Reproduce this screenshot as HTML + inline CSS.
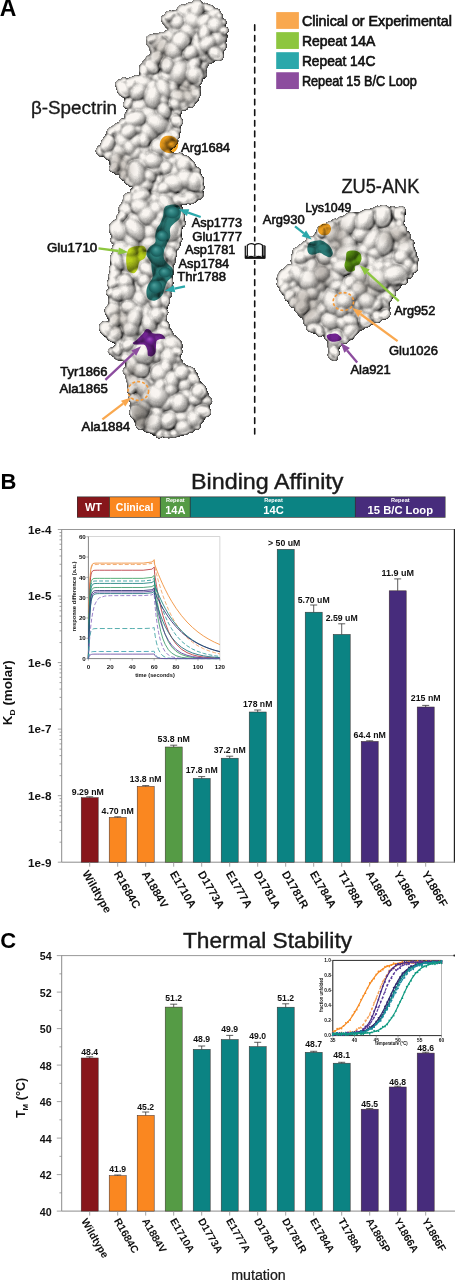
<!DOCTYPE html>
<html><head><meta charset="utf-8"><style>
html,body{margin:0;padding:0;background:#fff;}
svg{display:block;}
text{font-family:"Liberation Sans", sans-serif;}
</style></head><body>
<svg width="455" height="1280" viewBox="0 0 455 1280">
<defs><radialGradient id="h00"><stop offset="0" stop-color="rgb(83,83,83)"/><stop offset="0.25" stop-color="rgb(82,82,82)"/><stop offset="0.45" stop-color="rgb(77,77,77)"/><stop offset="0.6" stop-color="rgb(72,72,72)"/><stop offset="0.72" stop-color="rgb(66,66,66)"/><stop offset="0.82" stop-color="rgb(59,59,59)"/><stop offset="0.89" stop-color="rgb(52,52,52)"/><stop offset="0.94" stop-color="rgb(45,45,45)"/><stop offset="0.975" stop-color="rgb(38,38,38)"/><stop offset="1.0" stop-color="rgb(26,26,26)"/></radialGradient><radialGradient id="h01"><stop offset="0" stop-color="rgb(95,95,95)"/><stop offset="0.25" stop-color="rgb(93,93,93)"/><stop offset="0.45" stop-color="rgb(88,88,88)"/><stop offset="0.6" stop-color="rgb(81,81,81)"/><stop offset="0.72" stop-color="rgb(74,74,74)"/><stop offset="0.82" stop-color="rgb(65,65,65)"/><stop offset="0.89" stop-color="rgb(57,57,57)"/><stop offset="0.94" stop-color="rgb(49,49,49)"/><stop offset="0.975" stop-color="rgb(41,41,41)"/><stop offset="1.0" stop-color="rgb(26,26,26)"/></radialGradient><radialGradient id="h02"><stop offset="0" stop-color="rgb(107,107,107)"/><stop offset="0.25" stop-color="rgb(104,104,104)"/><stop offset="0.45" stop-color="rgb(98,98,98)"/><stop offset="0.6" stop-color="rgb(90,90,90)"/><stop offset="0.72" stop-color="rgb(82,82,82)"/><stop offset="0.82" stop-color="rgb(72,72,72)"/><stop offset="0.89" stop-color="rgb(62,62,62)"/><stop offset="0.94" stop-color="rgb(53,53,53)"/><stop offset="0.975" stop-color="rgb(44,44,44)"/><stop offset="1.0" stop-color="rgb(26,26,26)"/></radialGradient><radialGradient id="h03"><stop offset="0" stop-color="rgb(118,118,118)"/><stop offset="0.25" stop-color="rgb(115,115,115)"/><stop offset="0.45" stop-color="rgb(108,108,108)"/><stop offset="0.6" stop-color="rgb(100,100,100)"/><stop offset="0.72" stop-color="rgb(90,90,90)"/><stop offset="0.82" stop-color="rgb(79,79,79)"/><stop offset="0.89" stop-color="rgb(68,68,68)"/><stop offset="0.94" stop-color="rgb(57,57,57)"/><stop offset="0.975" stop-color="rgb(46,46,46)"/><stop offset="1.0" stop-color="rgb(26,26,26)"/></radialGradient><radialGradient id="h04"><stop offset="0" stop-color="rgb(130,130,130)"/><stop offset="0.25" stop-color="rgb(127,127,127)"/><stop offset="0.45" stop-color="rgb(119,119,119)"/><stop offset="0.6" stop-color="rgb(109,109,109)"/><stop offset="0.72" stop-color="rgb(98,98,98)"/><stop offset="0.82" stop-color="rgb(85,85,85)"/><stop offset="0.89" stop-color="rgb(73,73,73)"/><stop offset="0.94" stop-color="rgb(61,61,61)"/><stop offset="0.975" stop-color="rgb(49,49,49)"/><stop offset="1.0" stop-color="rgb(26,26,26)"/></radialGradient><radialGradient id="h05"><stop offset="0" stop-color="rgb(141,141,141)"/><stop offset="0.25" stop-color="rgb(138,138,138)"/><stop offset="0.45" stop-color="rgb(129,129,129)"/><stop offset="0.6" stop-color="rgb(118,118,118)"/><stop offset="0.72" stop-color="rgb(106,106,106)"/><stop offset="0.82" stop-color="rgb(92,92,92)"/><stop offset="0.89" stop-color="rgb(78,78,78)"/><stop offset="0.94" stop-color="rgb(65,65,65)"/><stop offset="0.975" stop-color="rgb(51,51,51)"/><stop offset="1.0" stop-color="rgb(26,26,26)"/></radialGradient><radialGradient id="h06"><stop offset="0" stop-color="rgb(153,153,153)"/><stop offset="0.25" stop-color="rgb(149,149,149)"/><stop offset="0.45" stop-color="rgb(139,139,139)"/><stop offset="0.6" stop-color="rgb(128,128,128)"/><stop offset="0.72" stop-color="rgb(114,114,114)"/><stop offset="0.82" stop-color="rgb(98,98,98)"/><stop offset="0.89" stop-color="rgb(84,84,84)"/><stop offset="0.94" stop-color="rgb(69,69,69)"/><stop offset="0.975" stop-color="rgb(54,54,54)"/><stop offset="1.0" stop-color="rgb(26,26,26)"/></radialGradient><radialGradient id="h07"><stop offset="0" stop-color="rgb(165,165,165)"/><stop offset="0.25" stop-color="rgb(160,160,160)"/><stop offset="0.45" stop-color="rgb(150,150,150)"/><stop offset="0.6" stop-color="rgb(137,137,137)"/><stop offset="0.72" stop-color="rgb(122,122,122)"/><stop offset="0.82" stop-color="rgb(105,105,105)"/><stop offset="0.89" stop-color="rgb(89,89,89)"/><stop offset="0.94" stop-color="rgb(73,73,73)"/><stop offset="0.975" stop-color="rgb(56,56,56)"/><stop offset="1.0" stop-color="rgb(26,26,26)"/></radialGradient><radialGradient id="h08"><stop offset="0" stop-color="rgb(176,176,176)"/><stop offset="0.25" stop-color="rgb(171,171,171)"/><stop offset="0.45" stop-color="rgb(160,160,160)"/><stop offset="0.6" stop-color="rgb(146,146,146)"/><stop offset="0.72" stop-color="rgb(130,130,130)"/><stop offset="0.82" stop-color="rgb(112,112,112)"/><stop offset="0.89" stop-color="rgb(94,94,94)"/><stop offset="0.94" stop-color="rgb(77,77,77)"/><stop offset="0.975" stop-color="rgb(59,59,59)"/><stop offset="1.0" stop-color="rgb(26,26,26)"/></radialGradient><radialGradient id="h09"><stop offset="0" stop-color="rgb(188,188,188)"/><stop offset="0.25" stop-color="rgb(183,183,183)"/><stop offset="0.45" stop-color="rgb(170,170,170)"/><stop offset="0.6" stop-color="rgb(155,155,155)"/><stop offset="0.72" stop-color="rgb(138,138,138)"/><stop offset="0.82" stop-color="rgb(118,118,118)"/><stop offset="0.89" stop-color="rgb(99,99,99)"/><stop offset="0.94" stop-color="rgb(81,81,81)"/><stop offset="0.975" stop-color="rgb(62,62,62)"/><stop offset="1.0" stop-color="rgb(26,26,26)"/></radialGradient><radialGradient id="h010"><stop offset="0" stop-color="rgb(199,199,199)"/><stop offset="0.25" stop-color="rgb(194,194,194)"/><stop offset="0.45" stop-color="rgb(181,181,181)"/><stop offset="0.6" stop-color="rgb(165,165,165)"/><stop offset="0.72" stop-color="rgb(146,146,146)"/><stop offset="0.82" stop-color="rgb(125,125,125)"/><stop offset="0.89" stop-color="rgb(105,105,105)"/><stop offset="0.94" stop-color="rgb(85,85,85)"/><stop offset="0.975" stop-color="rgb(64,64,64)"/><stop offset="1.0" stop-color="rgb(26,26,26)"/></radialGradient><radialGradient id="h011"><stop offset="0" stop-color="rgb(211,211,211)"/><stop offset="0.25" stop-color="rgb(205,205,205)"/><stop offset="0.45" stop-color="rgb(191,191,191)"/><stop offset="0.6" stop-color="rgb(174,174,174)"/><stop offset="0.72" stop-color="rgb(154,154,154)"/><stop offset="0.82" stop-color="rgb(132,132,132)"/><stop offset="0.89" stop-color="rgb(110,110,110)"/><stop offset="0.94" stop-color="rgb(89,89,89)"/><stop offset="0.975" stop-color="rgb(67,67,67)"/><stop offset="1.0" stop-color="rgb(26,26,26)"/></radialGradient><radialGradient id="h10"><stop offset="0" stop-color="rgb(104,104,104)"/><stop offset="0.25" stop-color="rgb(102,102,102)"/><stop offset="0.45" stop-color="rgb(98,98,98)"/><stop offset="0.6" stop-color="rgb(92,92,92)"/><stop offset="0.72" stop-color="rgb(86,86,86)"/><stop offset="0.82" stop-color="rgb(79,79,79)"/><stop offset="0.89" stop-color="rgb(72,72,72)"/><stop offset="0.94" stop-color="rgb(66,66,66)"/><stop offset="0.975" stop-color="rgb(59,59,59)"/><stop offset="1.0" stop-color="rgb(46,46,46)"/></radialGradient><radialGradient id="h11"><stop offset="0" stop-color="rgb(115,115,115)"/><stop offset="0.25" stop-color="rgb(113,113,113)"/><stop offset="0.45" stop-color="rgb(108,108,108)"/><stop offset="0.6" stop-color="rgb(102,102,102)"/><stop offset="0.72" stop-color="rgb(94,94,94)"/><stop offset="0.82" stop-color="rgb(86,86,86)"/><stop offset="0.89" stop-color="rgb(78,78,78)"/><stop offset="0.94" stop-color="rgb(70,70,70)"/><stop offset="0.975" stop-color="rgb(61,61,61)"/><stop offset="1.0" stop-color="rgb(46,46,46)"/></radialGradient><radialGradient id="h12"><stop offset="0" stop-color="rgb(127,127,127)"/><stop offset="0.25" stop-color="rgb(124,124,124)"/><stop offset="0.45" stop-color="rgb(118,118,118)"/><stop offset="0.6" stop-color="rgb(111,111,111)"/><stop offset="0.72" stop-color="rgb(102,102,102)"/><stop offset="0.82" stop-color="rgb(92,92,92)"/><stop offset="0.89" stop-color="rgb(83,83,83)"/><stop offset="0.94" stop-color="rgb(74,74,74)"/><stop offset="0.975" stop-color="rgb(64,64,64)"/><stop offset="1.0" stop-color="rgb(46,46,46)"/></radialGradient><radialGradient id="h13"><stop offset="0" stop-color="rgb(139,139,139)"/><stop offset="0.25" stop-color="rgb(136,136,136)"/><stop offset="0.45" stop-color="rgb(129,129,129)"/><stop offset="0.6" stop-color="rgb(120,120,120)"/><stop offset="0.72" stop-color="rgb(110,110,110)"/><stop offset="0.82" stop-color="rgb(99,99,99)"/><stop offset="0.89" stop-color="rgb(88,88,88)"/><stop offset="0.94" stop-color="rgb(78,78,78)"/><stop offset="0.975" stop-color="rgb(67,67,67)"/><stop offset="1.0" stop-color="rgb(46,46,46)"/></radialGradient><radialGradient id="h14"><stop offset="0" stop-color="rgb(150,150,150)"/><stop offset="0.25" stop-color="rgb(147,147,147)"/><stop offset="0.45" stop-color="rgb(139,139,139)"/><stop offset="0.6" stop-color="rgb(129,129,129)"/><stop offset="0.72" stop-color="rgb(118,118,118)"/><stop offset="0.82" stop-color="rgb(106,106,106)"/><stop offset="0.89" stop-color="rgb(93,93,93)"/><stop offset="0.94" stop-color="rgb(81,81,81)"/><stop offset="0.975" stop-color="rgb(69,69,69)"/><stop offset="1.0" stop-color="rgb(46,46,46)"/></radialGradient><radialGradient id="h15"><stop offset="0" stop-color="rgb(162,162,162)"/><stop offset="0.25" stop-color="rgb(158,158,158)"/><stop offset="0.45" stop-color="rgb(149,149,149)"/><stop offset="0.6" stop-color="rgb(139,139,139)"/><stop offset="0.72" stop-color="rgb(126,126,126)"/><stop offset="0.82" stop-color="rgb(112,112,112)"/><stop offset="0.89" stop-color="rgb(99,99,99)"/><stop offset="0.94" stop-color="rgb(85,85,85)"/><stop offset="0.975" stop-color="rgb(72,72,72)"/><stop offset="1.0" stop-color="rgb(46,46,46)"/></radialGradient><radialGradient id="h16"><stop offset="0" stop-color="rgb(173,173,173)"/><stop offset="0.25" stop-color="rgb(169,169,169)"/><stop offset="0.45" stop-color="rgb(160,160,160)"/><stop offset="0.6" stop-color="rgb(148,148,148)"/><stop offset="0.72" stop-color="rgb(134,134,134)"/><stop offset="0.82" stop-color="rgb(119,119,119)"/><stop offset="0.89" stop-color="rgb(104,104,104)"/><stop offset="0.94" stop-color="rgb(89,89,89)"/><stop offset="0.975" stop-color="rgb(74,74,74)"/><stop offset="1.0" stop-color="rgb(46,46,46)"/></radialGradient><radialGradient id="h17"><stop offset="0" stop-color="rgb(185,185,185)"/><stop offset="0.25" stop-color="rgb(181,181,181)"/><stop offset="0.45" stop-color="rgb(170,170,170)"/><stop offset="0.6" stop-color="rgb(157,157,157)"/><stop offset="0.72" stop-color="rgb(142,142,142)"/><stop offset="0.82" stop-color="rgb(126,126,126)"/><stop offset="0.89" stop-color="rgb(109,109,109)"/><stop offset="0.94" stop-color="rgb(93,93,93)"/><stop offset="0.975" stop-color="rgb(77,77,77)"/><stop offset="1.0" stop-color="rgb(46,46,46)"/></radialGradient><radialGradient id="h18"><stop offset="0" stop-color="rgb(197,197,197)"/><stop offset="0.25" stop-color="rgb(192,192,192)"/><stop offset="0.45" stop-color="rgb(180,180,180)"/><stop offset="0.6" stop-color="rgb(166,166,166)"/><stop offset="0.72" stop-color="rgb(150,150,150)"/><stop offset="0.82" stop-color="rgb(132,132,132)"/><stop offset="0.89" stop-color="rgb(115,115,115)"/><stop offset="0.94" stop-color="rgb(97,97,97)"/><stop offset="0.975" stop-color="rgb(79,79,79)"/><stop offset="1.0" stop-color="rgb(46,46,46)"/></radialGradient><radialGradient id="h19"><stop offset="0" stop-color="rgb(208,208,208)"/><stop offset="0.25" stop-color="rgb(203,203,203)"/><stop offset="0.45" stop-color="rgb(191,191,191)"/><stop offset="0.6" stop-color="rgb(176,176,176)"/><stop offset="0.72" stop-color="rgb(159,159,159)"/><stop offset="0.82" stop-color="rgb(139,139,139)"/><stop offset="0.89" stop-color="rgb(120,120,120)"/><stop offset="0.94" stop-color="rgb(101,101,101)"/><stop offset="0.975" stop-color="rgb(82,82,82)"/><stop offset="1.0" stop-color="rgb(46,46,46)"/></radialGradient><radialGradient id="h110"><stop offset="0" stop-color="rgb(220,220,220)"/><stop offset="0.25" stop-color="rgb(214,214,214)"/><stop offset="0.45" stop-color="rgb(201,201,201)"/><stop offset="0.6" stop-color="rgb(185,185,185)"/><stop offset="0.72" stop-color="rgb(167,167,167)"/><stop offset="0.82" stop-color="rgb(145,145,145)"/><stop offset="0.89" stop-color="rgb(125,125,125)"/><stop offset="0.94" stop-color="rgb(105,105,105)"/><stop offset="0.975" stop-color="rgb(85,85,85)"/><stop offset="1.0" stop-color="rgb(46,46,46)"/></radialGradient><radialGradient id="h111"><stop offset="0" stop-color="rgb(231,231,231)"/><stop offset="0.25" stop-color="rgb(225,225,225)"/><stop offset="0.45" stop-color="rgb(212,212,212)"/><stop offset="0.6" stop-color="rgb(194,194,194)"/><stop offset="0.72" stop-color="rgb(175,175,175)"/><stop offset="0.82" stop-color="rgb(152,152,152)"/><stop offset="0.89" stop-color="rgb(130,130,130)"/><stop offset="0.94" stop-color="rgb(109,109,109)"/><stop offset="0.975" stop-color="rgb(87,87,87)"/><stop offset="1.0" stop-color="rgb(46,46,46)"/></radialGradient><radialGradient id="h20"><stop offset="0" stop-color="rgb(124,124,124)"/><stop offset="0.25" stop-color="rgb(122,122,122)"/><stop offset="0.45" stop-color="rgb(118,118,118)"/><stop offset="0.6" stop-color="rgb(113,113,113)"/><stop offset="0.72" stop-color="rgb(107,107,107)"/><stop offset="0.82" stop-color="rgb(99,99,99)"/><stop offset="0.89" stop-color="rgb(93,93,93)"/><stop offset="0.94" stop-color="rgb(86,86,86)"/><stop offset="0.975" stop-color="rgb(79,79,79)"/><stop offset="1.0" stop-color="rgb(66,66,66)"/></radialGradient><radialGradient id="h21"><stop offset="0" stop-color="rgb(136,136,136)"/><stop offset="0.25" stop-color="rgb(134,134,134)"/><stop offset="0.45" stop-color="rgb(128,128,128)"/><stop offset="0.6" stop-color="rgb(122,122,122)"/><stop offset="0.72" stop-color="rgb(115,115,115)"/><stop offset="0.82" stop-color="rgb(106,106,106)"/><stop offset="0.89" stop-color="rgb(98,98,98)"/><stop offset="0.94" stop-color="rgb(90,90,90)"/><stop offset="0.975" stop-color="rgb(82,82,82)"/><stop offset="1.0" stop-color="rgb(66,66,66)"/></radialGradient><radialGradient id="h22"><stop offset="0" stop-color="rgb(147,147,147)"/><stop offset="0.25" stop-color="rgb(145,145,145)"/><stop offset="0.45" stop-color="rgb(139,139,139)"/><stop offset="0.6" stop-color="rgb(131,131,131)"/><stop offset="0.72" stop-color="rgb(123,123,123)"/><stop offset="0.82" stop-color="rgb(113,113,113)"/><stop offset="0.89" stop-color="rgb(103,103,103)"/><stop offset="0.94" stop-color="rgb(94,94,94)"/><stop offset="0.975" stop-color="rgb(84,84,84)"/><stop offset="1.0" stop-color="rgb(66,66,66)"/></radialGradient><radialGradient id="h23"><stop offset="0" stop-color="rgb(159,159,159)"/><stop offset="0.25" stop-color="rgb(156,156,156)"/><stop offset="0.45" stop-color="rgb(149,149,149)"/><stop offset="0.6" stop-color="rgb(140,140,140)"/><stop offset="0.72" stop-color="rgb(131,131,131)"/><stop offset="0.82" stop-color="rgb(119,119,119)"/><stop offset="0.89" stop-color="rgb(109,109,109)"/><stop offset="0.94" stop-color="rgb(98,98,98)"/><stop offset="0.975" stop-color="rgb(87,87,87)"/><stop offset="1.0" stop-color="rgb(66,66,66)"/></radialGradient><radialGradient id="h24"><stop offset="0" stop-color="rgb(171,171,171)"/><stop offset="0.25" stop-color="rgb(167,167,167)"/><stop offset="0.45" stop-color="rgb(159,159,159)"/><stop offset="0.6" stop-color="rgb(150,150,150)"/><stop offset="0.72" stop-color="rgb(139,139,139)"/><stop offset="0.82" stop-color="rgb(126,126,126)"/><stop offset="0.89" stop-color="rgb(114,114,114)"/><stop offset="0.94" stop-color="rgb(102,102,102)"/><stop offset="0.975" stop-color="rgb(89,89,89)"/><stop offset="1.0" stop-color="rgb(66,66,66)"/></radialGradient><radialGradient id="h25"><stop offset="0" stop-color="rgb(182,182,182)"/><stop offset="0.25" stop-color="rgb(179,179,179)"/><stop offset="0.45" stop-color="rgb(170,170,170)"/><stop offset="0.6" stop-color="rgb(159,159,159)"/><stop offset="0.72" stop-color="rgb(147,147,147)"/><stop offset="0.82" stop-color="rgb(133,133,133)"/><stop offset="0.89" stop-color="rgb(119,119,119)"/><stop offset="0.94" stop-color="rgb(106,106,106)"/><stop offset="0.975" stop-color="rgb(92,92,92)"/><stop offset="1.0" stop-color="rgb(66,66,66)"/></radialGradient><radialGradient id="h26"><stop offset="0" stop-color="rgb(194,194,194)"/><stop offset="0.25" stop-color="rgb(190,190,190)"/><stop offset="0.45" stop-color="rgb(180,180,180)"/><stop offset="0.6" stop-color="rgb(168,168,168)"/><stop offset="0.72" stop-color="rgb(155,155,155)"/><stop offset="0.82" stop-color="rgb(139,139,139)"/><stop offset="0.89" stop-color="rgb(124,124,124)"/><stop offset="0.94" stop-color="rgb(110,110,110)"/><stop offset="0.975" stop-color="rgb(95,95,95)"/><stop offset="1.0" stop-color="rgb(66,66,66)"/></radialGradient><radialGradient id="h27"><stop offset="0" stop-color="rgb(205,205,205)"/><stop offset="0.25" stop-color="rgb(201,201,201)"/><stop offset="0.45" stop-color="rgb(191,191,191)"/><stop offset="0.6" stop-color="rgb(178,178,178)"/><stop offset="0.72" stop-color="rgb(163,163,163)"/><stop offset="0.82" stop-color="rgb(146,146,146)"/><stop offset="0.89" stop-color="rgb(130,130,130)"/><stop offset="0.94" stop-color="rgb(114,114,114)"/><stop offset="0.975" stop-color="rgb(97,97,97)"/><stop offset="1.0" stop-color="rgb(66,66,66)"/></radialGradient><radialGradient id="h28"><stop offset="0" stop-color="rgb(217,217,217)"/><stop offset="0.25" stop-color="rgb(212,212,212)"/><stop offset="0.45" stop-color="rgb(201,201,201)"/><stop offset="0.6" stop-color="rgb(187,187,187)"/><stop offset="0.72" stop-color="rgb(171,171,171)"/><stop offset="0.82" stop-color="rgb(153,153,153)"/><stop offset="0.89" stop-color="rgb(135,135,135)"/><stop offset="0.94" stop-color="rgb(118,118,118)"/><stop offset="0.975" stop-color="rgb(100,100,100)"/><stop offset="1.0" stop-color="rgb(66,66,66)"/></radialGradient><radialGradient id="h29"><stop offset="0" stop-color="rgb(229,229,229)"/><stop offset="0.25" stop-color="rgb(223,223,223)"/><stop offset="0.45" stop-color="rgb(211,211,211)"/><stop offset="0.6" stop-color="rgb(196,196,196)"/><stop offset="0.72" stop-color="rgb(179,179,179)"/><stop offset="0.82" stop-color="rgb(159,159,159)"/><stop offset="0.89" stop-color="rgb(140,140,140)"/><stop offset="0.94" stop-color="rgb(122,122,122)"/><stop offset="0.975" stop-color="rgb(102,102,102)"/><stop offset="1.0" stop-color="rgb(66,66,66)"/></radialGradient><radialGradient id="h210"><stop offset="0" stop-color="rgb(240,240,240)"/><stop offset="0.25" stop-color="rgb(235,235,235)"/><stop offset="0.45" stop-color="rgb(222,222,222)"/><stop offset="0.6" stop-color="rgb(205,205,205)"/><stop offset="0.72" stop-color="rgb(187,187,187)"/><stop offset="0.82" stop-color="rgb(166,166,166)"/><stop offset="0.89" stop-color="rgb(146,146,146)"/><stop offset="0.94" stop-color="rgb(126,126,126)"/><stop offset="0.975" stop-color="rgb(105,105,105)"/><stop offset="1.0" stop-color="rgb(66,66,66)"/></radialGradient><radialGradient id="h211"><stop offset="0" stop-color="rgb(252,252,252)"/><stop offset="0.25" stop-color="rgb(246,246,246)"/><stop offset="0.45" stop-color="rgb(232,232,232)"/><stop offset="0.6" stop-color="rgb(215,215,215)"/><stop offset="0.72" stop-color="rgb(195,195,195)"/><stop offset="0.82" stop-color="rgb(172,172,172)"/><stop offset="0.89" stop-color="rgb(151,151,151)"/><stop offset="0.94" stop-color="rgb(130,130,130)"/><stop offset="0.975" stop-color="rgb(108,108,108)"/><stop offset="1.0" stop-color="rgb(66,66,66)"/></radialGradient><radialGradient id="h30"><stop offset="0" stop-color="rgb(145,145,145)"/><stop offset="0.25" stop-color="rgb(143,143,143)"/><stop offset="0.45" stop-color="rgb(138,138,138)"/><stop offset="0.6" stop-color="rgb(133,133,133)"/><stop offset="0.72" stop-color="rgb(127,127,127)"/><stop offset="0.82" stop-color="rgb(120,120,120)"/><stop offset="0.89" stop-color="rgb(113,113,113)"/><stop offset="0.94" stop-color="rgb(106,106,106)"/><stop offset="0.975" stop-color="rgb(100,100,100)"/><stop offset="1.0" stop-color="rgb(87,87,87)"/></radialGradient><radialGradient id="h31"><stop offset="0" stop-color="rgb(156,156,156)"/><stop offset="0.25" stop-color="rgb(154,154,154)"/><stop offset="0.45" stop-color="rgb(149,149,149)"/><stop offset="0.6" stop-color="rgb(142,142,142)"/><stop offset="0.72" stop-color="rgb(135,135,135)"/><stop offset="0.82" stop-color="rgb(127,127,127)"/><stop offset="0.89" stop-color="rgb(118,118,118)"/><stop offset="0.94" stop-color="rgb(110,110,110)"/><stop offset="0.975" stop-color="rgb(102,102,102)"/><stop offset="1.0" stop-color="rgb(87,87,87)"/></radialGradient><radialGradient id="h32"><stop offset="0" stop-color="rgb(168,168,168)"/><stop offset="0.25" stop-color="rgb(165,165,165)"/><stop offset="0.45" stop-color="rgb(159,159,159)"/><stop offset="0.6" stop-color="rgb(152,152,152)"/><stop offset="0.72" stop-color="rgb(143,143,143)"/><stop offset="0.82" stop-color="rgb(133,133,133)"/><stop offset="0.89" stop-color="rgb(124,124,124)"/><stop offset="0.94" stop-color="rgb(114,114,114)"/><stop offset="0.975" stop-color="rgb(105,105,105)"/><stop offset="1.0" stop-color="rgb(87,87,87)"/></radialGradient><radialGradient id="h33"><stop offset="0" stop-color="rgb(179,179,179)"/><stop offset="0.25" stop-color="rgb(176,176,176)"/><stop offset="0.45" stop-color="rgb(170,170,170)"/><stop offset="0.6" stop-color="rgb(161,161,161)"/><stop offset="0.72" stop-color="rgb(151,151,151)"/><stop offset="0.82" stop-color="rgb(140,140,140)"/><stop offset="0.89" stop-color="rgb(129,129,129)"/><stop offset="0.94" stop-color="rgb(118,118,118)"/><stop offset="0.975" stop-color="rgb(107,107,107)"/><stop offset="1.0" stop-color="rgb(87,87,87)"/></radialGradient><radialGradient id="h34"><stop offset="0" stop-color="rgb(191,191,191)"/><stop offset="0.25" stop-color="rgb(188,188,188)"/><stop offset="0.45" stop-color="rgb(180,180,180)"/><stop offset="0.6" stop-color="rgb(170,170,170)"/><stop offset="0.72" stop-color="rgb(159,159,159)"/><stop offset="0.82" stop-color="rgb(146,146,146)"/><stop offset="0.89" stop-color="rgb(134,134,134)"/><stop offset="0.94" stop-color="rgb(122,122,122)"/><stop offset="0.975" stop-color="rgb(110,110,110)"/><stop offset="1.0" stop-color="rgb(87,87,87)"/></radialGradient><radialGradient id="h35"><stop offset="0" stop-color="rgb(203,203,203)"/><stop offset="0.25" stop-color="rgb(199,199,199)"/><stop offset="0.45" stop-color="rgb(190,190,190)"/><stop offset="0.6" stop-color="rgb(179,179,179)"/><stop offset="0.72" stop-color="rgb(167,167,167)"/><stop offset="0.82" stop-color="rgb(153,153,153)"/><stop offset="0.89" stop-color="rgb(140,140,140)"/><stop offset="0.94" stop-color="rgb(126,126,126)"/><stop offset="0.975" stop-color="rgb(112,112,112)"/><stop offset="1.0" stop-color="rgb(87,87,87)"/></radialGradient><radialGradient id="h36"><stop offset="0" stop-color="rgb(214,214,214)"/><stop offset="0.25" stop-color="rgb(210,210,210)"/><stop offset="0.45" stop-color="rgb(201,201,201)"/><stop offset="0.6" stop-color="rgb(189,189,189)"/><stop offset="0.72" stop-color="rgb(175,175,175)"/><stop offset="0.82" stop-color="rgb(160,160,160)"/><stop offset="0.89" stop-color="rgb(145,145,145)"/><stop offset="0.94" stop-color="rgb(130,130,130)"/><stop offset="0.975" stop-color="rgb(115,115,115)"/><stop offset="1.0" stop-color="rgb(87,87,87)"/></radialGradient><radialGradient id="h37"><stop offset="0" stop-color="rgb(226,226,226)"/><stop offset="0.25" stop-color="rgb(221,221,221)"/><stop offset="0.45" stop-color="rgb(211,211,211)"/><stop offset="0.6" stop-color="rgb(198,198,198)"/><stop offset="0.72" stop-color="rgb(183,183,183)"/><stop offset="0.82" stop-color="rgb(166,166,166)"/><stop offset="0.89" stop-color="rgb(150,150,150)"/><stop offset="0.94" stop-color="rgb(134,134,134)"/><stop offset="0.975" stop-color="rgb(118,118,118)"/><stop offset="1.0" stop-color="rgb(87,87,87)"/></radialGradient><radialGradient id="h38"><stop offset="0" stop-color="rgb(237,237,237)"/><stop offset="0.25" stop-color="rgb(233,233,233)"/><stop offset="0.45" stop-color="rgb(221,221,221)"/><stop offset="0.6" stop-color="rgb(207,207,207)"/><stop offset="0.72" stop-color="rgb(191,191,191)"/><stop offset="0.82" stop-color="rgb(173,173,173)"/><stop offset="0.89" stop-color="rgb(155,155,155)"/><stop offset="0.94" stop-color="rgb(138,138,138)"/><stop offset="0.975" stop-color="rgb(120,120,120)"/><stop offset="1.0" stop-color="rgb(87,87,87)"/></radialGradient><radialGradient id="h39"><stop offset="0" stop-color="rgb(249,249,249)"/><stop offset="0.25" stop-color="rgb(244,244,244)"/><stop offset="0.45" stop-color="rgb(232,232,232)"/><stop offset="0.6" stop-color="rgb(217,217,217)"/><stop offset="0.72" stop-color="rgb(199,199,199)"/><stop offset="0.82" stop-color="rgb(180,180,180)"/><stop offset="0.89" stop-color="rgb(161,161,161)"/><stop offset="0.94" stop-color="rgb(142,142,142)"/><stop offset="0.975" stop-color="rgb(123,123,123)"/><stop offset="1.0" stop-color="rgb(87,87,87)"/></radialGradient><radialGradient id="h310"><stop offset="0" stop-color="rgb(255,255,255)"/><stop offset="0.25" stop-color="rgb(255,255,255)"/><stop offset="0.45" stop-color="rgb(242,242,242)"/><stop offset="0.6" stop-color="rgb(226,226,226)"/><stop offset="0.72" stop-color="rgb(207,207,207)"/><stop offset="0.82" stop-color="rgb(186,186,186)"/><stop offset="0.89" stop-color="rgb(166,166,166)"/><stop offset="0.94" stop-color="rgb(146,146,146)"/><stop offset="0.975" stop-color="rgb(125,125,125)"/><stop offset="1.0" stop-color="rgb(87,87,87)"/></radialGradient><radialGradient id="h311"><stop offset="0" stop-color="rgb(255,255,255)"/><stop offset="0.25" stop-color="rgb(255,255,255)"/><stop offset="0.45" stop-color="rgb(252,252,252)"/><stop offset="0.6" stop-color="rgb(235,235,235)"/><stop offset="0.72" stop-color="rgb(215,215,215)"/><stop offset="0.82" stop-color="rgb(193,193,193)"/><stop offset="0.89" stop-color="rgb(171,171,171)"/><stop offset="0.94" stop-color="rgb(150,150,150)"/><stop offset="0.975" stop-color="rgb(128,128,128)"/><stop offset="1.0" stop-color="rgb(87,87,87)"/></radialGradient><radialGradient id="h40"><stop offset="0" stop-color="rgb(165,165,165)"/><stop offset="0.25" stop-color="rgb(163,163,163)"/><stop offset="0.45" stop-color="rgb(159,159,159)"/><stop offset="0.6" stop-color="rgb(153,153,153)"/><stop offset="0.72" stop-color="rgb(147,147,147)"/><stop offset="0.82" stop-color="rgb(140,140,140)"/><stop offset="0.89" stop-color="rgb(134,134,134)"/><stop offset="0.94" stop-color="rgb(127,127,127)"/><stop offset="0.975" stop-color="rgb(120,120,120)"/><stop offset="1.0" stop-color="rgb(107,107,107)"/></radialGradient><radialGradient id="h41"><stop offset="0" stop-color="rgb(177,177,177)"/><stop offset="0.25" stop-color="rgb(174,174,174)"/><stop offset="0.45" stop-color="rgb(169,169,169)"/><stop offset="0.6" stop-color="rgb(163,163,163)"/><stop offset="0.72" stop-color="rgb(155,155,155)"/><stop offset="0.82" stop-color="rgb(147,147,147)"/><stop offset="0.89" stop-color="rgb(139,139,139)"/><stop offset="0.94" stop-color="rgb(131,131,131)"/><stop offset="0.975" stop-color="rgb(123,123,123)"/><stop offset="1.0" stop-color="rgb(107,107,107)"/></radialGradient><radialGradient id="h42"><stop offset="0" stop-color="rgb(188,188,188)"/><stop offset="0.25" stop-color="rgb(186,186,186)"/><stop offset="0.45" stop-color="rgb(180,180,180)"/><stop offset="0.6" stop-color="rgb(172,172,172)"/><stop offset="0.72" stop-color="rgb(163,163,163)"/><stop offset="0.82" stop-color="rgb(154,154,154)"/><stop offset="0.89" stop-color="rgb(144,144,144)"/><stop offset="0.94" stop-color="rgb(135,135,135)"/><stop offset="0.975" stop-color="rgb(125,125,125)"/><stop offset="1.0" stop-color="rgb(107,107,107)"/></radialGradient><radialGradient id="h43"><stop offset="0" stop-color="rgb(200,200,200)"/><stop offset="0.25" stop-color="rgb(197,197,197)"/><stop offset="0.45" stop-color="rgb(190,190,190)"/><stop offset="0.6" stop-color="rgb(181,181,181)"/><stop offset="0.72" stop-color="rgb(171,171,171)"/><stop offset="0.82" stop-color="rgb(160,160,160)"/><stop offset="0.89" stop-color="rgb(149,149,149)"/><stop offset="0.94" stop-color="rgb(139,139,139)"/><stop offset="0.975" stop-color="rgb(128,128,128)"/><stop offset="1.0" stop-color="rgb(107,107,107)"/></radialGradient><radialGradient id="h44"><stop offset="0" stop-color="rgb(211,211,211)"/><stop offset="0.25" stop-color="rgb(208,208,208)"/><stop offset="0.45" stop-color="rgb(200,200,200)"/><stop offset="0.6" stop-color="rgb(191,191,191)"/><stop offset="0.72" stop-color="rgb(179,179,179)"/><stop offset="0.82" stop-color="rgb(167,167,167)"/><stop offset="0.89" stop-color="rgb(155,155,155)"/><stop offset="0.94" stop-color="rgb(143,143,143)"/><stop offset="0.975" stop-color="rgb(130,130,130)"/><stop offset="1.0" stop-color="rgb(107,107,107)"/></radialGradient><radialGradient id="h45"><stop offset="0" stop-color="rgb(223,223,223)"/><stop offset="0.25" stop-color="rgb(219,219,219)"/><stop offset="0.45" stop-color="rgb(211,211,211)"/><stop offset="0.6" stop-color="rgb(200,200,200)"/><stop offset="0.72" stop-color="rgb(188,188,188)"/><stop offset="0.82" stop-color="rgb(173,173,173)"/><stop offset="0.89" stop-color="rgb(160,160,160)"/><stop offset="0.94" stop-color="rgb(147,147,147)"/><stop offset="0.975" stop-color="rgb(133,133,133)"/><stop offset="1.0" stop-color="rgb(107,107,107)"/></radialGradient><radialGradient id="h46"><stop offset="0" stop-color="rgb(235,235,235)"/><stop offset="0.25" stop-color="rgb(231,231,231)"/><stop offset="0.45" stop-color="rgb(221,221,221)"/><stop offset="0.6" stop-color="rgb(209,209,209)"/><stop offset="0.72" stop-color="rgb(196,196,196)"/><stop offset="0.82" stop-color="rgb(180,180,180)"/><stop offset="0.89" stop-color="rgb(165,165,165)"/><stop offset="0.94" stop-color="rgb(151,151,151)"/><stop offset="0.975" stop-color="rgb(135,135,135)"/><stop offset="1.0" stop-color="rgb(107,107,107)"/></radialGradient><radialGradient id="h47"><stop offset="0" stop-color="rgb(246,246,246)"/><stop offset="0.25" stop-color="rgb(242,242,242)"/><stop offset="0.45" stop-color="rgb(231,231,231)"/><stop offset="0.6" stop-color="rgb(218,218,218)"/><stop offset="0.72" stop-color="rgb(204,204,204)"/><stop offset="0.82" stop-color="rgb(187,187,187)"/><stop offset="0.89" stop-color="rgb(171,171,171)"/><stop offset="0.94" stop-color="rgb(155,155,155)"/><stop offset="0.975" stop-color="rgb(138,138,138)"/><stop offset="1.0" stop-color="rgb(107,107,107)"/></radialGradient><radialGradient id="h48"><stop offset="0" stop-color="rgb(255,255,255)"/><stop offset="0.25" stop-color="rgb(253,253,253)"/><stop offset="0.45" stop-color="rgb(242,242,242)"/><stop offset="0.6" stop-color="rgb(228,228,228)"/><stop offset="0.72" stop-color="rgb(212,212,212)"/><stop offset="0.82" stop-color="rgb(193,193,193)"/><stop offset="0.89" stop-color="rgb(176,176,176)"/><stop offset="0.94" stop-color="rgb(159,159,159)"/><stop offset="0.975" stop-color="rgb(141,141,141)"/><stop offset="1.0" stop-color="rgb(107,107,107)"/></radialGradient><radialGradient id="h49"><stop offset="0" stop-color="rgb(255,255,255)"/><stop offset="0.25" stop-color="rgb(255,255,255)"/><stop offset="0.45" stop-color="rgb(252,252,252)"/><stop offset="0.6" stop-color="rgb(237,237,237)"/><stop offset="0.72" stop-color="rgb(220,220,220)"/><stop offset="0.82" stop-color="rgb(200,200,200)"/><stop offset="0.89" stop-color="rgb(181,181,181)"/><stop offset="0.94" stop-color="rgb(162,162,162)"/><stop offset="0.975" stop-color="rgb(143,143,143)"/><stop offset="1.0" stop-color="rgb(107,107,107)"/></radialGradient><radialGradient id="h410"><stop offset="0" stop-color="rgb(255,255,255)"/><stop offset="0.25" stop-color="rgb(255,255,255)"/><stop offset="0.45" stop-color="rgb(255,255,255)"/><stop offset="0.6" stop-color="rgb(246,246,246)"/><stop offset="0.72" stop-color="rgb(228,228,228)"/><stop offset="0.82" stop-color="rgb(207,207,207)"/><stop offset="0.89" stop-color="rgb(186,186,186)"/><stop offset="0.94" stop-color="rgb(166,166,166)"/><stop offset="0.975" stop-color="rgb(146,146,146)"/><stop offset="1.0" stop-color="rgb(107,107,107)"/></radialGradient><radialGradient id="h411"><stop offset="0" stop-color="rgb(255,255,255)"/><stop offset="0.25" stop-color="rgb(255,255,255)"/><stop offset="0.45" stop-color="rgb(255,255,255)"/><stop offset="0.6" stop-color="rgb(255,255,255)"/><stop offset="0.72" stop-color="rgb(236,236,236)"/><stop offset="0.82" stop-color="rgb(213,213,213)"/><stop offset="0.89" stop-color="rgb(192,192,192)"/><stop offset="0.94" stop-color="rgb(170,170,170)"/><stop offset="0.975" stop-color="rgb(148,148,148)"/><stop offset="1.0" stop-color="rgb(107,107,107)"/></radialGradient><filter id="molS" filterUnits="userSpaceOnUse" x="60" y="0" width="200" height="445" color-interpolation-filters="sRGB">
 <feColorMatrix in="SourceGraphic" type="luminanceToAlpha" result="h0"/>
 <feGaussianBlur in="h0" stdDeviation="0.9" result="h"/>
 <feDiffuseLighting in="h" surfaceScale="22.0" diffuseConstant="1" lighting-color="#ffffff" result="diff">
  <feDistantLight azimuth="235" elevation="60"/>
 </feDiffuseLighting>
 <feColorMatrix in="h" type="matrix" values="0 0 0 1 0  0 0 0 1 0  0 0 0 1 0  0 0 0 0 1" result="hr"/>
 <feGaussianBlur in="hr" stdDeviation="1.8" result="hb"/>
 <feComposite in="hr" in2="hb" operator="arithmetic" k1="0" k2="9" k3="-9" k4="0.5" result="L"/>
 <feComposite in="diff" in2="L" operator="arithmetic" k1="0" k2="0.5" k3="0.8" k4="0.1" result="F"/>
 <feComponentTransfer in="h0" result="mask"><feFuncA type="linear" slope="40" intercept="-1"/></feComponentTransfer>
 <feColorMatrix in="F" type="matrix" values="0.975 0 0 0 0  0 0.962 0 0 0  0 0 0.945 0 0  0 0 0 1 0" result="lit"/>
 <feMorphology in="mask" operator="erode" radius="1.2" result="inner"/>
 <feGaussianBlur in="inner" stdDeviation="0.8" result="innerb"/>
 <feColorMatrix in="innerb" type="matrix" values="0 0 0 0.4 0.60  0 0 0 0.4 0.60  0 0 0 0.4 0.60  0 0 0 0 1" result="rimf"/>
 <feComposite in="lit" in2="rimf" operator="arithmetic" k1="1" k2="0" k3="0" k4="0" result="lit2"/>
 <feComposite in="lit2" in2="mask" operator="in"/>
</filter><filter id="molZ" filterUnits="userSpaceOnUse" x="270" y="195" width="160" height="175" color-interpolation-filters="sRGB">
 <feColorMatrix in="SourceGraphic" type="luminanceToAlpha" result="h0"/>
 <feGaussianBlur in="h0" stdDeviation="0.9" result="h"/>
 <feDiffuseLighting in="h" surfaceScale="22.0" diffuseConstant="1" lighting-color="#ffffff" result="diff">
  <feDistantLight azimuth="235" elevation="60"/>
 </feDiffuseLighting>
 <feColorMatrix in="h" type="matrix" values="0 0 0 1 0  0 0 0 1 0  0 0 0 1 0  0 0 0 0 1" result="hr"/>
 <feGaussianBlur in="hr" stdDeviation="1.8" result="hb"/>
 <feComposite in="hr" in2="hb" operator="arithmetic" k1="0" k2="9" k3="-9" k4="0.5" result="L"/>
 <feComposite in="diff" in2="L" operator="arithmetic" k1="0" k2="0.5" k3="0.8" k4="0.1" result="F"/>
 <feComponentTransfer in="h0" result="mask"><feFuncA type="linear" slope="40" intercept="-1"/></feComponentTransfer>
 <feColorMatrix in="F" type="matrix" values="0.975 0 0 0 0  0 0.962 0 0 0  0 0 0.945 0 0  0 0 0 1 0" result="lit"/>
 <feMorphology in="mask" operator="erode" radius="1.2" result="inner"/>
 <feGaussianBlur in="inner" stdDeviation="0.8" result="innerb"/>
 <feColorMatrix in="innerb" type="matrix" values="0 0 0 0.4 0.60  0 0 0 0.4 0.60  0 0 0 0.4 0.60  0 0 0 0 1" result="rimf"/>
 <feComposite in="lit" in2="rimf" operator="arithmetic" k1="1" k2="0" k3="0" k4="0" result="lit2"/>
 <feComposite in="lit2" in2="mask" operator="in"/>
</filter></defs>
<g filter="url(#molS)"><rect x="60" y="0" width="200" height="445" fill="#000"/>
<path d="M185.6 5.0 L189.8 3.8 L194.3 2.8 L198.8 2.6 L203.3 3.2 L207.8 4.6 L212.0 6.6 L215.7 9.2 L219.1 12.5 L221.9 16.5 L224.2 21.4 L226.0 27.0 L226.8 33.0 L226.5 39.8 L225.3 46.9 L223.5 52.8 L221.1 56.5 L218.2 58.9 L215.3 61.0 L212.3 62.7 L209.3 64.1 L207.0 66.0 L206.2 68.9 L206.1 72.3 L205.4 75.8 L203.3 79.1 L200.7 82.4 L198.8 85.7 L198.6 89.0 L199.0 92.3 L198.8 95.6 L197.3 99.0 L195.0 102.5 L192.2 105.5 L188.4 107.8 L184.0 109.7 L181.0 112.0 L180.4 115.1 L181.2 118.6 L181.5 122.3 L180.7 126.4 L179.6 130.7 L178.5 134.6 L177.7 138.0 L177.0 141.0 L176.0 143.8 L173.9 146.4 L171.4 148.8 L171.0 151.0 L174.1 152.9 L179.1 154.6 L184.0 156.5 L188.0 158.7 L191.8 161.2 L195.0 164.0 L197.3 167.4 L199.0 171.2 L200.4 175.0 L201.5 178.7 L202.2 182.5 L202.6 186.0 L202.6 189.2 L202.3 192.3 L201.5 195.0 L200.1 197.5 L198.2 199.7 L196.0 201.5 L193.6 202.5 L191.0 203.1 L188.4 203.7 L185.6 204.2 L182.8 204.7 L181.0 206.0 L181.0 208.6 L182.0 211.9 L183.0 215.0 L183.8 217.2 L184.5 219.1 L184.6 221.5 L183.7 224.6 L182.3 228.1 L181.0 232.0 L180.2 236.4 L179.5 241.1 L178.5 246.0 L177.0 251.1 L175.2 256.3 L173.8 261.5 L173.1 266.7 L172.7 271.8 L172.3 277.0 L171.8 282.3 L171.3 287.6 L170.8 292.3 L170.3 295.9 L169.9 299.0 L169.2 302.3 L168.1 306.3 L166.8 310.6 L166.0 314.6 L166.1 317.9 L166.7 320.8 L167.7 323.8 L169.0 327.0 L170.5 330.2 L172.3 333.0 L174.4 335.1 L176.7 336.8 L178.5 339.2 L179.3 342.9 L179.7 347.3 L180.0 351.5 L180.2 355.4 L180.4 359.2 L181.5 362.3 L184.1 364.3 L187.6 365.6 L190.8 367.0 L193.2 368.8 L195.3 370.7 L197.0 373.0 L198.1 376.0 L198.9 379.3 L200.0 382.3 L201.9 384.5 L204.1 386.3 L206.0 388.5 L207.4 391.2 L208.5 394.3 L209.2 397.7 L209.6 401.7 L209.7 406.0 L209.2 410.0 L208.1 413.3 L206.4 416.4 L204.6 419.2 L202.9 422.0 L200.9 424.6 L198.5 427.0 L195.4 429.2 L191.8 431.2 L187.7 433.0 L182.8 434.7 L177.4 436.1 L172.3 437.0 L168.0 437.2 L164.0 436.8 L160.0 436.0 L155.8 434.8 L151.7 433.2 L147.7 431.5 L143.8 429.7 L140.1 427.7 L137.0 425.4 L134.9 422.6 L133.4 419.5 L132.3 416.0 L131.6 412.1 L131.2 408.0 L130.8 403.8 L130.3 399.7 L129.9 395.6 L129.2 391.5 L128.2 387.3 L127.0 383.1 L126.0 379.2 L125.3 375.8 L124.8 372.8 L124.6 370.0 L125.2 367.2 L126.2 364.5 L126.0 362.3 L123.7 361.0 L120.2 360.2 L117.0 359.2 L114.6 357.8 L112.4 356.2 L110.8 354.6 L109.6 353.1 L108.9 351.5 L109.2 350.0 L111.7 348.5 L115.3 347.1 L117.0 345.4 L115.1 343.6 L111.3 341.5 L107.7 339.2 L104.7 336.2 L101.8 333.0 L100.0 330.0 L99.6 327.6 L100.2 325.5 L101.5 323.8 L104.0 322.8 L107.2 322.1 L109.2 320.8 L108.7 318.2 L107.0 314.8 L106.0 311.5 L106.8 308.4 L108.2 305.4 L109.2 302.3 L108.9 299.3 L108.2 296.4 L107.7 293.0 L108.0 289.1 L108.6 284.9 L109.2 280.0 L109.7 274.1 L110.2 267.6 L110.8 261.5 L111.9 256.1 L113.2 251.0 L113.8 246.0 L113.0 240.7 L111.5 235.4 L110.8 230.8 L111.8 227.4 L113.6 224.6 L115.4 221.5 L117.0 217.5 L118.6 213.1 L120.0 209.0 L121.0 205.4 L121.8 202.1 L123.0 199.2 L124.9 196.8 L127.1 194.8 L129.2 193.0 L131.2 191.4 L133.0 190.0 L133.8 188.5 L133.1 187.1 L131.3 185.6 L129.0 183.8 L126.3 181.4 L123.2 178.7 L120.0 176.0 L116.7 173.5 L113.3 171.0 L110.8 168.5 L109.9 165.8 L109.8 163.2 L109.2 160.8 L107.5 159.0 L105.3 157.5 L103.0 156.0 L100.2 154.5 L97.2 153.0 L95.4 151.5 L95.5 150.3 L96.7 149.1 L98.5 147.0 L100.8 143.3 L103.5 138.7 L106.0 134.6 L107.5 131.7 L108.8 129.4 L110.8 127.0 L114.6 124.5 L119.2 121.9 L123.0 119.2 L125.5 116.1 L127.1 112.8 L127.7 110.0 L126.6 108.2 L124.4 107.0 L123.0 105.5 L123.4 103.6 L124.6 101.5 L124.6 99.0 L122.2 95.9 L118.8 92.3 L116.4 89.0 L116.0 85.9 L116.6 83.0 L118.0 80.8 L120.1 79.8 L122.9 79.5 L126.3 79.0 L130.8 78.3 L135.9 77.4 L139.5 75.8 L140.2 72.9 L139.5 69.3 L139.5 66.0 L141.2 63.6 L143.7 61.5 L146.0 59.3 L148.1 56.6 L150.1 53.8 L151.0 51.0 L149.7 48.3 L147.3 45.7 L146.0 43.0 L146.7 40.0 L148.5 36.9 L151.0 34.6 L154.5 33.6 L158.8 33.4 L162.5 33.0 L165.5 32.2 L168.0 31.1 L169.0 29.7 L167.5 27.8 L164.6 25.5 L162.5 23.0 L162.0 20.3 L162.4 17.3 L164.0 14.8 L167.2 13.0 L171.6 11.5 L175.7 10.0 L179.0 8.3 L182.1 6.5 Z" fill="rgb(75,75,75)"/>
<ellipse transform="translate(174.4 15.1) rotate(17)" rx="5.4" ry="4.6" fill="url(#h20)" style="mix-blend-mode:lighten"/>
<ellipse transform="translate(143.8 224.8) rotate(112)" rx="8.6" ry="7.5" fill="url(#h23)" style="mix-blend-mode:lighten"/>
<ellipse transform="translate(168.1 212.8) rotate(154)" rx="8.2" ry="6.0" fill="url(#h22)" style="mix-blend-mode:lighten"/>
<ellipse transform="translate(141.7 259.7) rotate(144)" rx="10.1" ry="9.9" fill="url(#h05)" style="mix-blend-mode:lighten"/>
<ellipse transform="translate(126.2 351.2) rotate(28)" rx="10.3" ry="7.9" fill="url(#h04)" style="mix-blend-mode:lighten"/>
<ellipse transform="translate(209.3 58.6) rotate(173)" rx="6.8" ry="5.3" fill="url(#h01)" style="mix-blend-mode:lighten"/>
<ellipse transform="translate(156.7 123.0) rotate(29)" rx="13.6" ry="10.6" fill="url(#h27)" style="mix-blend-mode:lighten"/>
<ellipse transform="translate(151.8 66.8) rotate(50)" rx="7.6" ry="6.5" fill="url(#h42)" style="mix-blend-mode:lighten"/>
<ellipse transform="translate(183.8 90.5) rotate(101)" rx="8.5" ry="7.5" fill="url(#h03)" style="mix-blend-mode:lighten"/>
<ellipse transform="translate(140.7 206.4) rotate(25)" rx="10.8" ry="9.2" fill="url(#h45)" style="mix-blend-mode:lighten"/>
<ellipse transform="translate(155.7 302.9) rotate(74)" rx="8.1" ry="6.1" fill="url(#h42)" style="mix-blend-mode:lighten"/>
<ellipse transform="translate(135.9 140.5) rotate(105)" rx="11.4" ry="8.8" fill="url(#h15)" style="mix-blend-mode:lighten"/>
<ellipse transform="translate(156.6 57.9) rotate(121)" rx="8.0" ry="6.1" fill="url(#h32)" style="mix-blend-mode:lighten"/>
<ellipse transform="translate(192.5 87.6) rotate(27)" rx="9.3" ry="6.9" fill="url(#h03)" style="mix-blend-mode:lighten"/>
<ellipse transform="translate(213.1 14.3) rotate(163)" rx="8.2" ry="6.0" fill="url(#h12)" style="mix-blend-mode:lighten"/>
<ellipse transform="translate(133.8 318.6) rotate(112)" rx="11.9" ry="8.4" fill="url(#h45)" style="mix-blend-mode:lighten"/>
<ellipse transform="translate(160.1 373.3) rotate(126)" rx="10.1" ry="9.9" fill="url(#h35)" style="mix-blend-mode:lighten"/>
<ellipse transform="translate(123.8 139.6) rotate(117)" rx="12.4" ry="9.8" fill="url(#h16)" style="mix-blend-mode:lighten"/>
<ellipse transform="translate(152.6 139.2) rotate(70)" rx="8.3" ry="5.9" fill="url(#h02)" style="mix-blend-mode:lighten"/>
<ellipse transform="translate(193.5 20.0) rotate(178)" rx="12.2" ry="11.8" fill="url(#h07)" style="mix-blend-mode:lighten"/>
<ellipse transform="translate(198.0 405.7) rotate(138)" rx="7.7" ry="6.3" fill="url(#h02)" style="mix-blend-mode:lighten"/>
<ellipse transform="translate(114.9 274.7) rotate(120)" rx="8.1" ry="6.0" fill="url(#h32)" style="mix-blend-mode:lighten"/>
<ellipse transform="translate(198.7 391.4) rotate(121)" rx="8.5" ry="7.5" fill="url(#h43)" style="mix-blend-mode:lighten"/>
<ellipse transform="translate(127.4 157.8) rotate(36)" rx="7.2" ry="6.8" fill="url(#h12)" style="mix-blend-mode:lighten"/>
<ellipse transform="translate(179.0 72.0) rotate(111)" rx="14.2" ry="11.9" fill="url(#h18)" style="mix-blend-mode:lighten"/>
<ellipse transform="translate(160.8 36.8) rotate(139)" rx="5.5" ry="4.5" fill="url(#h00)" style="mix-blend-mode:lighten"/>
<ellipse transform="translate(175.6 103.3) rotate(29)" rx="7.1" ry="6.9" fill="url(#h42)" style="mix-blend-mode:lighten"/>
<ellipse transform="translate(168.3 279.4) rotate(63)" rx="5.8" ry="4.3" fill="url(#h40)" style="mix-blend-mode:lighten"/>
<ellipse transform="translate(138.0 282.2) rotate(25)" rx="7.1" ry="6.9" fill="url(#h02)" style="mix-blend-mode:lighten"/>
<ellipse transform="translate(136.7 174.4) rotate(78)" rx="14.1" ry="10.2" fill="url(#h37)" style="mix-blend-mode:lighten"/>
<ellipse transform="translate(215.3 52.9) rotate(41)" rx="9.5" ry="6.8" fill="url(#h43)" style="mix-blend-mode:lighten"/>
<ellipse transform="translate(187.4 31.6) rotate(97)" rx="11.2" ry="10.8" fill="url(#h06)" style="mix-blend-mode:lighten"/>
<ellipse transform="translate(126.8 273.1) rotate(122)" rx="8.1" ry="7.9" fill="url(#h03)" style="mix-blend-mode:lighten"/>
<ellipse transform="translate(149.9 243.0) rotate(179)" rx="10.6" ry="9.4" fill="url(#h25)" style="mix-blend-mode:lighten"/>
<ellipse transform="translate(107.9 143.8) rotate(113)" rx="9.1" ry="7.0" fill="url(#h43)" style="mix-blend-mode:lighten"/>
<ellipse transform="translate(140.0 328.5) rotate(10)" rx="8.9" ry="7.2" fill="url(#h13)" style="mix-blend-mode:lighten"/>
<ellipse transform="translate(168.3 356.6) rotate(97)" rx="12.8" ry="11.3" fill="url(#h07)" style="mix-blend-mode:lighten"/>
<ellipse transform="translate(160.5 385.6) rotate(120)" rx="9.4" ry="6.8" fill="url(#h43)" style="mix-blend-mode:lighten"/>
<ellipse transform="translate(176.7 200.3) rotate(144)" rx="8.4" ry="5.8" fill="url(#h22)" style="mix-blend-mode:lighten"/>
<ellipse transform="translate(149.7 232.2) rotate(134)" rx="13.2" ry="10.9" fill="url(#h17)" style="mix-blend-mode:lighten"/>
<ellipse transform="translate(122.5 312.9) rotate(79)" rx="8.6" ry="7.5" fill="url(#h13)" style="mix-blend-mode:lighten"/>
<ellipse transform="translate(166.5 127.7) rotate(59)" rx="9.5" ry="8.5" fill="url(#h14)" style="mix-blend-mode:lighten"/>
<ellipse transform="translate(196.0 192.2) rotate(50)" rx="8.8" ry="7.3" fill="url(#h03)" style="mix-blend-mode:lighten"/>
<ellipse transform="translate(148.6 323.1) rotate(72)" rx="10.1" ry="8.0" fill="url(#h34)" style="mix-blend-mode:lighten"/>
<ellipse transform="translate(223.0 37.2) rotate(113)" rx="5.7" ry="4.4" fill="url(#h00)" style="mix-blend-mode:lighten"/>
<ellipse transform="translate(116.2 160.1) rotate(59)" rx="9.6" ry="6.7" fill="url(#h23)" style="mix-blend-mode:lighten"/>
<ellipse transform="translate(143.3 388.2) rotate(58)" rx="11.6" ry="8.6" fill="url(#h25)" style="mix-blend-mode:lighten"/>
<ellipse transform="translate(183.8 164.8) rotate(93)" rx="9.6" ry="8.4" fill="url(#h34)" style="mix-blend-mode:lighten"/>
<ellipse transform="translate(119.3 129.4) rotate(114)" rx="7.1" ry="6.9" fill="url(#h12)" style="mix-blend-mode:lighten"/>
<ellipse transform="translate(154.3 423.1) rotate(128)" rx="10.9" ry="9.2" fill="url(#h45)" style="mix-blend-mode:lighten"/>
<ellipse transform="translate(159.5 146.9) rotate(152)" rx="10.0" ry="10.0" fill="url(#h15)" style="mix-blend-mode:lighten"/>
<ellipse transform="translate(117.4 260.8) rotate(64)" rx="9.6" ry="6.7" fill="url(#h43)" style="mix-blend-mode:lighten"/>
<ellipse transform="translate(172.0 228.1) rotate(93)" rx="14.3" ry="10.1" fill="url(#h47)" style="mix-blend-mode:lighten"/>
<ellipse transform="translate(147.5 176.2) rotate(179)" rx="8.5" ry="7.5" fill="url(#h33)" style="mix-blend-mode:lighten"/>
<ellipse transform="translate(156.6 314.6) rotate(127)" rx="9.6" ry="8.4" fill="url(#h34)" style="mix-blend-mode:lighten"/>
<ellipse transform="translate(152.6 160.8) rotate(11)" rx="11.0" ry="9.1" fill="url(#h25)" style="mix-blend-mode:lighten"/>
<ellipse transform="translate(150.0 344.2) rotate(79)" rx="10.0" ry="8.1" fill="url(#h24)" style="mix-blend-mode:lighten"/>
<ellipse transform="translate(144.5 149.1) rotate(51)" rx="10.2" ry="8.0" fill="url(#h04)" style="mix-blend-mode:lighten"/>
<ellipse transform="translate(143.4 82.6) rotate(13)" rx="10.6" ry="7.6" fill="url(#h34)" style="mix-blend-mode:lighten"/>
<ellipse transform="translate(168.2 273.8) rotate(159)" rx="5.3" ry="4.7" fill="url(#h30)" style="mix-blend-mode:lighten"/>
<ellipse transform="translate(193.8 418.7) rotate(109)" rx="9.3" ry="8.7" fill="url(#h24)" style="mix-blend-mode:lighten"/>
<ellipse transform="translate(153.4 96.1) rotate(92)" rx="13.7" ry="10.5" fill="url(#h37)" style="mix-blend-mode:lighten"/>
<ellipse transform="translate(185.1 178.7) rotate(31)" rx="10.0" ry="10.0" fill="url(#h45)" style="mix-blend-mode:lighten"/>
<ellipse transform="translate(134.0 362.5) rotate(86)" rx="11.6" ry="8.6" fill="url(#h25)" style="mix-blend-mode:lighten"/>
<ellipse transform="translate(201.9 55.7) rotate(28)" rx="8.3" ry="5.9" fill="url(#h12)" style="mix-blend-mode:lighten"/>
<ellipse transform="translate(130.9 297.8) rotate(66)" rx="8.0" ry="8.0" fill="url(#h13)" style="mix-blend-mode:lighten"/>
<ellipse transform="translate(144.8 313.2) rotate(132)" rx="10.4" ry="9.7" fill="url(#h15)" style="mix-blend-mode:lighten"/>
<ellipse transform="translate(150.7 60.5) rotate(158)" rx="6.1" ry="5.9" fill="url(#h01)" style="mix-blend-mode:lighten"/>
<ellipse transform="translate(188.5 409.4) rotate(50)" rx="9.3" ry="8.7" fill="url(#h14)" style="mix-blend-mode:lighten"/>
<ellipse transform="translate(144.2 405.4) rotate(80)" rx="10.3" ry="9.7" fill="url(#h15)" style="mix-blend-mode:lighten"/>
<ellipse transform="translate(168.1 420.5) rotate(148)" rx="11.6" ry="8.6" fill="url(#h35)" style="mix-blend-mode:lighten"/>
<ellipse transform="translate(119.8 230.7) rotate(51)" rx="12.1" ry="10.0" fill="url(#h16)" style="mix-blend-mode:lighten"/>
<ellipse transform="translate(156.0 209.1) rotate(157)" rx="9.2" ry="8.8" fill="url(#h44)" style="mix-blend-mode:lighten"/>
<ellipse transform="translate(190.3 197.5) rotate(1)" rx="7.4" ry="6.7" fill="url(#h32)" style="mix-blend-mode:lighten"/>
<ellipse transform="translate(157.7 396.1) rotate(15)" rx="13.4" ry="12.6" fill="url(#h38)" style="mix-blend-mode:lighten"/>
<ellipse transform="translate(204.6 7.9) rotate(117)" rx="5.2" ry="4.8" fill="url(#h10)" style="mix-blend-mode:lighten"/>
<ellipse transform="translate(127.9 209.9) rotate(11)" rx="9.8" ry="8.2" fill="url(#h04)" style="mix-blend-mode:lighten"/>
<ellipse transform="translate(171.8 344.4) rotate(25)" rx="11.1" ry="9.0" fill="url(#h15)" style="mix-blend-mode:lighten"/>
<ellipse transform="translate(179.3 403.1) rotate(108)" rx="10.2" ry="9.8" fill="url(#h45)" style="mix-blend-mode:lighten"/>
<ellipse transform="translate(183.4 426.4) rotate(7)" rx="9.2" ry="8.8" fill="url(#h24)" style="mix-blend-mode:lighten"/>
<ellipse transform="translate(152.7 383.6) rotate(40)" rx="8.8" ry="7.3" fill="url(#h03)" style="mix-blend-mode:lighten"/>
<ellipse transform="translate(137.5 273.9) rotate(16)" rx="9.4" ry="8.7" fill="url(#h14)" style="mix-blend-mode:lighten"/>
<ellipse transform="translate(176.7 121.2) rotate(34)" rx="6.3" ry="5.7" fill="url(#h41)" style="mix-blend-mode:lighten"/>
<ellipse transform="translate(109.3 154.2) rotate(25)" rx="6.1" ry="5.9" fill="url(#h31)" style="mix-blend-mode:lighten"/>
<ellipse transform="translate(141.0 369.0) rotate(13)" rx="9.1" ry="8.9" fill="url(#h34)" style="mix-blend-mode:lighten"/>
<ellipse transform="translate(168.0 65.4) rotate(82)" rx="8.7" ry="7.4" fill="url(#h43)" style="mix-blend-mode:lighten"/>
<ellipse transform="translate(136.4 220.3) rotate(2)" rx="9.9" ry="8.2" fill="url(#h24)" style="mix-blend-mode:lighten"/>
<ellipse transform="translate(130.0 261.5) rotate(23)" rx="13.6" ry="12.4" fill="url(#h08)" style="mix-blend-mode:lighten"/>
<ellipse transform="translate(202.9 411.6) rotate(6)" rx="8.3" ry="5.9" fill="url(#h32)" style="mix-blend-mode:lighten"/>
<ellipse transform="translate(172.5 38.0) rotate(109)" rx="7.7" ry="6.4" fill="url(#h12)" style="mix-blend-mode:lighten"/>
<ellipse transform="translate(169.1 195.1) rotate(34)" rx="10.5" ry="9.5" fill="url(#h05)" style="mix-blend-mode:lighten"/>
<ellipse transform="translate(135.6 152.8) rotate(143)" rx="9.9" ry="8.2" fill="url(#h14)" style="mix-blend-mode:lighten"/>
<ellipse transform="translate(153.6 266.3) rotate(164)" rx="7.7" ry="6.4" fill="url(#h22)" style="mix-blend-mode:lighten"/>
<ellipse transform="translate(121.0 248.4) rotate(155)" rx="9.8" ry="8.2" fill="url(#h14)" style="mix-blend-mode:lighten"/>
<ellipse transform="translate(174.5 367.3) rotate(34)" rx="7.6" ry="6.4" fill="url(#h12)" style="mix-blend-mode:lighten"/>
<ellipse transform="translate(129.5 307.4) rotate(11)" rx="8.9" ry="7.2" fill="url(#h43)" style="mix-blend-mode:lighten"/>
<ellipse transform="translate(166.6 153.4) rotate(55)" rx="7.1" ry="5.1" fill="url(#h21)" style="mix-blend-mode:lighten"/>
<ellipse transform="translate(158.5 179.7) rotate(55)" rx="7.9" ry="6.2" fill="url(#h02)" style="mix-blend-mode:lighten"/>
<ellipse transform="translate(154.7 277.7) rotate(148)" rx="8.4" ry="5.9" fill="url(#h22)" style="mix-blend-mode:lighten"/>
<ellipse transform="translate(130.4 370.9) rotate(171)" rx="7.8" ry="6.3" fill="url(#h02)" style="mix-blend-mode:lighten"/>
<ellipse transform="translate(174.9 172.1) rotate(92)" rx="10.8" ry="9.3" fill="url(#h05)" style="mix-blend-mode:lighten"/>
<ellipse transform="translate(124.0 165.8) rotate(70)" rx="8.2" ry="6.0" fill="url(#h22)" style="mix-blend-mode:lighten"/>
<ellipse transform="translate(170.2 253.9) rotate(87)" rx="7.5" ry="6.6" fill="url(#h32)" style="mix-blend-mode:lighten"/>
<ellipse transform="translate(131.7 240.1) rotate(75)" rx="13.0" ry="9.3" fill="url(#h16)" style="mix-blend-mode:lighten"/>
<ellipse transform="translate(174.4 433.4) rotate(167)" rx="5.7" ry="4.4" fill="url(#h10)" style="mix-blend-mode:lighten"/>
<ellipse transform="translate(125.8 290.4) rotate(73)" rx="12.4" ry="9.8" fill="url(#h26)" style="mix-blend-mode:lighten"/>
<ellipse transform="translate(111.7 131.7) rotate(146)" rx="5.3" ry="4.7" fill="url(#h10)" style="mix-blend-mode:lighten"/>
<ellipse transform="translate(154.2 198.9) rotate(176)" rx="7.9" ry="6.2" fill="url(#h22)" style="mix-blend-mode:lighten"/>
<ellipse transform="translate(157.7 257.4) rotate(50)" rx="10.2" ry="7.9" fill="url(#h44)" style="mix-blend-mode:lighten"/>
<ellipse transform="translate(175.1 182.7) rotate(177)" rx="12.5" ry="9.7" fill="url(#h36)" style="mix-blend-mode:lighten"/>
<ellipse transform="translate(173.7 50.4) rotate(146)" rx="10.1" ry="9.9" fill="url(#h35)" style="mix-blend-mode:lighten"/>
<ellipse transform="translate(163.2 301.7) rotate(124)" rx="7.6" ry="6.4" fill="url(#h22)" style="mix-blend-mode:lighten"/>
<ellipse transform="translate(135.6 119.6) rotate(160)" rx="11.7" ry="8.5" fill="url(#h45)" style="mix-blend-mode:lighten"/>
<ellipse transform="translate(163.8 110.2) rotate(80)" rx="8.9" ry="7.2" fill="url(#h43)" style="mix-blend-mode:lighten"/>
<ellipse transform="translate(184.7 188.6) rotate(99)" rx="10.4" ry="7.8" fill="url(#h14)" style="mix-blend-mode:lighten"/>
<ellipse transform="translate(114.9 320.7) rotate(110)" rx="8.2" ry="6.0" fill="url(#h42)" style="mix-blend-mode:lighten"/>
<ellipse transform="translate(134.7 382.6) rotate(96)" rx="10.5" ry="7.7" fill="url(#h04)" style="mix-blend-mode:lighten"/>
<ellipse transform="translate(167.0 76.5) rotate(37)" rx="8.2" ry="6.0" fill="url(#h22)" style="mix-blend-mode:lighten"/>
<ellipse transform="translate(140.1 299.1) rotate(75)" rx="10.5" ry="9.5" fill="url(#h15)" style="mix-blend-mode:lighten"/>
<ellipse transform="translate(159.3 363.8) rotate(167)" rx="8.8" ry="7.3" fill="url(#h03)" style="mix-blend-mode:lighten"/>
<ellipse transform="translate(171.8 88.4) rotate(132)" rx="7.3" ry="6.7" fill="url(#h32)" style="mix-blend-mode:lighten"/>
<ellipse transform="translate(190.1 41.3) rotate(39)" rx="8.3" ry="5.9" fill="url(#h02)" style="mix-blend-mode:lighten"/>
<ellipse transform="translate(138.7 91.0) rotate(143)" rx="11.5" ry="8.7" fill="url(#h35)" style="mix-blend-mode:lighten"/>
<ellipse transform="translate(148.0 114.2) rotate(167)" rx="13.8" ry="10.5" fill="url(#h07)" style="mix-blend-mode:lighten"/>
<ellipse transform="translate(131.5 84.1) rotate(124)" rx="7.9" ry="6.2" fill="url(#h42)" style="mix-blend-mode:lighten"/>
<ellipse transform="translate(168.3 261.6) rotate(162)" rx="8.0" ry="6.1" fill="url(#h02)" style="mix-blend-mode:lighten"/>
<ellipse transform="translate(196.3 10.0) rotate(99)" rx="10.7" ry="7.6" fill="url(#h24)" style="mix-blend-mode:lighten"/>
<ellipse transform="translate(177.3 30.2) rotate(105)" rx="8.3" ry="7.7" fill="url(#h03)" style="mix-blend-mode:lighten"/>
<ellipse transform="translate(207.7 43.2) rotate(141)" rx="10.4" ry="7.8" fill="url(#h44)" style="mix-blend-mode:lighten"/>
<ellipse transform="translate(166.6 137.5) rotate(133)" rx="10.4" ry="7.8" fill="url(#h14)" style="mix-blend-mode:lighten"/>
<ellipse transform="translate(115.7 301.4) rotate(90)" rx="8.4" ry="7.6" fill="url(#h03)" style="mix-blend-mode:lighten"/>
<ellipse transform="translate(193.5 64.5) rotate(115)" rx="9.5" ry="6.7" fill="url(#h33)" style="mix-blend-mode:lighten"/>
<ellipse transform="translate(192.8 379.1) rotate(47)" rx="8.1" ry="6.0" fill="url(#h32)" style="mix-blend-mode:lighten"/>
<ellipse transform="translate(124.3 173.8) rotate(99)" rx="7.0" ry="5.1" fill="url(#h21)" style="mix-blend-mode:lighten"/>
<ellipse transform="translate(160.4 242.8) rotate(20)" rx="9.5" ry="8.5" fill="url(#h24)" style="mix-blend-mode:lighten"/>
<ellipse transform="translate(204.9 32.7) rotate(98)" rx="9.6" ry="6.7" fill="url(#h43)" style="mix-blend-mode:lighten"/>
<ellipse transform="translate(184.0 57.1) rotate(100)" rx="7.3" ry="6.7" fill="url(#h12)" style="mix-blend-mode:lighten"/>
<ellipse transform="translate(199.2 186.5) rotate(40)" rx="5.4" ry="4.6" fill="url(#h40)" style="mix-blend-mode:lighten"/>
<ellipse transform="translate(124.6 89.7) rotate(47)" rx="8.7" ry="7.4" fill="url(#h43)" style="mix-blend-mode:lighten"/>
<ellipse transform="translate(153.4 332.5) rotate(29)" rx="10.1" ry="8.0" fill="url(#h04)" style="mix-blend-mode:lighten"/>
<ellipse transform="translate(190.8 52.4) rotate(138)" rx="8.6" ry="7.4" fill="url(#h43)" style="mix-blend-mode:lighten"/>
<ellipse transform="translate(214.7 25.5) rotate(65)" rx="9.1" ry="8.9" fill="url(#h34)" style="mix-blend-mode:lighten"/>
<ellipse transform="translate(156.2 78.1) rotate(83)" rx="8.0" ry="6.1" fill="url(#h12)" style="mix-blend-mode:lighten"/>
<ellipse transform="translate(160.5 273.2) rotate(95)" rx="8.4" ry="7.6" fill="url(#h23)" style="mix-blend-mode:lighten"/>
<ellipse transform="translate(186.7 396.0) rotate(35)" rx="8.2" ry="7.8" fill="url(#h23)" style="mix-blend-mode:lighten"/>
<ellipse transform="translate(181.5 373.3) rotate(159)" rx="8.1" ry="7.9" fill="url(#h43)" style="mix-blend-mode:lighten"/>
<ellipse transform="translate(154.5 47.7) rotate(151)" rx="5.7" ry="4.4" fill="url(#h00)" style="mix-blend-mode:lighten"/>
<ellipse transform="translate(162.4 46.6) rotate(115)" rx="8.2" ry="6.0" fill="url(#h32)" style="mix-blend-mode:lighten"/>
<ellipse transform="translate(124.6 122.9) rotate(19)" rx="5.8" ry="4.3" fill="url(#h30)" style="mix-blend-mode:lighten"/>
<ellipse transform="translate(141.6 421.6) rotate(107)" rx="8.4" ry="5.9" fill="url(#h42)" style="mix-blend-mode:lighten"/>
<ellipse transform="translate(140.0 105.8) rotate(174)" rx="12.8" ry="9.5" fill="url(#h06)" style="mix-blend-mode:lighten"/>
<ellipse transform="translate(152.1 38.7) rotate(3)" rx="5.9" ry="4.2" fill="url(#h30)" style="mix-blend-mode:lighten"/>
<ellipse transform="translate(156.9 223.5) rotate(22)" rx="11.7" ry="8.6" fill="url(#h35)" style="mix-blend-mode:lighten"/>
<ellipse transform="translate(169.2 335.8) rotate(24)" rx="5.1" ry="4.9" fill="url(#h10)" style="mix-blend-mode:lighten"/>
<ellipse transform="translate(140.5 196.6) rotate(148)" rx="10.5" ry="7.7" fill="url(#h44)" style="mix-blend-mode:lighten"/>
<ellipse transform="translate(190.3 102.8) rotate(54)" rx="5.1" ry="4.9" fill="url(#h30)" style="mix-blend-mode:lighten"/>
<ellipse transform="translate(131.4 199.7) rotate(30)" rx="8.9" ry="7.2" fill="url(#h13)" style="mix-blend-mode:lighten"/>
<ellipse transform="translate(113.4 283.0) rotate(169)" rx="6.5" ry="5.5" fill="url(#h41)" style="mix-blend-mode:lighten"/>
<ellipse transform="translate(163.5 89.2) rotate(64)" rx="11.7" ry="8.6" fill="url(#h35)" style="mix-blend-mode:lighten"/>
<ellipse transform="translate(107.1 329.0) rotate(46)" rx="8.8" ry="7.3" fill="url(#h43)" style="mix-blend-mode:lighten"/>
<ellipse transform="translate(184.9 11.8) rotate(30)" rx="9.0" ry="7.1" fill="url(#h03)" style="mix-blend-mode:lighten"/>
<ellipse transform="translate(111.7 291.8) rotate(160)" rx="5.9" ry="4.2" fill="url(#h30)" style="mix-blend-mode:lighten"/>
<ellipse transform="translate(176.7 357.9) rotate(81)" rx="5.9" ry="4.2" fill="url(#h20)" style="mix-blend-mode:lighten"/>
<ellipse transform="translate(114.5 334.2) rotate(139)" rx="8.6" ry="7.4" fill="url(#h43)" style="mix-blend-mode:lighten"/>
<ellipse transform="translate(184.3 384.3) rotate(123)" rx="10.0" ry="10.0" fill="url(#h15)" style="mix-blend-mode:lighten"/>
<ellipse transform="translate(164.5 55.7) rotate(179)" rx="8.7" ry="7.3" fill="url(#h03)" style="mix-blend-mode:lighten"/>
<ellipse transform="translate(157.6 412.1) rotate(46)" rx="8.1" ry="6.1" fill="url(#h32)" style="mix-blend-mode:lighten"/>
<ellipse transform="translate(149.8 291.4) rotate(77)" rx="12.5" ry="9.7" fill="url(#h26)" style="mix-blend-mode:lighten"/>
<ellipse transform="translate(129.4 179.3) rotate(130)" rx="5.8" ry="4.3" fill="url(#h40)" style="mix-blend-mode:lighten"/>
<ellipse transform="translate(143.5 353.2) rotate(150)" rx="12.2" ry="11.8" fill="url(#h47)" style="mix-blend-mode:lighten"/>
<ellipse transform="translate(166.1 167.8) rotate(108)" rx="7.1" ry="6.9" fill="url(#h32)" style="mix-blend-mode:lighten"/>
<ellipse transform="translate(220.8 47.3) rotate(124)" rx="6.9" ry="5.2" fill="url(#h21)" style="mix-blend-mode:lighten"/>
<ellipse transform="translate(173.0 411.8) rotate(81)" rx="7.4" ry="6.6" fill="url(#h22)" style="mix-blend-mode:lighten"/>
<ellipse transform="translate(182.5 103.9) rotate(63)" rx="7.1" ry="6.9" fill="url(#h32)" style="mix-blend-mode:lighten"/>
<ellipse transform="translate(147.6 214.9) rotate(101)" rx="11.0" ry="11.0" fill="url(#h46)" style="mix-blend-mode:lighten"/>
<ellipse transform="translate(119.1 341.8) rotate(51)" rx="5.1" ry="4.9" fill="url(#h30)" style="mix-blend-mode:lighten"/>
<ellipse transform="translate(144.1 184.9) rotate(171)" rx="9.2" ry="7.0" fill="url(#h33)" style="mix-blend-mode:lighten"/>
<ellipse transform="translate(113.2 351.9) rotate(23)" rx="5.8" ry="4.3" fill="url(#h00)" style="mix-blend-mode:lighten"/>
<ellipse transform="translate(189.9 371.0) rotate(26)" rx="5.7" ry="4.4" fill="url(#h20)" style="mix-blend-mode:lighten"/>
<ellipse transform="translate(170.6 115.1) rotate(72)" rx="7.0" ry="7.0" fill="url(#h12)" style="mix-blend-mode:lighten"/>
<ellipse transform="translate(130.1 336.1) rotate(126)" rx="9.2" ry="8.8" fill="url(#h14)" style="mix-blend-mode:lighten"/>
<ellipse transform="translate(177.9 216.5) rotate(98)" rx="7.2" ry="6.8" fill="url(#h42)" style="mix-blend-mode:lighten"/>
<ellipse transform="translate(118.6 150.6) rotate(3)" rx="12.1" ry="10.0" fill="url(#h06)" style="mix-blend-mode:lighten"/>
<ellipse transform="translate(162.0 427.5) rotate(84)" rx="9.2" ry="7.0" fill="url(#h13)" style="mix-blend-mode:lighten"/>
<ellipse transform="translate(222.6 30.4) rotate(175)" rx="6.0" ry="4.2" fill="url(#h40)" style="mix-blend-mode:lighten"/>
<ellipse transform="translate(114.4 167.3) rotate(143)" rx="5.8" ry="4.3" fill="url(#h40)" style="mix-blend-mode:lighten"/>
<ellipse transform="translate(136.2 399.5) rotate(20)" rx="8.0" ry="6.1" fill="url(#h22)" style="mix-blend-mode:lighten"/>
<ellipse transform="translate(170.9 388.6) rotate(102)" rx="8.9" ry="7.2" fill="url(#h43)" style="mix-blend-mode:lighten"/>
<ellipse transform="translate(125.7 223.2) rotate(118)" rx="9.1" ry="7.1" fill="url(#h03)" style="mix-blend-mode:lighten"/>
<ellipse transform="translate(155.1 188.1) rotate(72)" rx="8.8" ry="7.3" fill="url(#h03)" style="mix-blend-mode:lighten"/>
<ellipse transform="translate(171.8 380.2) rotate(104)" rx="9.9" ry="8.2" fill="url(#h44)" style="mix-blend-mode:lighten"/>
<ellipse transform="translate(144.8 71.0) rotate(85)" rx="6.5" ry="5.5" fill="url(#h31)" style="mix-blend-mode:lighten"/>
<ellipse transform="translate(137.8 341.7) rotate(169)" rx="8.4" ry="7.6" fill="url(#h03)" style="mix-blend-mode:lighten"/>
<ellipse transform="translate(149.8 361.6) rotate(68)" rx="9.3" ry="6.9" fill="url(#h13)" style="mix-blend-mode:lighten"/>
<ellipse transform="translate(158.7 347.9) rotate(163)" rx="7.1" ry="6.9" fill="url(#h32)" style="mix-blend-mode:lighten"/>
<ellipse transform="translate(155.9 431.2) rotate(142)" rx="5.2" ry="4.8" fill="url(#h00)" style="mix-blend-mode:lighten"/>
<ellipse transform="translate(101.8 150.4) rotate(113)" rx="6.3" ry="5.7" fill="url(#h11)" style="mix-blend-mode:lighten"/>
<ellipse transform="translate(175.1 80.8) rotate(168)" rx="7.8" ry="6.3" fill="url(#h22)" style="mix-blend-mode:lighten"/>
<ellipse transform="translate(155.1 169.3) rotate(4)" rx="8.9" ry="7.2" fill="url(#h13)" style="mix-blend-mode:lighten"/>
<ellipse transform="translate(167.9 288.6) rotate(153)" rx="5.5" ry="4.5" fill="url(#h00)" style="mix-blend-mode:lighten"/>
<ellipse transform="translate(173.4 243.8) rotate(45)" rx="7.3" ry="6.7" fill="url(#h32)" style="mix-blend-mode:lighten"/>
<ellipse transform="translate(113.1 310.2) rotate(161)" rx="8.6" ry="7.4" fill="url(#h33)" style="mix-blend-mode:lighten"/>
<ellipse transform="translate(146.9 130.9) rotate(11)" rx="13.6" ry="12.4" fill="url(#h08)" style="mix-blend-mode:lighten"/>
<ellipse transform="translate(216.4 39.2) rotate(123)" rx="9.5" ry="8.5" fill="url(#h24)" style="mix-blend-mode:lighten"/>
<ellipse transform="translate(168.8 24.4) rotate(51)" rx="5.5" ry="4.5" fill="url(#h00)" style="mix-blend-mode:lighten"/>
<ellipse transform="translate(167.9 177.5) rotate(74)" rx="8.0" ry="6.1" fill="url(#h12)" style="mix-blend-mode:lighten"/>
<ellipse transform="translate(130.7 327.2) rotate(118)" rx="9.9" ry="8.2" fill="url(#h44)" style="mix-blend-mode:lighten"/>
<ellipse transform="translate(166.2 204.3) rotate(57)" rx="11.9" ry="8.4" fill="url(#h35)" style="mix-blend-mode:lighten"/>
<ellipse transform="translate(186.0 82.4) rotate(75)" rx="9.4" ry="6.8" fill="url(#h13)" style="mix-blend-mode:lighten"/>
<ellipse transform="translate(143.8 139.7) rotate(96)" rx="7.6" ry="6.4" fill="url(#h42)" style="mix-blend-mode:lighten"/>
<ellipse transform="translate(148.2 415.3) rotate(116)" rx="8.5" ry="7.6" fill="url(#h03)" style="mix-blend-mode:lighten"/>
<ellipse transform="translate(139.3 249.6) rotate(160)" rx="8.8" ry="7.3" fill="url(#h03)" style="mix-blend-mode:lighten"/>
<ellipse transform="translate(126.9 358.2) rotate(15)" rx="5.8" ry="4.3" fill="url(#h40)" style="mix-blend-mode:lighten"/>
<ellipse transform="translate(204.0 21.8) rotate(133)" rx="9.3" ry="6.9" fill="url(#h33)" style="mix-blend-mode:lighten"/>
<ellipse transform="translate(122.1 327.2) rotate(46)" rx="9.3" ry="6.9" fill="url(#h03)" style="mix-blend-mode:lighten"/>
<ellipse transform="translate(149.8 75.3) rotate(121)" rx="8.0" ry="6.2" fill="url(#h12)" style="mix-blend-mode:lighten"/>
<ellipse transform="translate(172.8 161.7) rotate(41)" rx="9.4" ry="6.8" fill="url(#h03)" style="mix-blend-mode:lighten"/>
<ellipse transform="translate(144.6 280.2) rotate(85)" rx="7.1" ry="6.9" fill="url(#h42)" style="mix-blend-mode:lighten"/>
<ellipse transform="translate(193.7 98.7) rotate(138)" rx="5.1" ry="4.9" fill="url(#h20)" style="mix-blend-mode:lighten"/>
<ellipse transform="translate(109.2 137.4) rotate(113)" rx="5.3" ry="4.7" fill="url(#h00)" style="mix-blend-mode:lighten"/>
<ellipse transform="translate(194.2 74.6) rotate(104)" rx="9.0" ry="9.0" fill="url(#h44)" style="mix-blend-mode:lighten"/>
<ellipse transform="translate(194.1 399.6) rotate(169)" rx="8.0" ry="6.1" fill="url(#h32)" style="mix-blend-mode:lighten"/>
<ellipse transform="translate(194.5 171.7) rotate(0)" rx="6.5" ry="5.5" fill="url(#h11)" style="mix-blend-mode:lighten"/>
<ellipse transform="translate(158.8 325.9) rotate(144)" rx="7.4" ry="6.7" fill="url(#h02)" style="mix-blend-mode:lighten"/>
<ellipse transform="translate(170.7 144.2) rotate(178)" rx="5.4" ry="4.6" fill="url(#h20)" style="mix-blend-mode:lighten"/>
<ellipse transform="translate(138.7 412.9) rotate(28)" rx="9.6" ry="8.5" fill="url(#h44)" style="mix-blend-mode:lighten"/>
<ellipse transform="translate(159.3 340.6) rotate(32)" rx="9.5" ry="6.7" fill="url(#h13)" style="mix-blend-mode:lighten"/>
<ellipse transform="translate(149.4 376.7) rotate(63)" rx="8.3" ry="7.7" fill="url(#h03)" style="mix-blend-mode:lighten"/>
<ellipse transform="translate(176.2 129.7) rotate(55)" rx="5.2" ry="4.8" fill="url(#h20)" style="mix-blend-mode:lighten"/>
<ellipse transform="translate(165.9 20.1) rotate(52)" rx="5.7" ry="4.4" fill="url(#h10)" style="mix-blend-mode:lighten"/>
<ellipse transform="translate(128.1 103.3) rotate(128)" rx="5.7" ry="4.4" fill="url(#h40)" style="mix-blend-mode:lighten"/>
<ellipse transform="translate(179.3 159.2) rotate(98)" rx="6.5" ry="5.6" fill="url(#h21)" style="mix-blend-mode:lighten"/>
<ellipse transform="translate(140.8 165.5) rotate(25)" rx="10.1" ry="8.1" fill="url(#h14)" style="mix-blend-mode:lighten"/>
<ellipse transform="translate(221.2 22.9) rotate(162)" rx="5.4" ry="4.6" fill="url(#h20)" style="mix-blend-mode:lighten"/>
<ellipse transform="translate(163.7 332.8) rotate(10)" rx="9.2" ry="7.0" fill="url(#h13)" style="mix-blend-mode:lighten"/>
<ellipse transform="translate(202.2 74.1) rotate(1)" rx="5.0" ry="5.0" fill="url(#h00)" style="mix-blend-mode:lighten"/>
<ellipse transform="translate(139.3 290.3) rotate(95)" rx="8.9" ry="7.2" fill="url(#h03)" style="mix-blend-mode:lighten"/>
<ellipse transform="translate(190.3 428.1) rotate(27)" rx="5.0" ry="5.0" fill="url(#h10)" style="mix-blend-mode:lighten"/>
<ellipse transform="translate(161.2 286.7) rotate(117)" rx="9.0" ry="7.1" fill="url(#h13)" style="mix-blend-mode:lighten"/>
<ellipse transform="translate(199.3 48.2) rotate(61)" rx="11.3" ry="8.9" fill="url(#h15)" style="mix-blend-mode:lighten"/>
<ellipse transform="translate(128.9 116.4) rotate(95)" rx="5.0" ry="5.0" fill="url(#h10)" style="mix-blend-mode:lighten"/>
<ellipse transform="translate(218.3 18.0) rotate(114)" rx="5.9" ry="4.2" fill="url(#h20)" style="mix-blend-mode:lighten"/>
<ellipse transform="translate(161.5 161.0) rotate(4)" rx="8.6" ry="7.4" fill="url(#h03)" style="mix-blend-mode:lighten"/>
<ellipse transform="translate(187.6 97.4) rotate(27)" rx="8.8" ry="7.3" fill="url(#h33)" style="mix-blend-mode:lighten"/>
<ellipse transform="translate(169.0 268.9) rotate(56)" rx="5.1" ry="4.9" fill="url(#h20)" style="mix-blend-mode:lighten"/>
<ellipse transform="translate(124.7 82.6) rotate(64)" rx="5.4" ry="4.6" fill="url(#h20)" style="mix-blend-mode:lighten"/>
<ellipse transform="translate(177.5 59.1) rotate(40)" rx="7.0" ry="7.0" fill="url(#h32)" style="mix-blend-mode:lighten"/>
<ellipse transform="translate(160.8 215.7) rotate(100)" rx="9.5" ry="6.7" fill="url(#h43)" style="mix-blend-mode:lighten"/>
<ellipse transform="translate(123.0 298.8) rotate(37)" rx="7.9" ry="6.2" fill="url(#h02)" style="mix-blend-mode:lighten"/>
<ellipse transform="translate(120.1 84.5) rotate(100)" rx="5.1" ry="4.9" fill="url(#h20)" style="mix-blend-mode:lighten"/>
<ellipse transform="translate(197.4 81.6) rotate(130)" rx="5.8" ry="4.3" fill="url(#h30)" style="mix-blend-mode:lighten"/>
<ellipse transform="translate(124.8 281.7) rotate(166)" rx="8.3" ry="7.7" fill="url(#h43)" style="mix-blend-mode:lighten"/>
<ellipse transform="translate(167.0 294.5) rotate(75)" rx="5.1" ry="4.9" fill="url(#h00)" style="mix-blend-mode:lighten"/>
<ellipse transform="translate(164.6 433.3) rotate(30)" rx="5.7" ry="4.4" fill="url(#h30)" style="mix-blend-mode:lighten"/>
<ellipse transform="translate(194.7 94.1) rotate(98)" rx="6.2" ry="5.8" fill="url(#h31)" style="mix-blend-mode:lighten"/>
<ellipse transform="translate(143.6 158.3) rotate(76)" rx="8.3" ry="5.9" fill="url(#h22)" style="mix-blend-mode:lighten"/>
<ellipse transform="translate(138.2 188.0) rotate(95)" rx="6.1" ry="5.9" fill="url(#h41)" style="mix-blend-mode:lighten"/>
<ellipse transform="translate(134.3 352.3) rotate(113)" rx="8.1" ry="7.9" fill="url(#h23)" style="mix-blend-mode:lighten"/>
<ellipse transform="translate(128.1 96.5) rotate(52)" rx="5.4" ry="4.6" fill="url(#h00)" style="mix-blend-mode:lighten"/>
<ellipse transform="translate(129.4 130.8) rotate(139)" rx="10.6" ry="7.6" fill="url(#h44)" style="mix-blend-mode:lighten"/>
<ellipse transform="translate(118.2 239.0) rotate(162)" rx="8.3" ry="5.9" fill="url(#h02)" style="mix-blend-mode:lighten"/>
<ellipse transform="translate(168.8 433.7) rotate(5)" rx="5.6" ry="4.5" fill="url(#h10)" style="mix-blend-mode:lighten"/>
<ellipse transform="translate(176.5 209.5) rotate(177)" rx="6.8" ry="5.3" fill="url(#h01)" style="mix-blend-mode:lighten"/>
<ellipse transform="translate(132.2 389.0) rotate(140)" rx="5.7" ry="4.4" fill="url(#h40)" style="mix-blend-mode:lighten"/>
<ellipse transform="translate(177.1 394.7) rotate(88)" rx="8.0" ry="6.2" fill="url(#h12)" style="mix-blend-mode:lighten"/>
<ellipse transform="translate(135.4 229.6) rotate(50)" rx="13.1" ry="9.3" fill="url(#h46)" style="mix-blend-mode:lighten"/>
<ellipse transform="translate(146.3 64.2) rotate(99)" rx="5.4" ry="4.6" fill="url(#h00)" style="mix-blend-mode:lighten"/>
<ellipse transform="translate(181.6 417.2) rotate(9)" rx="9.9" ry="8.2" fill="url(#h24)" style="mix-blend-mode:lighten"/>
<ellipse transform="translate(176.8 351.3) rotate(11)" rx="5.8" ry="4.3" fill="url(#h40)" style="mix-blend-mode:lighten"/>
<ellipse transform="translate(129.3 147.0) rotate(70)" rx="8.7" ry="7.4" fill="url(#h33)" style="mix-blend-mode:lighten"/>
<ellipse transform="translate(149.0 256.7) rotate(46)" rx="7.1" ry="6.9" fill="url(#h12)" style="mix-blend-mode:lighten"/>
<ellipse transform="translate(176.6 239.2) rotate(178)" rx="5.7" ry="4.4" fill="url(#h40)" style="mix-blend-mode:lighten"/>
<ellipse transform="translate(164.5 324.7) rotate(48)" rx="5.7" ry="4.4" fill="url(#h30)" style="mix-blend-mode:lighten"/>
<ellipse transform="translate(118.5 223.4) rotate(90)" rx="5.1" ry="4.9" fill="url(#h30)" style="mix-blend-mode:lighten"/>
<ellipse transform="translate(146.4 427.4) rotate(51)" rx="5.7" ry="4.4" fill="url(#h20)" style="mix-blend-mode:lighten"/>
<ellipse transform="translate(147.3 269.7) rotate(39)" rx="9.3" ry="6.9" fill="url(#h43)" style="mix-blend-mode:lighten"/>
<ellipse transform="translate(194.0 181.4) rotate(111)" rx="10.1" ry="9.9" fill="url(#h45)" style="mix-blend-mode:lighten"/>
<ellipse transform="translate(159.8 65.1) rotate(48)" rx="7.4" ry="6.6" fill="url(#h02)" style="mix-blend-mode:lighten"/>
<ellipse transform="translate(117.6 349.6) rotate(85)" rx="5.3" ry="4.7" fill="url(#h40)" style="mix-blend-mode:lighten"/>
<ellipse transform="translate(118.1 293.7) rotate(161)" rx="7.4" ry="6.6" fill="url(#h42)" style="mix-blend-mode:lighten"/>
<ellipse transform="translate(120.3 346.4) rotate(148)" rx="5.6" ry="4.5" fill="url(#h00)" style="mix-blend-mode:lighten"/>
<ellipse transform="translate(203.8 64.2) rotate(169)" rx="5.6" ry="4.4" fill="url(#h00)" style="mix-blend-mode:lighten"/>
<ellipse transform="translate(118.5 170.1) rotate(154)" rx="5.5" ry="4.5" fill="url(#h10)" style="mix-blend-mode:lighten"/>
<ellipse transform="translate(180.8 41.1) rotate(125)" rx="10.7" ry="9.3" fill="url(#h45)" style="mix-blend-mode:lighten"/>
<ellipse transform="translate(171.0 108.3) rotate(81)" rx="7.2" ry="6.8" fill="url(#h02)" style="mix-blend-mode:lighten"/>
<ellipse transform="translate(168.0 402.6) rotate(145)" rx="10.7" ry="7.6" fill="url(#h34)" style="mix-blend-mode:lighten"/>
<ellipse transform="translate(204.3 400.5) rotate(8)" rx="8.2" ry="5.9" fill="url(#h02)" style="mix-blend-mode:lighten"/>
<ellipse transform="translate(156.9 132.5) rotate(152)" rx="7.1" ry="6.9" fill="url(#h02)" style="mix-blend-mode:lighten"/>
<ellipse transform="translate(200.2 68.4) rotate(141)" rx="7.8" ry="6.3" fill="url(#h02)" style="mix-blend-mode:lighten"/>
<ellipse transform="translate(165.6 187.3) rotate(151)" rx="9.5" ry="6.7" fill="url(#h33)" style="mix-blend-mode:lighten"/>
<ellipse transform="translate(162.6 251.6) rotate(122)" rx="8.3" ry="5.9" fill="url(#h32)" style="mix-blend-mode:lighten"/>
<ellipse transform="translate(177.7 22.0) rotate(29)" rx="8.1" ry="7.9" fill="url(#h23)" style="mix-blend-mode:lighten"/>
<ellipse transform="translate(166.0 367.2) rotate(83)" rx="7.7" ry="6.3" fill="url(#h42)" style="mix-blend-mode:lighten"/>
<ellipse transform="translate(134.9 193.0) rotate(58)" rx="5.8" ry="4.3" fill="url(#h30)" style="mix-blend-mode:lighten"/>
<ellipse transform="translate(165.6 410.8) rotate(147)" rx="7.1" ry="6.9" fill="url(#h02)" style="mix-blend-mode:lighten"/>
<ellipse transform="translate(162.1 99.5) rotate(36)" rx="7.8" ry="6.2" fill="url(#h42)" style="mix-blend-mode:lighten"/>
<ellipse transform="translate(136.0 406.1) rotate(23)" rx="6.6" ry="5.5" fill="url(#h01)" style="mix-blend-mode:lighten"/>
<ellipse transform="translate(147.4 397.4) rotate(58)" rx="7.4" ry="6.6" fill="url(#h42)" style="mix-blend-mode:lighten"/>
<ellipse transform="translate(198.4 38.6) rotate(24)" rx="9.5" ry="8.5" fill="url(#h04)" style="mix-blend-mode:lighten"/>
<ellipse transform="translate(164.1 232.6) rotate(123)" rx="7.7" ry="6.3" fill="url(#h32)" style="mix-blend-mode:lighten"/>
<ellipse transform="translate(160.5 193.5) rotate(151)" rx="7.3" ry="6.7" fill="url(#h12)" style="mix-blend-mode:lighten"/>
<ellipse transform="translate(134.0 182.1) rotate(172)" rx="7.2" ry="5.0" fill="url(#h41)" style="mix-blend-mode:lighten"/>
<ellipse transform="translate(168.2 34.6) rotate(106)" rx="5.1" ry="4.9" fill="url(#h10)" style="mix-blend-mode:lighten"/>
<ellipse transform="translate(180.3 222.9) rotate(13)" rx="5.5" ry="4.5" fill="url(#h30)" style="mix-blend-mode:lighten"/>
<ellipse transform="translate(182.1 366.8) rotate(22)" rx="5.9" ry="4.2" fill="url(#h10)" style="mix-blend-mode:lighten"/>
<ellipse transform="translate(162.3 318.7) rotate(123)" rx="5.8" ry="4.3" fill="url(#h30)" style="mix-blend-mode:lighten"/>
<ellipse transform="translate(129.0 344.5) rotate(152)" rx="8.2" ry="6.0" fill="url(#h42)" style="mix-blend-mode:lighten"/>
<ellipse transform="translate(184.0 200.3) rotate(180)" rx="5.8" ry="4.3" fill="url(#h40)" style="mix-blend-mode:lighten"/>
<ellipse transform="translate(146.3 336.1) rotate(101)" rx="9.5" ry="6.7" fill="url(#h13)" style="mix-blend-mode:lighten"/>
<ellipse transform="translate(162.7 311.6) rotate(25)" rx="5.8" ry="4.3" fill="url(#h40)" style="mix-blend-mode:lighten"/>
<ellipse transform="translate(190.0 7.0) rotate(167)" rx="5.4" ry="4.6" fill="url(#h20)" style="mix-blend-mode:lighten"/>
<ellipse transform="translate(130.7 112.5) rotate(88)" rx="5.7" ry="4.4" fill="url(#h20)" style="mix-blend-mode:lighten"/>
<ellipse transform="translate(114.0 269.0) rotate(139)" rx="5.1" ry="4.9" fill="url(#h40)" style="mix-blend-mode:lighten"/>
<ellipse transform="translate(174.6 134.9) rotate(54)" rx="5.6" ry="4.4" fill="url(#h40)" style="mix-blend-mode:lighten"/>
<ellipse transform="translate(160.9 294.2) rotate(168)" rx="7.3" ry="6.7" fill="url(#h02)" style="mix-blend-mode:lighten"/>
<ellipse transform="translate(140.7 237.3) rotate(128)" rx="7.1" ry="6.9" fill="url(#h02)" style="mix-blend-mode:lighten"/>
<ellipse transform="translate(121.7 216.5) rotate(146)" rx="5.5" ry="4.5" fill="url(#h40)" style="mix-blend-mode:lighten"/>
<ellipse transform="translate(190.9 164.8) rotate(60)" rx="5.8" ry="4.3" fill="url(#h30)" style="mix-blend-mode:lighten"/>
<ellipse transform="translate(155.3 355.8) rotate(38)" rx="7.2" ry="6.8" fill="url(#h32)" style="mix-blend-mode:lighten"/>
<ellipse transform="translate(178.4 363.5) rotate(115)" rx="5.5" ry="4.6" fill="url(#h00)" style="mix-blend-mode:lighten"/>
<ellipse transform="translate(151.8 86.7) rotate(117)" rx="7.3" ry="6.7" fill="url(#h42)" style="mix-blend-mode:lighten"/>
<ellipse transform="translate(169.1 95.8) rotate(71)" rx="7.5" ry="6.5" fill="url(#h12)" style="mix-blend-mode:lighten"/>
<ellipse transform="translate(155.1 106.2) rotate(82)" rx="8.3" ry="5.9" fill="url(#h12)" style="mix-blend-mode:lighten"/>
<ellipse transform="translate(111.7 316.1) rotate(48)" rx="5.2" ry="4.8" fill="url(#h20)" style="mix-blend-mode:lighten"/>
<ellipse transform="translate(124.0 320.0) rotate(150)" rx="7.2" ry="6.8" fill="url(#h32)" style="mix-blend-mode:lighten"/>
<ellipse transform="translate(197.3 384.9) rotate(3)" rx="5.3" ry="4.7" fill="url(#h10)" style="mix-blend-mode:lighten"/>
<ellipse transform="translate(173.7 140.4) rotate(71)" rx="5.5" ry="4.5" fill="url(#h10)" style="mix-blend-mode:lighten"/>
<ellipse transform="translate(177.2 234.9) rotate(35)" rx="5.4" ry="4.6" fill="url(#h00)" style="mix-blend-mode:lighten"/>
<ellipse transform="translate(178.5 96.8) rotate(18)" rx="9.2" ry="7.0" fill="url(#h43)" style="mix-blend-mode:lighten"/>
<ellipse transform="translate(160.1 432.7) rotate(110)" rx="5.7" ry="4.4" fill="url(#h40)" style="mix-blend-mode:lighten"/>
<ellipse transform="translate(178.9 431.8) rotate(157)" rx="5.6" ry="4.5" fill="url(#h10)" style="mix-blend-mode:lighten"/>
<ellipse transform="translate(129.5 251.9) rotate(32)" rx="8.2" ry="7.8" fill="url(#h33)" style="mix-blend-mode:lighten"/>
<ellipse transform="translate(119.2 354.8) rotate(26)" rx="6.1" ry="5.9" fill="url(#h01)" style="mix-blend-mode:lighten"/>
<ellipse transform="translate(148.4 304.5) rotate(2)" rx="7.9" ry="6.2" fill="url(#h12)" style="mix-blend-mode:lighten"/>
<ellipse transform="translate(209.6 9.2) rotate(21)" rx="5.7" ry="4.4" fill="url(#h20)" style="mix-blend-mode:lighten"/>
<ellipse transform="translate(177.2 110.5) rotate(83)" rx="5.1" ry="4.9" fill="url(#h30)" style="mix-blend-mode:lighten"/>
<ellipse transform="translate(162.4 265.8) rotate(154)" rx="9.1" ry="7.0" fill="url(#h13)" style="mix-blend-mode:lighten"/>
<ellipse transform="translate(195.2 425.0) rotate(32)" rx="5.9" ry="4.3" fill="url(#h20)" style="mix-blend-mode:lighten"/>
<ellipse transform="translate(131.2 165.8) rotate(77)" rx="7.2" ry="6.8" fill="url(#h02)" style="mix-blend-mode:lighten"/>
<ellipse transform="translate(136.3 80.9) rotate(87)" rx="5.7" ry="4.3" fill="url(#h40)" style="mix-blend-mode:lighten"/>
<ellipse transform="translate(167.7 284.2) rotate(156)" rx="5.9" ry="4.2" fill="url(#h20)" style="mix-blend-mode:lighten"/>
<ellipse transform="translate(157.6 114.2) rotate(69)" rx="7.5" ry="6.5" fill="url(#h12)" style="mix-blend-mode:lighten"/>
<ellipse transform="translate(146.9 200.4) rotate(47)" rx="7.4" ry="6.7" fill="url(#h32)" style="mix-blend-mode:lighten"/>
<ellipse transform="translate(136.7 128.1) rotate(22)" rx="8.2" ry="6.0" fill="url(#h42)" style="mix-blend-mode:lighten"/>
<ellipse transform="translate(169.6 15.7) rotate(133)" rx="5.1" ry="4.9" fill="url(#h40)" style="mix-blend-mode:lighten"/>
<ellipse transform="translate(157.6 41.7) rotate(127)" rx="8.2" ry="6.0" fill="url(#h12)" style="mix-blend-mode:lighten"/>
<ellipse transform="translate(198.6 29.1) rotate(167)" rx="8.2" ry="6.0" fill="url(#h12)" style="mix-blend-mode:lighten"/>
<ellipse transform="translate(185.9 64.6) rotate(164)" rx="7.5" ry="6.6" fill="url(#h12)" style="mix-blend-mode:lighten"/>
<ellipse transform="translate(136.5 310.0) rotate(13)" rx="8.3" ry="5.9" fill="url(#h42)" style="mix-blend-mode:lighten"/>
</g>
<g filter="url(#molZ)"><rect x="270" y="195" width="160" height="175" fill="#000"/>
<path d="M340.3 217.9 L343.7 216.6 L347.1 215.4 L350.9 214.3 L355.5 213.1 L360.4 212.0 L365.0 210.8 L368.8 209.4 L372.1 208.1 L375.5 207.3 L379.0 207.6 L382.5 208.5 L386.0 209.0 L389.6 208.5 L393.2 207.6 L396.6 207.3 L400.1 207.8 L403.3 208.8 L405.4 210.8 L405.3 214.2 L403.9 218.5 L403.6 223.1 L405.3 227.6 L408.0 232.4 L410.5 237.2 L412.3 242.2 L413.8 247.2 L415.2 251.9 L416.5 256.2 L417.6 260.2 L418.1 263.7 L417.8 266.6 L416.8 269.1 L415.2 271.6 L412.9 274.3 L410.0 276.9 L407.2 279.6 L404.5 282.2 L401.8 284.9 L399.3 287.5 L397.1 290.1 L395.2 292.8 L393.4 295.4 L391.5 298.0 L389.7 300.7 L388.5 303.3 L388.5 306.0 L389.1 308.7 L389.4 311.2 L389.2 313.4 L388.7 315.3 L387.5 317.1 L385.4 318.6 L382.6 319.8 L379.6 321.1 L376.4 322.4 L372.9 323.7 L369.7 325.0 L366.8 326.3 L364.2 327.5 L361.8 329.0 L359.7 330.8 L357.9 332.9 L355.8 334.9 L353.3 336.9 L350.7 339.0 L347.9 340.9 L344.8 342.5 L341.5 344.0 L339.2 345.8 L338.5 348.4 L338.8 351.3 L338.6 354.0 L337.5 356.4 L335.9 358.5 L334.3 359.7 L332.6 359.9 L330.7 359.2 L329.3 357.4 L328.5 354.2 L328.1 349.9 L327.7 345.8 L327.3 342.1 L326.9 338.6 L326.0 336.0 L324.3 334.8 L322.0 334.6 L319.5 334.3 L316.7 333.9 L313.7 333.4 L311.2 332.6 L309.8 331.3 L308.9 329.7 L307.9 327.7 L306.4 325.2 L304.8 322.4 L303.0 319.5 L300.9 316.7 L298.7 314.0 L296.4 311.2 L294.2 308.5 L292.0 305.9 L289.8 303.0 L287.5 299.8 L285.3 296.5 L283.2 293.1 L281.2 289.8 L279.3 286.5 L278.2 283.2 L278.2 279.7 L278.9 276.2 L279.9 273.3 L281.0 271.4 L282.3 270.2 L284.0 268.8 L286.3 267.3 L289.0 265.6 L291.1 263.6 L292.0 260.9 L292.4 257.7 L292.9 254.8 L293.7 252.3 L294.8 250.0 L296.4 247.7 L298.9 245.4 L301.9 243.0 L305.2 240.7 L308.8 238.4 L312.5 236.0 L315.7 233.7 L317.7 231.2 L319.2 228.7 L321.0 226.6 L323.6 225.2 L326.6 224.3 L329.8 223.1 L333.2 221.4 L336.7 219.6 Z" fill="rgb(75,75,75)"/>
<ellipse transform="translate(375.2 305.2) rotate(138)" rx="8.2" ry="5.9" fill="url(#h32)" style="mix-blend-mode:lighten"/>
<ellipse transform="translate(378.4 279.1) rotate(9)" rx="12.1" ry="11.9" fill="url(#h47)" style="mix-blend-mode:lighten"/>
<ellipse transform="translate(336.2 260.6) rotate(171)" rx="8.2" ry="6.0" fill="url(#h42)" style="mix-blend-mode:lighten"/>
<ellipse transform="translate(287.0 276.7) rotate(141)" rx="11.1" ry="9.0" fill="url(#h15)" style="mix-blend-mode:lighten"/>
<ellipse transform="translate(320.3 266.7) rotate(147)" rx="8.1" ry="6.0" fill="url(#h22)" style="mix-blend-mode:lighten"/>
<ellipse transform="translate(353.7 311.6) rotate(173)" rx="7.1" ry="6.9" fill="url(#h12)" style="mix-blend-mode:lighten"/>
<ellipse transform="translate(365.6 320.6) rotate(94)" rx="7.2" ry="6.8" fill="url(#h32)" style="mix-blend-mode:lighten"/>
<ellipse transform="translate(394.1 246.0) rotate(3)" rx="9.0" ry="7.1" fill="url(#h13)" style="mix-blend-mode:lighten"/>
<ellipse transform="translate(347.8 242.9) rotate(40)" rx="9.6" ry="8.4" fill="url(#h44)" style="mix-blend-mode:lighten"/>
<ellipse transform="translate(300.5 283.3) rotate(15)" rx="7.8" ry="6.2" fill="url(#h02)" style="mix-blend-mode:lighten"/>
<ellipse transform="translate(373.5 226.4) rotate(53)" rx="8.8" ry="7.3" fill="url(#h13)" style="mix-blend-mode:lighten"/>
<ellipse transform="translate(387.4 265.8) rotate(177)" rx="8.4" ry="5.9" fill="url(#h32)" style="mix-blend-mode:lighten"/>
<ellipse transform="translate(387.6 232.7) rotate(15)" rx="10.7" ry="7.5" fill="url(#h14)" style="mix-blend-mode:lighten"/>
<ellipse transform="translate(361.2 260.2) rotate(26)" rx="8.5" ry="7.5" fill="url(#h43)" style="mix-blend-mode:lighten"/>
<ellipse transform="translate(312.0 267.2) rotate(95)" rx="10.7" ry="7.6" fill="url(#h24)" style="mix-blend-mode:lighten"/>
<ellipse transform="translate(350.6 329.9) rotate(121)" rx="10.7" ry="7.6" fill="url(#h24)" style="mix-blend-mode:lighten"/>
<ellipse transform="translate(348.6 224.5) rotate(117)" rx="13.1" ry="9.2" fill="url(#h36)" style="mix-blend-mode:lighten"/>
<ellipse transform="translate(387.7 255.6) rotate(35)" rx="11.1" ry="9.0" fill="url(#h05)" style="mix-blend-mode:lighten"/>
<ellipse transform="translate(382.6 287.8) rotate(147)" rx="9.4" ry="6.8" fill="url(#h13)" style="mix-blend-mode:lighten"/>
<ellipse transform="translate(340.7 309.9) rotate(124)" rx="8.1" ry="7.9" fill="url(#h43)" style="mix-blend-mode:lighten"/>
<ellipse transform="translate(320.2 295.3) rotate(96)" rx="12.3" ry="9.8" fill="url(#h06)" style="mix-blend-mode:lighten"/>
<ellipse transform="translate(394.2 274.9) rotate(169)" rx="14.4" ry="10.0" fill="url(#h47)" style="mix-blend-mode:lighten"/>
<ellipse transform="translate(313.0 304.1) rotate(75)" rx="13.2" ry="9.2" fill="url(#h06)" style="mix-blend-mode:lighten"/>
<ellipse transform="translate(356.8 251.5) rotate(35)" rx="7.4" ry="6.6" fill="url(#h42)" style="mix-blend-mode:lighten"/>
<ellipse transform="translate(371.8 240.7) rotate(121)" rx="14.3" ry="10.1" fill="url(#h27)" style="mix-blend-mode:lighten"/>
<ellipse transform="translate(405.1 276.1) rotate(127)" rx="5.8" ry="4.3" fill="url(#h20)" style="mix-blend-mode:lighten"/>
<ellipse transform="translate(394.0 226.6) rotate(28)" rx="7.3" ry="6.7" fill="url(#h12)" style="mix-blend-mode:lighten"/>
<ellipse transform="translate(321.3 231.7) rotate(68)" rx="5.8" ry="4.3" fill="url(#h40)" style="mix-blend-mode:lighten"/>
<ellipse transform="translate(330.9 291.8) rotate(41)" rx="8.1" ry="7.9" fill="url(#h13)" style="mix-blend-mode:lighten"/>
<ellipse transform="translate(343.6 265.9) rotate(169)" rx="12.7" ry="9.6" fill="url(#h46)" style="mix-blend-mode:lighten"/>
<ellipse transform="translate(382.6 216.3) rotate(101)" rx="11.4" ry="8.8" fill="url(#h45)" style="mix-blend-mode:lighten"/>
<ellipse transform="translate(361.3 233.4) rotate(149)" rx="10.8" ry="9.3" fill="url(#h35)" style="mix-blend-mode:lighten"/>
<ellipse transform="translate(349.2 320.5) rotate(19)" rx="9.5" ry="6.8" fill="url(#h33)" style="mix-blend-mode:lighten"/>
<ellipse transform="translate(331.0 319.6) rotate(6)" rx="12.3" ry="11.8" fill="url(#h07)" style="mix-blend-mode:lighten"/>
<ellipse transform="translate(318.4 253.7) rotate(69)" rx="8.8" ry="7.3" fill="url(#h13)" style="mix-blend-mode:lighten"/>
<ellipse transform="translate(290.2 295.4) rotate(137)" rx="6.7" ry="5.4" fill="url(#h31)" style="mix-blend-mode:lighten"/>
<ellipse transform="translate(359.5 274.0) rotate(69)" rx="13.8" ry="10.4" fill="url(#h27)" style="mix-blend-mode:lighten"/>
<ellipse transform="translate(303.8 298.0) rotate(105)" rx="11.8" ry="8.5" fill="url(#h25)" style="mix-blend-mode:lighten"/>
<ellipse transform="translate(342.8 236.0) rotate(127)" rx="8.7" ry="7.3" fill="url(#h43)" style="mix-blend-mode:lighten"/>
<ellipse transform="translate(317.4 243.4) rotate(21)" rx="9.2" ry="6.9" fill="url(#h03)" style="mix-blend-mode:lighten"/>
<ellipse transform="translate(376.9 211.3) rotate(114)" rx="5.6" ry="4.4" fill="url(#h20)" style="mix-blend-mode:lighten"/>
<ellipse transform="translate(391.1 291.9) rotate(54)" rx="5.9" ry="4.2" fill="url(#h30)" style="mix-blend-mode:lighten"/>
<ellipse transform="translate(313.6 316.5) rotate(148)" rx="11.4" ry="8.8" fill="url(#h15)" style="mix-blend-mode:lighten"/>
<ellipse transform="translate(372.3 290.5) rotate(20)" rx="11.0" ry="9.1" fill="url(#h15)" style="mix-blend-mode:lighten"/>
<ellipse transform="translate(344.7 289.3) rotate(87)" rx="8.5" ry="7.5" fill="url(#h33)" style="mix-blend-mode:lighten"/>
<ellipse transform="translate(356.6 303.3) rotate(55)" rx="9.2" ry="6.9" fill="url(#h13)" style="mix-blend-mode:lighten"/>
<ellipse transform="translate(350.5 282.9) rotate(129)" rx="8.7" ry="7.3" fill="url(#h43)" style="mix-blend-mode:lighten"/>
<ellipse transform="translate(402.0 279.9) rotate(32)" rx="5.9" ry="4.3" fill="url(#h40)" style="mix-blend-mode:lighten"/>
<ellipse transform="translate(366.7 282.2) rotate(12)" rx="8.3" ry="5.9" fill="url(#h32)" style="mix-blend-mode:lighten"/>
<ellipse transform="translate(371.5 262.5) rotate(59)" rx="13.3" ry="10.8" fill="url(#h07)" style="mix-blend-mode:lighten"/>
<ellipse transform="translate(328.3 280.2) rotate(10)" rx="10.0" ry="8.1" fill="url(#h24)" style="mix-blend-mode:lighten"/>
<ellipse transform="translate(292.9 283.9) rotate(132)" rx="10.8" ry="7.5" fill="url(#h04)" style="mix-blend-mode:lighten"/>
<ellipse transform="translate(333.0 302.6) rotate(70)" rx="13.6" ry="10.6" fill="url(#h37)" style="mix-blend-mode:lighten"/>
<ellipse transform="translate(308.5 253.9) rotate(147)" rx="9.1" ry="7.0" fill="url(#h33)" style="mix-blend-mode:lighten"/>
<ellipse transform="translate(330.0 267.5) rotate(154)" rx="8.4" ry="7.6" fill="url(#h23)" style="mix-blend-mode:lighten"/>
<ellipse transform="translate(399.3 216.3) rotate(55)" rx="7.1" ry="5.0" fill="url(#h41)" style="mix-blend-mode:lighten"/>
<ellipse transform="translate(310.1 280.1) rotate(162)" rx="12.1" ry="11.9" fill="url(#h37)" style="mix-blend-mode:lighten"/>
<ellipse transform="translate(334.7 345.4) rotate(33)" rx="5.6" ry="4.4" fill="url(#h20)" style="mix-blend-mode:lighten"/>
<ellipse transform="translate(336.4 338.5) rotate(88)" rx="9.4" ry="8.6" fill="url(#h24)" style="mix-blend-mode:lighten"/>
<ellipse transform="translate(333.4 233.6) rotate(65)" rx="12.8" ry="11.2" fill="url(#h07)" style="mix-blend-mode:lighten"/>
<ellipse transform="translate(298.1 274.0) rotate(53)" rx="11.7" ry="8.6" fill="url(#h25)" style="mix-blend-mode:lighten"/>
<ellipse transform="translate(374.5 252.3) rotate(12)" rx="11.4" ry="8.7" fill="url(#h25)" style="mix-blend-mode:lighten"/>
<ellipse transform="translate(302.0 306.4) rotate(129)" rx="8.5" ry="7.5" fill="url(#h43)" style="mix-blend-mode:lighten"/>
<ellipse transform="translate(377.2 316.5) rotate(74)" rx="6.3" ry="5.8" fill="url(#h31)" style="mix-blend-mode:lighten"/>
<ellipse transform="translate(364.7 221.1) rotate(126)" rx="12.9" ry="9.4" fill="url(#h46)" style="mix-blend-mode:lighten"/>
<ellipse transform="translate(347.1 253.7) rotate(147)" rx="13.3" ry="10.8" fill="url(#h47)" style="mix-blend-mode:lighten"/>
<ellipse transform="translate(313.2 326.8) rotate(156)" rx="7.2" ry="5.0" fill="url(#h21)" style="mix-blend-mode:lighten"/>
<ellipse transform="translate(338.4 244.8) rotate(172)" rx="9.6" ry="6.7" fill="url(#h23)" style="mix-blend-mode:lighten"/>
<ellipse transform="translate(384.0 301.9) rotate(67)" rx="6.6" ry="5.5" fill="url(#h11)" style="mix-blend-mode:lighten"/>
<ellipse transform="translate(405.2 249.0) rotate(159)" rx="9.3" ry="8.8" fill="url(#h34)" style="mix-blend-mode:lighten"/>
<ellipse transform="translate(396.4 264.6) rotate(66)" rx="11.5" ry="8.7" fill="url(#h05)" style="mix-blend-mode:lighten"/>
<ellipse transform="translate(347.0 275.9) rotate(95)" rx="7.2" ry="6.8" fill="url(#h02)" style="mix-blend-mode:lighten"/>
<ellipse transform="translate(303.5 264.7) rotate(149)" rx="11.5" ry="8.7" fill="url(#h05)" style="mix-blend-mode:lighten"/>
<ellipse transform="translate(334.7 351.8) rotate(57)" rx="5.7" ry="4.4" fill="url(#h40)" style="mix-blend-mode:lighten"/>
<ellipse transform="translate(358.5 289.0) rotate(3)" rx="9.2" ry="8.8" fill="url(#h44)" style="mix-blend-mode:lighten"/>
<ellipse transform="translate(325.7 330.6) rotate(70)" rx="6.3" ry="5.7" fill="url(#h11)" style="mix-blend-mode:lighten"/>
<ellipse transform="translate(408.6 242.8) rotate(6)" rx="5.8" ry="4.3" fill="url(#h20)" style="mix-blend-mode:lighten"/>
<ellipse transform="translate(319.0 237.0) rotate(105)" rx="6.6" ry="5.5" fill="url(#h01)" style="mix-blend-mode:lighten"/>
<ellipse transform="translate(336.3 275.9) rotate(67)" rx="11.3" ry="8.9" fill="url(#h25)" style="mix-blend-mode:lighten"/>
<ellipse transform="translate(294.6 302.1) rotate(139)" rx="6.2" ry="5.8" fill="url(#h31)" style="mix-blend-mode:lighten"/>
<ellipse transform="translate(292.7 267.7) rotate(161)" rx="5.9" ry="4.3" fill="url(#h20)" style="mix-blend-mode:lighten"/>
<ellipse transform="translate(337.2 285.4) rotate(158)" rx="9.4" ry="6.8" fill="url(#h33)" style="mix-blend-mode:lighten"/>
<ellipse transform="translate(378.4 232.8) rotate(166)" rx="7.8" ry="6.2" fill="url(#h02)" style="mix-blend-mode:lighten"/>
<ellipse transform="translate(306.2 245.3) rotate(175)" rx="5.4" ry="4.6" fill="url(#h00)" style="mix-blend-mode:lighten"/>
<ellipse transform="translate(295.3 261.6) rotate(78)" rx="5.6" ry="4.5" fill="url(#h20)" style="mix-blend-mode:lighten"/>
<ellipse transform="translate(407.5 263.7) rotate(62)" rx="8.3" ry="5.9" fill="url(#h42)" style="mix-blend-mode:lighten"/>
<ellipse transform="translate(303.2 313.6) rotate(0)" rx="5.6" ry="4.5" fill="url(#h10)" style="mix-blend-mode:lighten"/>
<ellipse transform="translate(408.9 273.0) rotate(81)" rx="5.8" ry="4.3" fill="url(#h20)" style="mix-blend-mode:lighten"/>
<ellipse transform="translate(342.0 322.3) rotate(45)" rx="9.1" ry="7.0" fill="url(#h23)" style="mix-blend-mode:lighten"/>
<ellipse transform="translate(300.9 249.2) rotate(145)" rx="5.5" ry="4.6" fill="url(#h20)" style="mix-blend-mode:lighten"/>
<ellipse transform="translate(366.7 300.0) rotate(41)" rx="10.9" ry="9.2" fill="url(#h35)" style="mix-blend-mode:lighten"/>
<ellipse transform="translate(323.2 308.7) rotate(145)" rx="9.5" ry="6.7" fill="url(#h23)" style="mix-blend-mode:lighten"/>
<ellipse transform="translate(328.0 242.4) rotate(62)" rx="9.2" ry="6.9" fill="url(#h03)" style="mix-blend-mode:lighten"/>
<ellipse transform="translate(356.8 217.0) rotate(21)" rx="5.6" ry="4.4" fill="url(#h00)" style="mix-blend-mode:lighten"/>
<ellipse transform="translate(397.2 233.9) rotate(66)" rx="9.5" ry="8.5" fill="url(#h24)" style="mix-blend-mode:lighten"/>
<ellipse transform="translate(399.8 223.4) rotate(100)" rx="5.9" ry="4.2" fill="url(#h40)" style="mix-blend-mode:lighten"/>
<ellipse transform="translate(343.6 301.0) rotate(166)" rx="10.9" ry="9.2" fill="url(#h45)" style="mix-blend-mode:lighten"/>
<ellipse transform="translate(371.6 319.3) rotate(142)" rx="7.2" ry="5.0" fill="url(#h01)" style="mix-blend-mode:lighten"/>
<ellipse transform="translate(281.9 282.5) rotate(140)" rx="5.9" ry="4.2" fill="url(#h30)" style="mix-blend-mode:lighten"/>
<ellipse transform="translate(369.2 309.5) rotate(37)" rx="8.7" ry="7.4" fill="url(#h23)" style="mix-blend-mode:lighten"/>
<ellipse transform="translate(360.4 314.6) rotate(19)" rx="9.2" ry="7.0" fill="url(#h03)" style="mix-blend-mode:lighten"/>
<ellipse transform="translate(325.1 257.4) rotate(55)" rx="8.1" ry="7.9" fill="url(#h43)" style="mix-blend-mode:lighten"/>
<ellipse transform="translate(392.5 212.3) rotate(92)" rx="6.4" ry="5.6" fill="url(#h01)" style="mix-blend-mode:lighten"/>
<ellipse transform="translate(399.8 211.0) rotate(152)" rx="5.9" ry="4.2" fill="url(#h40)" style="mix-blend-mode:lighten"/>
<ellipse transform="translate(336.0 224.9) rotate(68)" rx="6.6" ry="5.5" fill="url(#h01)" style="mix-blend-mode:lighten"/>
<ellipse transform="translate(330.8 226.3) rotate(47)" rx="5.4" ry="4.6" fill="url(#h40)" style="mix-blend-mode:lighten"/>
<ellipse transform="translate(413.3 259.3) rotate(8)" rx="5.5" ry="4.5" fill="url(#h10)" style="mix-blend-mode:lighten"/>
<ellipse transform="translate(371.2 215.3) rotate(134)" rx="8.2" ry="6.0" fill="url(#h12)" style="mix-blend-mode:lighten"/>
<ellipse transform="translate(401.9 256.8) rotate(6)" rx="8.1" ry="7.9" fill="url(#h43)" style="mix-blend-mode:lighten"/>
<ellipse transform="translate(297.1 252.8) rotate(67)" rx="5.6" ry="4.4" fill="url(#h20)" style="mix-blend-mode:lighten"/>
<ellipse transform="translate(318.3 285.9) rotate(9)" rx="8.2" ry="7.8" fill="url(#h33)" style="mix-blend-mode:lighten"/>
<ellipse transform="translate(359.3 326.4) rotate(15)" rx="5.9" ry="4.2" fill="url(#h00)" style="mix-blend-mode:lighten"/>
<ellipse transform="translate(285.5 286.7) rotate(107)" rx="7.6" ry="6.5" fill="url(#h22)" style="mix-blend-mode:lighten"/>
<ellipse transform="translate(321.6 324.4) rotate(137)" rx="7.8" ry="6.2" fill="url(#h02)" style="mix-blend-mode:lighten"/>
<ellipse transform="translate(339.3 330.4) rotate(137)" rx="7.8" ry="6.3" fill="url(#h02)" style="mix-blend-mode:lighten"/>
<ellipse transform="translate(379.6 266.8) rotate(166)" rx="7.6" ry="6.4" fill="url(#h42)" style="mix-blend-mode:lighten"/>
<ellipse transform="translate(390.4 285.1) rotate(113)" rx="8.9" ry="7.2" fill="url(#h13)" style="mix-blend-mode:lighten"/>
<ellipse transform="translate(386.2 224.0) rotate(81)" rx="8.6" ry="7.4" fill="url(#h03)" style="mix-blend-mode:lighten"/>
<ellipse transform="translate(351.4 235.5) rotate(24)" rx="9.4" ry="6.8" fill="url(#h03)" style="mix-blend-mode:lighten"/>
<ellipse transform="translate(357.3 243.3) rotate(116)" rx="10.0" ry="8.1" fill="url(#h04)" style="mix-blend-mode:lighten"/>
<ellipse transform="translate(343.5 339.3) rotate(14)" rx="5.7" ry="4.4" fill="url(#h30)" style="mix-blend-mode:lighten"/>
<ellipse transform="translate(383.8 243.2) rotate(106)" rx="12.7" ry="9.5" fill="url(#h46)" style="mix-blend-mode:lighten"/>
<ellipse transform="translate(333.8 252.9) rotate(168)" rx="11.5" ry="8.7" fill="url(#h05)" style="mix-blend-mode:lighten"/>
<ellipse transform="translate(311.8 240.9) rotate(31)" rx="5.9" ry="4.2" fill="url(#h30)" style="mix-blend-mode:lighten"/>
<ellipse transform="translate(384.9 306.8) rotate(26)" rx="5.9" ry="4.2" fill="url(#h00)" style="mix-blend-mode:lighten"/>
<ellipse transform="translate(385.0 314.7) rotate(150)" rx="5.8" ry="4.3" fill="url(#h40)" style="mix-blend-mode:lighten"/>
<ellipse transform="translate(352.7 262.2) rotate(165)" rx="9.1" ry="7.1" fill="url(#h43)" style="mix-blend-mode:lighten"/>
<ellipse transform="translate(324.6 228.9) rotate(26)" rx="5.1" ry="4.9" fill="url(#h20)" style="mix-blend-mode:lighten"/>
<ellipse transform="translate(348.4 307.5) rotate(65)" rx="7.7" ry="6.3" fill="url(#h32)" style="mix-blend-mode:lighten"/>
<ellipse transform="translate(319.5 330.9) rotate(75)" rx="5.9" ry="4.2" fill="url(#h40)" style="mix-blend-mode:lighten"/>
<ellipse transform="translate(413.0 268.0) rotate(144)" rx="5.1" ry="4.9" fill="url(#h40)" style="mix-blend-mode:lighten"/>
<ellipse transform="translate(321.7 274.3) rotate(146)" rx="9.4" ry="8.6" fill="url(#h44)" style="mix-blend-mode:lighten"/>
<ellipse transform="translate(406.1 235.3) rotate(51)" rx="5.8" ry="4.3" fill="url(#h10)" style="mix-blend-mode:lighten"/>
<ellipse transform="translate(323.9 249.6) rotate(6)" rx="7.8" ry="6.3" fill="url(#h32)" style="mix-blend-mode:lighten"/>
<ellipse transform="translate(364.6 249.9) rotate(155)" rx="8.3" ry="7.7" fill="url(#h33)" style="mix-blend-mode:lighten"/>
<ellipse transform="translate(402.5 229.6) rotate(76)" rx="5.8" ry="4.3" fill="url(#h40)" style="mix-blend-mode:lighten"/>
<ellipse transform="translate(378.9 297.4) rotate(153)" rx="7.6" ry="6.4" fill="url(#h12)" style="mix-blend-mode:lighten"/>
<ellipse transform="translate(387.4 296.9) rotate(56)" rx="5.5" ry="4.6" fill="url(#h30)" style="mix-blend-mode:lighten"/>
<ellipse transform="translate(329.8 336.5) rotate(163)" rx="5.6" ry="4.5" fill="url(#h20)" style="mix-blend-mode:lighten"/>
<ellipse transform="translate(298.1 290.7) rotate(19)" rx="8.2" ry="6.0" fill="url(#h12)" style="mix-blend-mode:lighten"/>
<ellipse transform="translate(410.9 254.5) rotate(110)" rx="6.8" ry="5.3" fill="url(#h21)" style="mix-blend-mode:lighten"/>
<ellipse transform="translate(305.5 288.2) rotate(141)" rx="8.1" ry="6.1" fill="url(#h12)" style="mix-blend-mode:lighten"/>
<ellipse transform="translate(286.4 291.9) rotate(39)" rx="5.7" ry="4.4" fill="url(#h20)" style="mix-blend-mode:lighten"/>
<ellipse transform="translate(371.6 273.1) rotate(87)" rx="8.3" ry="5.9" fill="url(#h42)" style="mix-blend-mode:lighten"/>
<ellipse transform="translate(348.6 336.3) rotate(7)" rx="5.8" ry="4.3" fill="url(#h00)" style="mix-blend-mode:lighten"/>
<ellipse transform="translate(296.0 257.2) rotate(142)" rx="5.0" ry="5.0" fill="url(#h30)" style="mix-blend-mode:lighten"/>
<ellipse transform="translate(397.1 284.9) rotate(101)" rx="5.9" ry="4.2" fill="url(#h00)" style="mix-blend-mode:lighten"/>
<ellipse transform="translate(312.0 292.4) rotate(119)" rx="8.1" ry="7.9" fill="url(#h43)" style="mix-blend-mode:lighten"/>
<ellipse transform="translate(288.5 269.9) rotate(112)" rx="5.6" ry="4.5" fill="url(#h40)" style="mix-blend-mode:lighten"/>
<ellipse transform="translate(403.2 269.8) rotate(0)" rx="9.6" ry="6.7" fill="url(#h33)" style="mix-blend-mode:lighten"/>
<ellipse transform="translate(332.8 356.2) rotate(38)" rx="5.8" ry="4.3" fill="url(#h10)" style="mix-blend-mode:lighten"/>
<ellipse transform="translate(341.2 221.2) rotate(136)" rx="5.2" ry="4.8" fill="url(#h10)" style="mix-blend-mode:lighten"/>
<ellipse transform="translate(380.2 259.8) rotate(133)" rx="7.1" ry="6.9" fill="url(#h22)" style="mix-blend-mode:lighten"/>
<ellipse transform="translate(351.1 294.9) rotate(165)" rx="10.8" ry="7.5" fill="url(#h34)" style="mix-blend-mode:lighten"/>
<ellipse transform="translate(301.4 256.9) rotate(156)" rx="7.5" ry="6.6" fill="url(#h42)" style="mix-blend-mode:lighten"/>
<ellipse transform="translate(307.7 320.8) rotate(99)" rx="5.9" ry="4.3" fill="url(#h10)" style="mix-blend-mode:lighten"/>
<ellipse transform="translate(402.2 240.6) rotate(107)" rx="7.1" ry="6.9" fill="url(#h22)" style="mix-blend-mode:lighten"/>
<ellipse transform="translate(384.4 272.4) rotate(10)" rx="7.4" ry="6.6" fill="url(#h42)" style="mix-blend-mode:lighten"/>
</g>
<defs><clipPath id="cS"><path d="M185.6 5.0 L189.8 3.8 L194.3 2.8 L198.8 2.6 L203.3 3.2 L207.8 4.6 L212.0 6.6 L215.7 9.2 L219.1 12.5 L221.9 16.5 L224.2 21.4 L226.0 27.0 L226.8 33.0 L226.5 39.8 L225.3 46.9 L223.5 52.8 L221.1 56.5 L218.2 58.9 L215.3 61.0 L212.3 62.7 L209.3 64.1 L207.0 66.0 L206.2 68.9 L206.1 72.3 L205.4 75.8 L203.3 79.1 L200.7 82.4 L198.8 85.7 L198.6 89.0 L199.0 92.3 L198.8 95.6 L197.3 99.0 L195.0 102.5 L192.2 105.5 L188.4 107.8 L184.0 109.7 L181.0 112.0 L180.4 115.1 L181.2 118.6 L181.5 122.3 L180.7 126.4 L179.6 130.7 L178.5 134.6 L177.7 138.0 L177.0 141.0 L176.0 143.8 L173.9 146.4 L171.4 148.8 L171.0 151.0 L174.1 152.9 L179.1 154.6 L184.0 156.5 L188.0 158.7 L191.8 161.2 L195.0 164.0 L197.3 167.4 L199.0 171.2 L200.4 175.0 L201.5 178.7 L202.2 182.5 L202.6 186.0 L202.6 189.2 L202.3 192.3 L201.5 195.0 L200.1 197.5 L198.2 199.7 L196.0 201.5 L193.6 202.5 L191.0 203.1 L188.4 203.7 L185.6 204.2 L182.8 204.7 L181.0 206.0 L181.0 208.6 L182.0 211.9 L183.0 215.0 L183.8 217.2 L184.5 219.1 L184.6 221.5 L183.7 224.6 L182.3 228.1 L181.0 232.0 L180.2 236.4 L179.5 241.1 L178.5 246.0 L177.0 251.1 L175.2 256.3 L173.8 261.5 L173.1 266.7 L172.7 271.8 L172.3 277.0 L171.8 282.3 L171.3 287.6 L170.8 292.3 L170.3 295.9 L169.9 299.0 L169.2 302.3 L168.1 306.3 L166.8 310.6 L166.0 314.6 L166.1 317.9 L166.7 320.8 L167.7 323.8 L169.0 327.0 L170.5 330.2 L172.3 333.0 L174.4 335.1 L176.7 336.8 L178.5 339.2 L179.3 342.9 L179.7 347.3 L180.0 351.5 L180.2 355.4 L180.4 359.2 L181.5 362.3 L184.1 364.3 L187.6 365.6 L190.8 367.0 L193.2 368.8 L195.3 370.7 L197.0 373.0 L198.1 376.0 L198.9 379.3 L200.0 382.3 L201.9 384.5 L204.1 386.3 L206.0 388.5 L207.4 391.2 L208.5 394.3 L209.2 397.7 L209.6 401.7 L209.7 406.0 L209.2 410.0 L208.1 413.3 L206.4 416.4 L204.6 419.2 L202.9 422.0 L200.9 424.6 L198.5 427.0 L195.4 429.2 L191.8 431.2 L187.7 433.0 L182.8 434.7 L177.4 436.1 L172.3 437.0 L168.0 437.2 L164.0 436.8 L160.0 436.0 L155.8 434.8 L151.7 433.2 L147.7 431.5 L143.8 429.7 L140.1 427.7 L137.0 425.4 L134.9 422.6 L133.4 419.5 L132.3 416.0 L131.6 412.1 L131.2 408.0 L130.8 403.8 L130.3 399.7 L129.9 395.6 L129.2 391.5 L128.2 387.3 L127.0 383.1 L126.0 379.2 L125.3 375.8 L124.8 372.8 L124.6 370.0 L125.2 367.2 L126.2 364.5 L126.0 362.3 L123.7 361.0 L120.2 360.2 L117.0 359.2 L114.6 357.8 L112.4 356.2 L110.8 354.6 L109.6 353.1 L108.9 351.5 L109.2 350.0 L111.7 348.5 L115.3 347.1 L117.0 345.4 L115.1 343.6 L111.3 341.5 L107.7 339.2 L104.7 336.2 L101.8 333.0 L100.0 330.0 L99.6 327.6 L100.2 325.5 L101.5 323.8 L104.0 322.8 L107.2 322.1 L109.2 320.8 L108.7 318.2 L107.0 314.8 L106.0 311.5 L106.8 308.4 L108.2 305.4 L109.2 302.3 L108.9 299.3 L108.2 296.4 L107.7 293.0 L108.0 289.1 L108.6 284.9 L109.2 280.0 L109.7 274.1 L110.2 267.6 L110.8 261.5 L111.9 256.1 L113.2 251.0 L113.8 246.0 L113.0 240.7 L111.5 235.4 L110.8 230.8 L111.8 227.4 L113.6 224.6 L115.4 221.5 L117.0 217.5 L118.6 213.1 L120.0 209.0 L121.0 205.4 L121.8 202.1 L123.0 199.2 L124.9 196.8 L127.1 194.8 L129.2 193.0 L131.2 191.4 L133.0 190.0 L133.8 188.5 L133.1 187.1 L131.3 185.6 L129.0 183.8 L126.3 181.4 L123.2 178.7 L120.0 176.0 L116.7 173.5 L113.3 171.0 L110.8 168.5 L109.9 165.8 L109.8 163.2 L109.2 160.8 L107.5 159.0 L105.3 157.5 L103.0 156.0 L100.2 154.5 L97.2 153.0 L95.4 151.5 L95.5 150.3 L96.7 149.1 L98.5 147.0 L100.8 143.3 L103.5 138.7 L106.0 134.6 L107.5 131.7 L108.8 129.4 L110.8 127.0 L114.6 124.5 L119.2 121.9 L123.0 119.2 L125.5 116.1 L127.1 112.8 L127.7 110.0 L126.6 108.2 L124.4 107.0 L123.0 105.5 L123.4 103.6 L124.6 101.5 L124.6 99.0 L122.2 95.9 L118.8 92.3 L116.4 89.0 L116.0 85.9 L116.6 83.0 L118.0 80.8 L120.1 79.8 L122.9 79.5 L126.3 79.0 L130.8 78.3 L135.9 77.4 L139.5 75.8 L140.2 72.9 L139.5 69.3 L139.5 66.0 L141.2 63.6 L143.7 61.5 L146.0 59.3 L148.1 56.6 L150.1 53.8 L151.0 51.0 L149.7 48.3 L147.3 45.7 L146.0 43.0 L146.7 40.0 L148.5 36.9 L151.0 34.6 L154.5 33.6 L158.8 33.4 L162.5 33.0 L165.5 32.2 L168.0 31.1 L169.0 29.7 L167.5 27.8 L164.6 25.5 L162.5 23.0 L162.0 20.3 L162.4 17.3 L164.0 14.8 L167.2 13.0 L171.6 11.5 L175.7 10.0 L179.0 8.3 L182.1 6.5 Z"/></clipPath><clipPath id="cZ"><path d="M340.3 217.9 L343.7 216.6 L347.1 215.4 L350.9 214.3 L355.5 213.1 L360.4 212.0 L365.0 210.8 L368.8 209.4 L372.1 208.1 L375.5 207.3 L379.0 207.6 L382.5 208.5 L386.0 209.0 L389.6 208.5 L393.2 207.6 L396.6 207.3 L400.1 207.8 L403.3 208.8 L405.4 210.8 L405.3 214.2 L403.9 218.5 L403.6 223.1 L405.3 227.6 L408.0 232.4 L410.5 237.2 L412.3 242.2 L413.8 247.2 L415.2 251.9 L416.5 256.2 L417.6 260.2 L418.1 263.7 L417.8 266.6 L416.8 269.1 L415.2 271.6 L412.9 274.3 L410.0 276.9 L407.2 279.6 L404.5 282.2 L401.8 284.9 L399.3 287.5 L397.1 290.1 L395.2 292.8 L393.4 295.4 L391.5 298.0 L389.7 300.7 L388.5 303.3 L388.5 306.0 L389.1 308.7 L389.4 311.2 L389.2 313.4 L388.7 315.3 L387.5 317.1 L385.4 318.6 L382.6 319.8 L379.6 321.1 L376.4 322.4 L372.9 323.7 L369.7 325.0 L366.8 326.3 L364.2 327.5 L361.8 329.0 L359.7 330.8 L357.9 332.9 L355.8 334.9 L353.3 336.9 L350.7 339.0 L347.9 340.9 L344.8 342.5 L341.5 344.0 L339.2 345.8 L338.5 348.4 L338.8 351.3 L338.6 354.0 L337.5 356.4 L335.9 358.5 L334.3 359.7 L332.6 359.9 L330.7 359.2 L329.3 357.4 L328.5 354.2 L328.1 349.9 L327.7 345.8 L327.3 342.1 L326.9 338.6 L326.0 336.0 L324.3 334.8 L322.0 334.6 L319.5 334.3 L316.7 333.9 L313.7 333.4 L311.2 332.6 L309.8 331.3 L308.9 329.7 L307.9 327.7 L306.4 325.2 L304.8 322.4 L303.0 319.5 L300.9 316.7 L298.7 314.0 L296.4 311.2 L294.2 308.5 L292.0 305.9 L289.8 303.0 L287.5 299.8 L285.3 296.5 L283.2 293.1 L281.2 289.8 L279.3 286.5 L278.2 283.2 L278.2 279.7 L278.9 276.2 L279.9 273.3 L281.0 271.4 L282.3 270.2 L284.0 268.8 L286.3 267.3 L289.0 265.6 L291.1 263.6 L292.0 260.9 L292.4 257.7 L292.9 254.8 L293.7 252.3 L294.8 250.0 L296.4 247.7 L298.9 245.4 L301.9 243.0 L305.2 240.7 L308.8 238.4 L312.5 236.0 L315.7 233.7 L317.7 231.2 L319.2 228.7 L321.0 226.6 L323.6 225.2 L326.6 224.3 L329.8 223.1 L333.2 221.4 L336.7 219.6 Z"/></clipPath><filter id="sb" x="-50%" y="-50%" width="200%" height="200%"><feGaussianBlur stdDeviation="4"/></filter></defs>
<g clip-path="url(#cZ)" style="mix-blend-mode:multiply"><g filter="url(#sb)">
<ellipse cx="305" cy="306" rx="14" ry="17" fill="rgb(204,201,198)"/>
<ellipse cx="322" cy="274" rx="8" ry="16" fill="rgb(191,188,185)"/>
<ellipse cx="338" cy="238" rx="7" ry="16" fill="rgb(178,175,172)"/>
<ellipse cx="396" cy="236" rx="16" ry="8" fill="rgb(204,201,198)"/>
<ellipse cx="367" cy="285" rx="12" ry="9" fill="rgb(216,213,210)"/>
</g></g>
<g clip-path="url(#cS)" style="mix-blend-mode:multiply"><g filter="url(#sb)">
<ellipse cx="120" cy="170" rx="10" ry="18" fill="rgb(204,201,198)"/>
<ellipse cx="140" cy="417" rx="9" ry="16" fill="rgb(153,150,147)"/>
<ellipse cx="138" cy="392" rx="7" ry="6" fill="rgb(173,170,167)"/>
<ellipse cx="160" cy="50" rx="9" ry="14" fill="rgb(216,213,210)"/>
<ellipse cx="185" cy="90" rx="10" ry="12" fill="rgb(216,213,210)"/>
<ellipse cx="120" cy="320" rx="8" ry="14" fill="rgb(216,213,210)"/>
<ellipse cx="132" cy="372" rx="6" ry="10" fill="rgb(204,201,198)"/>
</g></g>
<path d="M161.0 140.0 C162.0 138.2 163.8 136.5 166.0 136.0 C168.2 135.5 172.0 136.0 174.0 137.0 C176.0 138.0 177.5 140.0 178.0 142.0 C178.5 144.0 178.0 147.2 177.0 149.0 C176.0 150.8 174.0 152.5 172.0 153.0 C170.0 153.5 167.0 153.0 165.0 152.0 C163.0 151.0 160.7 149.0 160.0 147.0 C159.3 145.0 160.0 141.8 161.0 140.0 Z" fill="#f2a41e" style="mix-blend-mode:multiply"/>
<path d="M318.5 227.0 C319.2 225.6 321.2 224.2 323.0 223.8 C324.8 223.4 327.7 223.6 329.0 224.5 C330.3 225.4 331.2 227.8 331.0 229.5 C330.8 231.2 329.5 233.6 328.0 234.5 C326.5 235.4 323.6 235.4 322.0 235.0 C320.4 234.6 319.1 233.3 318.5 232.0 C317.9 230.7 317.8 228.4 318.5 227.0 Z" fill="#f2a41e" style="mix-blend-mode:multiply"/>
<path d="M167.5 205.5 C169.6 204.8 174.1 204.1 176.3 204.7 C178.5 205.3 180.1 206.8 180.7 209.0 C181.3 211.2 180.8 215.6 179.8 217.9 C178.8 220.2 176.1 221.3 174.5 223.1 C172.9 224.8 170.8 226.1 170.1 228.4 C169.4 230.8 170.7 234.6 170.1 237.2 C169.5 239.8 167.6 241.8 166.6 244.2 C165.6 246.5 164.4 249.0 164.0 251.3 C163.6 253.7 163.4 256.2 164.0 258.3 C164.6 260.4 166.1 261.9 167.5 263.6 C168.9 265.4 171.8 266.8 172.7 268.8 C173.6 270.9 173.6 273.8 172.7 275.9 C171.8 278.0 168.8 279.1 167.5 281.2 C166.2 283.2 165.7 285.9 164.8 288.2 C163.9 290.5 163.8 293.1 162.2 295.2 C160.6 297.2 157.5 299.9 155.2 300.5 C152.8 301.1 149.6 300.2 148.1 298.7 C146.6 297.2 146.4 294.0 146.4 291.7 C146.4 289.4 147.1 287.0 148.1 284.7 C149.1 282.4 151.9 280.2 152.5 277.6 C153.1 275.0 151.9 271.4 151.6 268.8 C151.3 266.2 151.7 264.1 150.8 261.8 C149.9 259.5 146.7 257.2 146.4 254.8 C146.1 252.5 147.5 249.8 149.0 247.7 C150.5 245.6 154.2 244.6 155.2 242.5 C156.2 240.4 154.9 237.8 155.2 235.4 C155.5 233.1 156.0 230.5 156.9 228.4 C157.8 226.3 159.4 225.2 160.4 223.1 C161.4 221.0 162.5 218.4 163.1 216.1 C163.7 213.8 163.3 210.8 164.0 209.0 C164.7 207.2 165.4 206.2 167.5 205.5 Z" fill="#2b7f7d" style="mix-blend-mode:multiply"/>
<path d="M312.6 241.4 C314.7 241.0 318.6 239.8 321.4 240.5 C324.2 241.2 327.4 243.8 329.3 245.8 C331.2 247.9 332.7 250.9 332.8 252.8 C332.9 254.7 331.5 256.8 330.2 257.2 C328.9 257.6 326.7 256.1 324.9 255.4 C323.1 254.7 321.4 252.9 319.6 252.8 C317.8 252.7 316.1 254.4 314.3 254.6 C312.6 254.8 310.3 254.7 309.1 253.7 C307.9 252.7 307.3 250.2 307.3 248.4 C307.3 246.6 308.2 244.3 309.1 243.1 C310.0 241.9 310.6 241.8 312.6 241.4 Z" fill="#2b7f7d" style="mix-blend-mode:multiply"/>
<path d="M130.5 247.7 C133.2 246.5 140.2 245.4 142.9 246.0 C145.6 246.6 146.1 249.2 146.4 251.3 C146.7 253.4 145.8 256.6 144.6 258.3 C143.4 260.1 140.5 260.1 139.3 261.8 C138.1 263.6 138.5 266.9 137.6 268.8 C136.7 270.7 135.6 272.9 134.0 273.2 C132.4 273.5 129.2 272.5 127.9 270.6 C126.6 268.7 126.4 264.7 126.2 261.8 C126.0 258.9 126.3 255.3 127.0 253.0 C127.7 250.7 127.8 248.9 130.5 247.7 Z" fill="#bdd81c" style="mix-blend-mode:multiply"/>
<path d="M347.0 252.0 C348.3 250.6 351.8 250.3 354.0 250.5 C356.2 250.7 358.8 251.6 360.0 253.0 C361.2 254.4 361.7 257.1 361.5 259.0 C361.3 260.9 360.1 263.3 359.0 264.5 C357.9 265.7 355.8 265.0 355.0 266.0 C354.2 267.0 355.7 269.6 354.5 270.5 C353.3 271.4 349.7 272.2 348.0 271.5 C346.3 270.8 344.8 268.1 344.5 266.0 C344.2 263.9 345.6 261.3 346.0 259.0 C346.4 256.7 345.7 253.4 347.0 252.0 Z" fill="#62a214" style="mix-blend-mode:multiply"/>
<path d="M146.1 329.2 C147.1 328.9 149.0 329.2 150.1 329.9 C151.2 330.6 151.2 332.5 152.7 333.2 C154.2 333.9 157.6 333.5 159.3 333.8 C161.1 334.1 162.2 334.4 163.2 335.2 C164.2 336.0 165.6 337.9 165.2 338.5 C164.8 339.1 162.0 338.7 160.6 339.1 C159.2 339.5 157.4 339.9 156.6 341.1 C155.8 342.3 156.2 344.4 156.0 346.4 C155.8 348.4 156.0 351.4 155.3 353.0 C154.6 354.6 153.2 355.9 152.0 356.3 C150.8 356.7 148.9 356.6 148.1 355.6 C147.3 354.6 147.9 352.1 147.4 350.3 C146.9 348.6 146.1 346.1 144.8 345.1 C143.5 344.1 141.2 344.5 139.5 344.4 C137.8 344.3 136.0 344.6 134.9 344.4 C133.8 344.2 132.6 343.9 132.9 343.1 C133.2 342.3 135.6 341.0 136.9 339.8 C138.2 338.6 139.6 337.1 140.8 335.8 C142.0 334.5 143.2 333.0 144.1 331.9 C145.0 330.8 145.1 329.5 146.1 329.2 Z" fill="#74249a" style="mix-blend-mode:multiply"/>
<path d="M327.1 335.2 C328.4 334.2 334.0 333.2 336.4 333.8 C338.8 334.4 341.3 337.3 341.6 338.5 C341.9 339.7 339.9 340.6 338.4 341.1 C336.9 341.7 334.0 342.0 332.4 341.8 C330.8 341.6 329.4 340.9 328.5 339.8 C327.6 338.7 325.8 336.2 327.1 335.2 Z" fill="#74249a" style="mix-blend-mode:multiply"/>
<defs><radialGradient id="bead" cx="0.5" cy="0.5" r="0.5" fx="0.4" fy="0.35"><stop offset="0" stop-color="#4f9f9c"/><stop offset="0.45" stop-color="#2a7d7b"/><stop offset="0.85" stop-color="#1a5c5b"/><stop offset="1" stop-color="#1a5c5b" stop-opacity="0"/></radialGradient><radialGradient id="beadp" cx="0.5" cy="0.5" r="0.5" fx="0.45" fy="0.4"><stop offset="0" stop-color="#a050c0"/><stop offset="0.5" stop-color="#74249a"/><stop offset="1" stop-color="#5a1a7e" stop-opacity="0"/></radialGradient></defs>
<ellipse cx="172.5" cy="212.5" rx="8" ry="6.5" fill="url(#bead)"/>
<ellipse cx="162.5" cy="236" rx="6.5" ry="6" fill="url(#bead)"/>
<ellipse cx="157" cy="251" rx="7" ry="6.5" fill="url(#bead)"/>
<ellipse cx="165" cy="272.5" rx="7" ry="5.5" fill="url(#bead)"/>
<ellipse cx="155.5" cy="287" rx="7.5" ry="7" fill="url(#bead)"/>
<ellipse cx="150" cy="340" rx="6" ry="5" fill="url(#beadp)"/>
<path d="M254.7 24.9 V434" stroke="#111" stroke-width="1.6" stroke-linecap="round" stroke-dasharray="5.6 5.02"/>
<rect x="276.2" y="12.10" width="22.7" height="16.8" fill="#f9a84f"/>
<text x="301.90" y="25.60" font-size="14.6" font-weight="normal" text-anchor="start" fill="#111" textLength="150" lengthAdjust="spacingAndGlyphs"  stroke="#111" stroke-width="0.66">Clinical or Experimental</text>
<rect x="276.2" y="32.15" width="22.7" height="16.8" fill="#8dc63f"/>
<text x="301.90" y="45.80" font-size="14.6" font-weight="normal" text-anchor="start" fill="#111" textLength="73.5" lengthAdjust="spacingAndGlyphs"  stroke="#111" stroke-width="0.66">Repeat 14A</text>
<rect x="276.2" y="52.20" width="22.7" height="16.8" fill="#2ba8ab"/>
<text x="301.90" y="65.90" font-size="14.6" font-weight="normal" text-anchor="start" fill="#111" textLength="73.5" lengthAdjust="spacingAndGlyphs"  stroke="#111" stroke-width="0.66">Repeat 14C</text>
<rect x="276.2" y="72.25" width="22.7" height="16.8" fill="#8c4c9e"/>
<text x="301.90" y="86.00" font-size="14.6" font-weight="normal" text-anchor="start" fill="#111" textLength="115" lengthAdjust="spacingAndGlyphs"  stroke="#111" stroke-width="0.66">Repeat 15 B/C Loop</text>
<text x="-0.30" y="15.90" font-size="23" font-weight="bold" text-anchor="start" fill="#000" >A</text>
<text x="30.90" y="113.70" font-size="17.5" font-weight="normal" text-anchor="start" fill="#1a1a1a" textLength="86.2" lengthAdjust="spacingAndGlyphs"  stroke="#1a1a1a" stroke-width="0.32">β-Spectrin</text>
<text x="341.40" y="193.40" font-size="19.5" font-weight="normal" text-anchor="start" fill="#1a1a1a" textLength="78" lengthAdjust="spacingAndGlyphs"  stroke="#1a1a1a" stroke-width="0.35">ZU5-ANK</text>
<text x="181.00" y="152.20" font-size="12.9" font-weight="normal" text-anchor="start" fill="#111" textLength="49.1" lengthAdjust="spacingAndGlyphs"  stroke="#111" stroke-width="0.58">Arg1684</text>
<text x="191.80" y="227.30" font-size="12.9" font-weight="normal" text-anchor="start" fill="#111" textLength="50.2" lengthAdjust="spacingAndGlyphs"  stroke="#111" stroke-width="0.58">Asp1773</text>
<text x="192.20" y="241.00" font-size="12.9" font-weight="normal" text-anchor="start" fill="#111" textLength="49.8" lengthAdjust="spacingAndGlyphs"  stroke="#111" stroke-width="0.58">Glu1777</text>
<text x="185.00" y="254.40" font-size="12.9" font-weight="normal" text-anchor="start" fill="#111" textLength="50.3" lengthAdjust="spacingAndGlyphs"  stroke="#111" stroke-width="0.58">Asp1781</text>
<text x="178.50" y="267.70" font-size="12.9" font-weight="normal" text-anchor="start" fill="#111" textLength="50.7" lengthAdjust="spacingAndGlyphs"  stroke="#111" stroke-width="0.58">Asp1784</text>
<text x="177.30" y="281.00" font-size="12.9" font-weight="normal" text-anchor="start" fill="#111" textLength="48.7" lengthAdjust="spacingAndGlyphs"  stroke="#111" stroke-width="0.58">Thr1788</text>
<text x="46.90" y="252.20" font-size="12.9" font-weight="normal" text-anchor="start" fill="#111" textLength="50.3" lengthAdjust="spacingAndGlyphs"  stroke="#111" stroke-width="0.58">Glu1710</text>
<text x="60.30" y="375.80" font-size="12.9" font-weight="normal" text-anchor="start" fill="#111" textLength="47.1" lengthAdjust="spacingAndGlyphs"  stroke="#111" stroke-width="0.58">Tyr1866</text>
<text x="59.50" y="392.60" font-size="12.9" font-weight="normal" text-anchor="start" fill="#111" textLength="48.3" lengthAdjust="spacingAndGlyphs"  stroke="#111" stroke-width="0.58">Ala1865</text>
<text x="81.60" y="431.20" font-size="12.9" font-weight="normal" text-anchor="start" fill="#111" textLength="48.5" lengthAdjust="spacingAndGlyphs"  stroke="#111" stroke-width="0.58">Ala1884</text>
<text x="305.30" y="212.30" font-size="12.9" font-weight="normal" text-anchor="start" fill="#111" textLength="46.1" lengthAdjust="spacingAndGlyphs"  stroke="#111" stroke-width="0.58">Lys1049</text>
<text x="262.80" y="224.40" font-size="12.9" font-weight="normal" text-anchor="start" fill="#111" textLength="41.8" lengthAdjust="spacingAndGlyphs"  stroke="#111" stroke-width="0.58">Arg930</text>
<text x="394.20" y="314.60" font-size="12.9" font-weight="normal" text-anchor="start" fill="#111" textLength="41.1" lengthAdjust="spacingAndGlyphs"  stroke="#111" stroke-width="0.58">Arg952</text>
<text x="388.90" y="354.50" font-size="12.9" font-weight="normal" text-anchor="start" fill="#111" textLength="49.2" lengthAdjust="spacingAndGlyphs"  stroke="#111" stroke-width="0.58">Glu1026</text>
<text x="350.40" y="374.20" font-size="12.9" font-weight="normal" text-anchor="start" fill="#111" textLength="40.4" lengthAdjust="spacingAndGlyphs"  stroke="#111" stroke-width="0.58">Ala921</text>
<path d="M200.7 217.0L188.1 212.6" stroke="#2ba8ab" stroke-width="2.3"/>
<path d="M178.7 209.3L189.3 209.2L186.9 216.0Z" fill="#2ba8ab"/>
<path d="M185.0 286.4L174.6 288.7" stroke="#2ba8ab" stroke-width="2.3"/>
<path d="M164.8 290.8L173.8 285.2L175.3 292.2Z" fill="#2ba8ab"/>
<path d="M98.5 248.4L118.5 251.0" stroke="#8dc63f" stroke-width="2.3"/>
<path d="M128.4 252.3L118.0 254.6L118.9 247.4Z" fill="#8dc63f"/>
<path d="M105.4 379.8L133.7 353.1" stroke="#8c4c9e" stroke-width="2.3"/>
<path d="M141.0 346.2L136.2 355.7L131.3 350.4Z" fill="#8c4c9e"/>
<path d="M102.4 419.3L123.1 403.6" stroke="#f9a84f" stroke-width="2.3"/>
<path d="M131.1 397.6L125.3 406.5L121.0 400.8Z" fill="#f9a84f"/>
<path d="M295.0 226.4L303.9 233.4" stroke="#2ba8ab" stroke-width="2.3"/>
<path d="M311.7 239.6L301.6 236.2L306.1 230.6Z" fill="#2ba8ab"/>
<path d="M398.8 301.2L367.3 272.3" stroke="#8dc63f" stroke-width="2.3"/>
<path d="M359.9 265.5L369.7 269.6L364.8 274.9Z" fill="#8dc63f"/>
<path d="M397.6 341.1L360.4 314.0" stroke="#f9a84f" stroke-width="2.3"/>
<path d="M352.3 308.1L362.5 311.1L358.3 316.9Z" fill="#f9a84f"/>
<path d="M357.2 362.5L347.1 350.4" stroke="#8c4c9e" stroke-width="2.3"/>
<path d="M340.7 342.7L349.9 348.1L344.3 352.7Z" fill="#8c4c9e"/>
<ellipse cx="138.3" cy="391" rx="10.3" ry="9.4" fill="none" stroke="#f39a3a" stroke-width="1.6" stroke-dasharray="3 2"/>
<ellipse cx="343.4" cy="301.5" rx="10.2" ry="8.9" fill="none" stroke="#f39a3a" stroke-width="1.6" stroke-dasharray="3 2"/>
<rect x="244" y="241.5" width="22" height="18.5" fill="#fff"/>
<rect x="262.6" y="245" width="2.4" height="12.5" fill="#777"/>
<g fill="none" stroke="#111" stroke-width="1.25" stroke-linejoin="round"><path d="M247.3 256.3 V245.2 Q250.8 242.3 254.8 244.8 V256.3"/><path d="M262.5 256.3 V245.2 Q258.8 242.3 254.8 244.8"/><path d="M245.3 245.8 V258 H265 V245.8"/></g>
<path d="M245.3 255.6 H265 V258.6 H245.3 Z" fill="#111"/>
<path d="M247.8 256.2 Q251 253.8 254.4 256.2 M255.3 256.2 Q258.6 253.8 262 256.2" stroke="#fff" stroke-width="0.9" fill="none"/>
<text x="0.60" y="489.40" font-size="22" font-weight="bold" text-anchor="start" fill="#000" >B</text>
<text x="191.00" y="489.20" font-size="22.5" font-weight="normal" text-anchor="start" fill="#1a1a1a" textLength="152.5" lengthAdjust="spacingAndGlyphs"  stroke="#1a1a1a" stroke-width="0.40">Binding Affinity</text>
<rect x="77" y="496.5" width="368.5" height="21.2" fill="#333"/>
<rect x="77.60" y="497.2" width="31.40" height="19.8" fill="#87161b"/>
<rect x="109.80" y="497.2" width="50.10" height="19.8" fill="#fa8720"/>
<rect x="160.70" y="497.2" width="29.10" height="19.8" fill="#559b45"/>
<rect x="190.60" y="497.2" width="164.30" height="19.8" fill="#0b8383"/>
<rect x="355.70" y="497.2" width="89.30" height="19.8" fill="#472c7c"/>
<text x="93.50" y="511.40" font-size="10" font-weight="bold" text-anchor="middle" fill="#fff" textLength="17" lengthAdjust="spacingAndGlyphs" >WT</text>
<text x="134.60" y="511.40" font-size="10" font-weight="bold" text-anchor="middle" fill="#fff" textLength="37.5" lengthAdjust="spacingAndGlyphs" >Clinical</text>
<text x="175.30" y="502.40" font-size="5.0" font-weight="bold" text-anchor="middle" fill="#fff" textLength="18.6" lengthAdjust="spacingAndGlyphs" >Repeat</text>
<text x="175.30" y="514.40" font-size="11.5" font-weight="bold" text-anchor="middle" fill="#fff" textLength="20.3" lengthAdjust="spacingAndGlyphs" >14A</text>
<text x="273.50" y="502.40" font-size="5.0" font-weight="bold" text-anchor="middle" fill="#fff" textLength="18.6" lengthAdjust="spacingAndGlyphs" >Repeat</text>
<text x="273.50" y="514.40" font-size="11.5" font-weight="bold" text-anchor="middle" fill="#fff" textLength="20.5" lengthAdjust="spacingAndGlyphs" >14C</text>
<text x="400.30" y="502.40" font-size="5.0" font-weight="bold" text-anchor="middle" fill="#fff" textLength="18.6" lengthAdjust="spacingAndGlyphs" >Repeat</text>
<text x="400.30" y="514.40" font-size="11.5" font-weight="bold" text-anchor="middle" fill="#fff" textLength="65.4" lengthAdjust="spacingAndGlyphs" >15 B/C Loop</text>
<path d="M61.7 529.5H454" fill="none" stroke="#8c8c8c" stroke-width="0.9"/>
<path d="M454.4 529.0V862.7" fill="none" stroke="#222" stroke-width="1.2"/>
<path d="M61.7 529.1V862.2H455" fill="none" stroke="#8c8c8c" stroke-width="1"/>
<path d="M59.5 576.01H61.7 M59.5 564.29H61.7 M59.5 555.98H61.7 M59.5 549.53H61.7 M59.5 544.26H61.7 M59.5 539.81H61.7 M59.5 535.95H61.7 M59.5 532.54H61.7 M59.5 642.55H61.7 M59.5 630.83H61.7 M59.5 622.52H61.7 M59.5 616.07H61.7 M59.5 610.80H61.7 M59.5 606.35H61.7 M59.5 602.49H61.7 M59.5 599.08H61.7 M59.5 709.09H61.7 M59.5 697.37H61.7 M59.5 689.06H61.7 M59.5 682.61H61.7 M59.5 677.34H61.7 M59.5 672.89H61.7 M59.5 669.03H61.7 M59.5 665.62H61.7 M59.5 775.63H61.7 M59.5 763.91H61.7 M59.5 755.60H61.7 M59.5 749.15H61.7 M59.5 743.88H61.7 M59.5 739.43H61.7 M59.5 735.57H61.7 M59.5 732.16H61.7 M59.5 842.17H61.7 M59.5 830.45H61.7 M59.5 822.14H61.7 M59.5 815.69H61.7 M59.5 810.42H61.7 M59.5 805.97H61.7 M59.5 802.11H61.7 M59.5 798.70H61.7 M57.8 529.50H61.7 M57.8 596.04H61.7 M57.8 662.58H61.7 M57.8 729.12H61.7 M57.8 795.66H61.7 M57.8 862.20H61.7" stroke="#8c8c8c" stroke-width="0.8"/>
<text x="51.50" y="533.80" font-size="11" font-weight="bold" text-anchor="end" fill="#111" textLength="23.4" lengthAdjust="spacingAndGlyphs" >1e-4</text>
<text x="51.50" y="600.34" font-size="11" font-weight="bold" text-anchor="end" fill="#111" textLength="23.4" lengthAdjust="spacingAndGlyphs" >1e-5</text>
<text x="51.50" y="666.88" font-size="11" font-weight="bold" text-anchor="end" fill="#111" textLength="23.4" lengthAdjust="spacingAndGlyphs" >1e-6</text>
<text x="51.50" y="733.42" font-size="11" font-weight="bold" text-anchor="end" fill="#111" textLength="23.4" lengthAdjust="spacingAndGlyphs" >1e-7</text>
<text x="51.50" y="799.96" font-size="11" font-weight="bold" text-anchor="end" fill="#111" textLength="23.4" lengthAdjust="spacingAndGlyphs" >1e-8</text>
<text x="51.50" y="866.50" font-size="11" font-weight="bold" text-anchor="end" fill="#111" textLength="23.4" lengthAdjust="spacingAndGlyphs" >1e-9</text>
<g transform="translate(12.4 692.7) rotate(-90)"><text x="0" y="0" font-size="12.5" font-weight="bold" text-anchor="middle" fill="#111" textLength="65" lengthAdjust="spacingAndGlyphs">K<tspan font-size="8" dy="2.5">D</tspan><tspan dy="-2.5"> (molar)</tspan></text></g>
<rect x="81.20" y="797.70" width="17" height="64.50" fill="#87161b" stroke="#3a2a2a" stroke-width="0.5"/>
<path d="M89.70 797.70V796.80M86.20 796.80H93.20" stroke="#333" stroke-width="0.8" fill="none"/>
<text x="87.80" y="794.50" font-size="8.7" font-weight="bold" text-anchor="middle" fill="#111" textLength="32.0" lengthAdjust="spacingAndGlyphs" >9.29 nM</text>
<rect x="109.20" y="817.50" width="17" height="44.70" fill="#fa8720" stroke="#3a2a2a" stroke-width="0.5"/>
<path d="M117.70 817.50V816.80M114.20 816.80H121.20" stroke="#333" stroke-width="0.8" fill="none"/>
<text x="117.70" y="813.60" font-size="8.7" font-weight="bold" text-anchor="middle" fill="#111" textLength="32.2" lengthAdjust="spacingAndGlyphs" >4.70 nM</text>
<rect x="137.20" y="786.40" width="17" height="75.80" fill="#fa8720" stroke="#3a2a2a" stroke-width="0.5"/>
<path d="M145.70 786.40V785.60M142.20 785.60H149.20" stroke="#333" stroke-width="0.8" fill="none"/>
<text x="145.70" y="782.40" font-size="8.7" font-weight="bold" text-anchor="middle" fill="#111" textLength="31.8" lengthAdjust="spacingAndGlyphs" >13.8 nM</text>
<rect x="165.20" y="747.00" width="17" height="115.20" fill="#559b45" stroke="#3a2a2a" stroke-width="0.5"/>
<path d="M173.70 747.00V745.20M170.20 745.20H177.20" stroke="#333" stroke-width="0.8" fill="none"/>
<text x="173.70" y="741.80" font-size="8.7" font-weight="bold" text-anchor="middle" fill="#111" textLength="32.3" lengthAdjust="spacingAndGlyphs" >53.8 nM</text>
<rect x="193.20" y="778.40" width="17" height="83.80" fill="#0b8383" stroke="#3a2a2a" stroke-width="0.5"/>
<path d="M201.70 778.40V776.60M198.20 776.60H205.20" stroke="#333" stroke-width="0.8" fill="none"/>
<text x="201.70" y="773.10" font-size="8.7" font-weight="bold" text-anchor="middle" fill="#111" textLength="32.0" lengthAdjust="spacingAndGlyphs" >17.8 nM</text>
<rect x="221.20" y="758.20" width="17" height="104.00" fill="#0b8383" stroke="#3a2a2a" stroke-width="0.5"/>
<path d="M229.70 758.20V756.20M226.20 756.20H233.20" stroke="#333" stroke-width="0.8" fill="none"/>
<text x="229.70" y="753.30" font-size="8.7" font-weight="bold" text-anchor="middle" fill="#111" textLength="32.0" lengthAdjust="spacingAndGlyphs" >37.2 nM</text>
<rect x="249.20" y="712.00" width="17" height="150.20" fill="#0b8383" stroke="#3a2a2a" stroke-width="0.5"/>
<path d="M257.70 712.00V710.00M254.20 710.00H261.20" stroke="#333" stroke-width="0.8" fill="none"/>
<text x="257.70" y="706.50" font-size="8.7" font-weight="bold" text-anchor="middle" fill="#111" textLength="29.3" lengthAdjust="spacingAndGlyphs" >178 nM</text>
<rect x="277.20" y="549.30" width="17" height="312.90" fill="#0b8383" stroke="#3a2a2a" stroke-width="0.5"/>
<text x="284.20" y="545.70" font-size="8.7" font-weight="bold" text-anchor="middle" fill="#111" textLength="32.3" lengthAdjust="spacingAndGlyphs" >&gt; 50 uM</text>
<rect x="305.20" y="612.20" width="17" height="250.00" fill="#0b8383" stroke="#3a2a2a" stroke-width="0.5"/>
<path d="M313.70 612.20V605.00M310.20 605.00H317.20" stroke="#333" stroke-width="0.8" fill="none"/>
<text x="313.70" y="602.50" font-size="8.7" font-weight="bold" text-anchor="middle" fill="#111" textLength="31.9" lengthAdjust="spacingAndGlyphs" >5.70 uM</text>
<rect x="333.20" y="634.40" width="17" height="227.80" fill="#0b8383" stroke="#3a2a2a" stroke-width="0.5"/>
<path d="M341.70 634.40V623.80M338.20 623.80H345.20" stroke="#333" stroke-width="0.8" fill="none"/>
<text x="341.70" y="621.40" font-size="8.7" font-weight="bold" text-anchor="middle" fill="#111" textLength="32.0" lengthAdjust="spacingAndGlyphs" >2.59 uM</text>
<rect x="361.20" y="741.40" width="17" height="120.80" fill="#472c7c" stroke="#3a2a2a" stroke-width="0.5"/>
<path d="M369.70 741.40V740.80M366.20 740.80H373.20" stroke="#333" stroke-width="0.8" fill="none"/>
<text x="369.70" y="738.10" font-size="8.7" font-weight="bold" text-anchor="middle" fill="#111" textLength="32.3" lengthAdjust="spacingAndGlyphs" >64.4 nM</text>
<rect x="389.20" y="590.80" width="17" height="271.40" fill="#472c7c" stroke="#3a2a2a" stroke-width="0.5"/>
<path d="M397.70 590.80V578.90M394.20 578.90H401.20" stroke="#333" stroke-width="0.8" fill="none"/>
<text x="397.70" y="576.00" font-size="8.7" font-weight="bold" text-anchor="middle" fill="#111" textLength="32.5" lengthAdjust="spacingAndGlyphs" >11.9 uM</text>
<rect x="417.20" y="707.00" width="17" height="155.20" fill="#472c7c" stroke="#3a2a2a" stroke-width="0.5"/>
<path d="M425.70 707.00V705.40M422.20 705.40H429.20" stroke="#333" stroke-width="0.8" fill="none"/>
<text x="425.70" y="701.00" font-size="8.7" font-weight="bold" text-anchor="middle" fill="#111" textLength="29.8" lengthAdjust="spacingAndGlyphs" >215 nM</text>
<path d="M89.70 862.2V866.7 M117.70 862.2V866.7 M145.70 862.2V866.7 M173.70 862.2V866.7 M201.70 862.2V866.7 M229.70 862.2V866.7 M257.70 862.2V866.7 M285.70 862.2V866.7 M313.70 862.2V866.7 M341.70 862.2V866.7 M369.70 862.2V866.7 M397.70 862.2V866.7 M425.70 862.2V866.7" stroke="#8c8c8c" stroke-width="0.8"/>
<text transform="translate(81.90 873.3000000000001) rotate(60)" font-size="11.3" font-weight="bold" fill="#111">Wildtype</text>
<text transform="translate(113.60 873.7) rotate(60)" font-size="11.3" font-weight="bold" fill="#111">R1684C</text>
<text transform="translate(141.60 873.7) rotate(60)" font-size="11.3" font-weight="bold" fill="#111">A1884V</text>
<text transform="translate(169.60 873.7) rotate(60)" font-size="11.3" font-weight="bold" fill="#111">E1710A</text>
<text transform="translate(197.60 873.7) rotate(60)" font-size="11.3" font-weight="bold" fill="#111">D1773A</text>
<text transform="translate(225.60 873.7) rotate(60)" font-size="11.3" font-weight="bold" fill="#111">E1777A</text>
<text transform="translate(253.60 873.7) rotate(60)" font-size="11.3" font-weight="bold" fill="#111">D1781A</text>
<text transform="translate(281.60 873.7) rotate(60)" font-size="11.3" font-weight="bold" fill="#111">D1781R</text>
<text transform="translate(309.60 873.7) rotate(60)" font-size="11.3" font-weight="bold" fill="#111">E1784A</text>
<text transform="translate(337.60 873.7) rotate(60)" font-size="11.3" font-weight="bold" fill="#111">T1788A</text>
<text transform="translate(365.60 873.7) rotate(60)" font-size="11.3" font-weight="bold" fill="#111">A1865P</text>
<text transform="translate(393.60 873.7) rotate(60)" font-size="11.3" font-weight="bold" fill="#111">Y1866A</text>
<text transform="translate(421.60 873.7) rotate(60)" font-size="11.3" font-weight="bold" fill="#111">Y1866F</text>
<rect x="88.4" y="536.7" width="131.5" height="121.89999999999998" fill="#fff" stroke="#bbb" stroke-width="0.6"/>
<path d="M88.4 536.7V658.6H219.9" fill="none" stroke="#666" stroke-width="0.7"/>
<text x="85.80" y="660.80" font-size="6.2" font-weight="bold" text-anchor="end" fill="#111" >0</text>
<text x="85.80" y="640.48" font-size="6.2" font-weight="bold" text-anchor="end" fill="#111" >10</text>
<text x="85.80" y="620.17" font-size="6.2" font-weight="bold" text-anchor="end" fill="#111" >20</text>
<text x="85.80" y="599.85" font-size="6.2" font-weight="bold" text-anchor="end" fill="#111" >30</text>
<text x="85.80" y="579.53" font-size="6.2" font-weight="bold" text-anchor="end" fill="#111" >40</text>
<text x="85.80" y="559.22" font-size="6.2" font-weight="bold" text-anchor="end" fill="#111" >50</text>
<text x="85.80" y="538.90" font-size="6.2" font-weight="bold" text-anchor="end" fill="#111" >60</text>
<text x="88.40" y="669.20" font-size="6.2" font-weight="bold" text-anchor="middle" fill="#111" >0</text>
<text x="110.32" y="669.20" font-size="6.2" font-weight="bold" text-anchor="middle" fill="#111" >20</text>
<text x="132.23" y="669.20" font-size="6.2" font-weight="bold" text-anchor="middle" fill="#111" >40</text>
<text x="154.15" y="669.20" font-size="6.2" font-weight="bold" text-anchor="middle" fill="#111" >60</text>
<text x="176.07" y="669.20" font-size="6.2" font-weight="bold" text-anchor="middle" fill="#111" >80</text>
<text x="197.98" y="669.20" font-size="6.2" font-weight="bold" text-anchor="middle" fill="#111" >100</text>
<text x="219.90" y="669.20" font-size="6.2" font-weight="bold" text-anchor="middle" fill="#111" >120</text>
<path d="M86.4 658.60H88.4 M86.4 638.28H88.4 M86.4 617.97H88.4 M86.4 597.65H88.4 M86.4 577.33H88.4 M86.4 557.02H88.4 M86.4 536.70H88.4 M88.40 658.6V660.6 M110.32 658.6V660.6 M132.23 658.6V660.6 M154.15 658.6V660.6 M176.07 658.6V660.6 M197.98 658.6V660.6 M219.90 658.6V660.6" stroke="#666" stroke-width="0.5"/>
<text x="155.00" y="677.20" font-size="6.2" font-weight="bold" text-anchor="middle" fill="#111" textLength="39.6" lengthAdjust="spacingAndGlyphs" >time (seconds)</text>
<text transform="translate(75.6 596.5) rotate(-90)" font-size="6" font-weight="bold" text-anchor="middle" fill="#111" textLength="70" lengthAdjust="spacingAndGlyphs">response difference (a.u.)</text>
<polyline points="88.40,658.60 88.73,628.74 89.06,608.22 89.50,590.47 90.04,577.76 90.59,570.95 91.14,567.31 91.69,565.36 92.78,563.76 93.88,563.30 94.98,563.16 97.17,563.12 99.36,563.11 104.84,563.11 110.32,563.11 121.28,563.11 132.23,563.11 143.19,563.11 151.96,561.97 153.60,560.25 154.15,559.67 154.70,564.63 155.25,566.12 156.34,569.03 157.44,571.85 158.53,574.58 160.73,579.79 162.92,584.68 165.11,589.26 168.40,595.61 171.68,601.37 176.07,608.25 181.55,615.69 187.03,622.04 192.50,627.44 197.98,632.05 203.46,635.98 208.94,639.32 214.42,642.17 219.90,644.60" fill="none" stroke="#f08a30" stroke-width="0.85"/>
<polyline points="88.40,658.60 88.73,629.18 89.06,608.97 89.50,591.48 90.04,578.96 90.59,572.26 91.14,568.67 91.69,566.75 92.78,565.17 93.88,564.72 94.98,564.59 97.17,564.54 99.36,564.53 104.84,564.53 110.32,564.53 121.28,564.53 132.23,564.53 143.19,564.53 151.96,563.41 153.60,561.71 154.15,561.15 154.70,566.86 155.25,569.12 156.34,573.49 157.44,577.64 158.53,581.59 160.73,588.91 162.92,595.55 165.11,601.55 168.40,609.49 171.68,616.33 176.07,623.99 181.55,631.65 187.03,637.61 192.50,642.25 197.98,645.87 203.46,648.69 208.94,650.88 214.42,652.59 219.90,653.92" fill="none" stroke="#f0a060" stroke-width="0.85" stroke-dasharray="4 2"/>
<polyline points="88.40,658.60 88.73,630.96 89.06,611.97 89.50,595.54 90.04,583.78 90.59,577.48 91.14,574.11 91.69,572.30 92.78,570.82 93.88,570.39 94.98,570.27 97.17,570.23 99.36,570.22 104.84,570.22 110.32,570.22 121.28,570.22 132.23,570.22 143.19,570.22 151.96,569.16 153.60,567.57 154.15,567.04 154.70,574.11 155.25,577.83 156.34,584.78 157.44,591.13 158.53,596.94 160.73,607.10 162.92,615.58 165.11,622.67 168.40,631.17 171.68,637.66 176.07,643.99 181.55,649.29 187.03,652.66 192.50,654.81 197.98,656.19 203.46,657.06 208.94,657.62 214.42,657.97 219.90,658.20" fill="none" stroke="#b8343c" stroke-width="0.85"/>
<polyline points="88.40,658.60 88.73,633.50 89.06,616.26 89.50,601.34 90.04,590.66 90.59,584.94 91.14,581.88 91.69,580.24 92.78,578.89 93.88,578.50 94.98,578.39 97.17,578.35 99.36,578.35 104.84,578.35 110.32,578.35 121.28,578.35 132.23,578.35 143.19,578.35 151.96,577.39 153.60,575.94 154.15,575.46 154.70,583.02 155.25,587.42 156.34,595.47 157.44,602.61 158.53,608.94 160.73,619.54 162.92,627.87 165.11,634.43 168.40,641.74 171.68,646.83 176.07,651.32 181.55,654.60 187.03,656.41 192.50,657.40 197.98,657.94 203.46,658.24 208.94,658.40 214.42,658.49 219.90,658.54" fill="none" stroke="#3aa060" stroke-width="0.85"/>
<polyline points="88.40,658.60 88.73,634.33 89.06,617.65 89.50,603.23 90.04,592.89 90.59,587.36 91.14,584.40 91.69,582.82 92.78,581.51 93.88,581.14 94.98,581.03 97.17,580.99 99.36,580.99 104.84,580.99 110.32,580.99 121.28,580.99 132.23,580.99 143.19,580.99 151.96,580.06 153.60,578.66 154.15,578.20 154.70,583.28 155.25,585.51 156.34,589.77 157.44,593.77 158.53,597.55 160.73,604.45 162.92,610.58 165.11,616.01 168.40,623.02 171.68,628.88 176.07,635.22 181.55,641.28 187.03,645.77 192.50,649.10 197.98,651.56 203.46,653.38 208.94,654.74 214.42,655.74 219.90,656.48" fill="none" stroke="#2a9a98" stroke-width="0.85" stroke-dasharray="4 2"/>
<polyline points="88.40,658.60 88.73,637.29 89.06,622.02 89.50,608.17 90.04,597.63 90.59,591.57 91.14,588.10 91.69,586.11 92.78,584.31 93.88,583.72 94.98,583.52 97.17,583.44 99.36,583.43 104.84,583.43 110.32,583.43 121.28,583.43 132.23,583.43 143.19,583.43 151.96,582.53 153.60,581.17 154.15,580.72 154.70,584.92 155.25,586.38 156.34,589.21 157.44,591.93 158.53,594.54 160.73,599.47 162.92,604.01 165.11,608.21 168.40,613.91 171.68,618.96 176.07,624.82 181.55,630.95 187.03,635.96 192.50,640.06 197.98,643.42 203.46,646.17 208.94,648.43 214.42,650.27 219.90,651.78" fill="none" stroke="#17807c" stroke-width="0.85"/>
<polyline points="88.40,658.60 88.73,638.44 89.06,624.00 89.50,610.90 90.04,600.92 90.59,595.20 91.14,591.91 91.69,590.03 92.78,588.33 93.88,587.77 94.98,587.58 97.17,587.50 99.36,587.49 104.84,587.49 110.32,587.49 121.28,587.49 132.23,587.49 143.19,587.49 151.96,586.64 153.60,585.36 154.15,584.93 154.70,592.96 155.25,598.01 156.34,606.96 157.44,614.60 158.53,621.11 160.73,631.37 162.92,638.83 165.11,644.24 168.40,649.72 171.68,653.10 176.07,655.70 181.55,657.30 187.03,658.01 192.50,658.34 197.98,658.48 203.46,658.55 208.94,658.58 214.42,658.59 219.90,658.60" fill="none" stroke="#3a9a6a" stroke-width="0.85"/>
<polyline points="88.40,658.60 88.73,640.96 89.06,627.89 89.50,615.58 90.04,605.73 90.59,599.75 91.14,596.13 91.69,593.93 92.78,591.79 93.88,591.00 94.98,590.71 97.17,590.56 99.36,590.54 104.84,590.54 110.32,590.54 121.28,590.54 132.23,590.54 143.19,590.54 151.96,589.72 153.60,588.50 154.15,588.09 154.70,591.82 155.25,593.08 156.34,595.52 157.44,597.87 158.53,600.14 160.73,604.42 162.92,608.38 165.11,612.06 168.40,617.07 171.68,621.55 176.07,626.77 181.55,632.28 187.03,636.83 192.50,640.60 197.98,643.71 203.46,646.29 208.94,648.42 214.42,650.18 219.90,651.64" fill="none" stroke="#2a2a6e" stroke-width="0.85"/>
<polyline points="88.40,658.60 88.73,643.86 89.06,632.38 89.50,620.92 90.04,611.05 90.59,604.55 91.14,600.26 91.69,597.43 92.78,594.34 93.88,592.99 94.98,592.41 97.17,592.05 99.36,591.98 104.84,591.96 110.32,591.96 121.28,591.96 132.23,591.96 143.19,591.96 151.96,591.16 153.60,589.96 154.15,589.56 154.70,595.21 155.25,598.30 156.34,604.04 157.44,609.23 158.53,613.93 160.73,622.03 162.92,628.66 165.11,634.09 168.40,640.44 171.68,645.15 176.07,649.58 181.55,653.13 187.03,655.28 192.50,656.59 197.98,657.38 203.46,657.86 208.94,658.15 214.42,658.33 219.90,658.43" fill="none" stroke="#5a3a9a" stroke-width="0.85"/>
<polyline points="88.40,658.60 88.73,644.22 89.06,633.02 89.50,621.84 90.04,612.21 90.59,605.87 91.14,601.68 91.69,598.92 92.78,595.91 93.88,594.59 94.98,594.02 97.17,593.67 99.36,593.60 104.84,593.59 110.32,593.59 121.28,593.59 132.23,593.59 143.19,593.59 151.96,592.81 153.60,591.64 154.15,591.25 154.70,595.82 155.25,597.98 156.34,602.08 157.44,605.90 158.53,609.46 160.73,615.88 162.92,621.46 165.11,626.32 168.40,632.43 171.68,637.39 176.07,642.57 181.55,647.30 187.03,650.64 192.50,652.99 197.98,654.65 203.46,655.81 208.94,656.64 214.42,657.22 219.90,657.63" fill="none" stroke="#1a6a7a" stroke-width="0.85"/>
<polyline points="88.40,658.60 88.73,652.61 89.06,647.18 89.50,640.75 90.04,633.82 90.59,627.95 91.14,622.99 91.69,618.79 92.78,612.22 93.88,607.51 94.98,604.14 97.17,599.99 99.36,597.87 104.84,596.04 110.32,595.70 121.28,595.62 132.23,595.62 143.19,595.62 151.96,594.86 153.60,593.73 154.15,593.35 154.70,602.18 155.25,608.06 156.34,618.04 157.44,626.05 158.53,632.48 160.73,641.78 162.92,647.76 165.11,651.62 168.40,654.99 171.68,656.74 176.07,657.83 181.55,658.34 187.03,658.51 192.50,658.57 197.98,658.59 203.46,658.60 208.94,658.60 214.42,658.60 219.90,658.60" fill="none" stroke="#8a6ac0" stroke-width="0.85" stroke-dasharray="4 2"/>
<polyline points="88.40,658.60 88.73,650.81 89.06,645.03 89.50,639.59 90.04,635.24 90.59,632.60 91.14,631.00 91.69,630.03 92.78,629.08 93.88,628.73 94.98,628.61 97.17,628.54 99.36,628.53 104.84,628.53 110.32,628.53 121.28,628.53 132.23,628.53 143.19,628.53 151.96,628.17 153.60,627.63 154.15,627.45 154.70,632.72 155.25,636.32 156.34,642.10 157.44,646.37 158.53,649.54 160.73,653.63 162.92,655.87 165.11,657.10 168.40,657.99 171.68,658.35 176.07,658.53 181.55,658.58 187.03,658.60 192.50,658.60 197.98,658.60 203.46,658.60 208.94,658.60 214.42,658.60 219.90,658.60" fill="none" stroke="#3aa0a0" stroke-width="0.85" stroke-dasharray="5 2.5"/>
<polyline points="88.40,658.60 88.73,656.76 89.06,655.39 89.50,654.11 90.04,653.08 90.59,652.45 91.14,652.07 91.69,651.84 92.78,651.62 93.88,651.54 94.98,651.51 97.17,651.49 99.36,651.49 104.84,651.49 110.32,651.49 121.28,651.49 132.23,651.49 143.19,651.49 151.96,651.40 153.60,651.28 154.15,651.23 154.70,653.06 155.25,654.29 156.34,655.98 157.44,657.01 158.53,657.64 160.73,658.25 162.92,658.47 165.11,658.55 168.40,658.59 171.68,658.60 176.07,658.60 181.55,658.60 187.03,658.60 192.50,658.60 197.98,658.60 203.46,658.60 208.94,658.60 214.42,658.60 219.90,658.60" fill="none" stroke="#3aa0b0" stroke-width="0.85" stroke-dasharray="5 2.5"/>
<polyline points="88.40,658.60 88.73,657.44 89.06,656.58 89.50,655.77 90.04,655.13 90.59,654.74 91.14,654.50 91.69,654.35 92.78,654.21 93.88,654.16 94.98,654.14 97.17,654.13 99.36,654.13 104.84,654.13 110.32,654.13 121.28,654.13 132.23,654.13 143.19,654.13 151.96,654.08 153.60,654.00 154.15,653.97 154.70,655.12 155.25,655.89 156.34,656.96 157.44,657.60 158.53,658.00 160.73,658.38 162.92,658.52 165.11,658.57 168.40,658.59 171.68,658.60 176.07,658.60 181.55,658.60 187.03,658.60 192.50,658.60 197.98,658.60 203.46,658.60 208.94,658.60 214.42,658.60 219.90,658.60" fill="none" stroke="#6a4aa0" stroke-width="0.85"/>
<text x="0.30" y="947.80" font-size="22" font-weight="bold" text-anchor="start" fill="#000" >C</text>
<text x="182.90" y="947.70" font-size="22.5" font-weight="normal" text-anchor="start" fill="#1a1a1a" textLength="169.2" lengthAdjust="spacingAndGlyphs"  stroke="#1a1a1a" stroke-width="0.40">Thermal Stability</text>
<path d="M61.7 955.6H455" fill="none" stroke="#8c8c8c" stroke-width="0.9"/>
<circle cx="454.3" cy="955.6" r="1" fill="#222"/>
<path d="M61.7 955.2V1211.1H455" fill="none" stroke="#8c8c8c" stroke-width="1"/>
<path d="M56.8 955.60H61.7 M59.4 973.85H61.7 M56.8 992.10H61.7 M59.4 1010.35H61.7 M56.8 1028.60H61.7 M59.4 1046.85H61.7 M56.8 1065.10H61.7 M59.4 1083.35H61.7 M56.8 1101.60H61.7 M59.4 1119.85H61.7 M56.8 1138.10H61.7 M59.4 1156.35H61.7 M56.8 1174.60H61.7 M59.4 1192.85H61.7 M56.8 1211.10H61.7" stroke="#8c8c8c" stroke-width="0.8"/>
<text x="51.60" y="960.20" font-size="10.5" font-weight="bold" text-anchor="end" fill="#111" textLength="11.9" lengthAdjust="spacingAndGlyphs" >54</text>
<text x="51.60" y="996.70" font-size="10.5" font-weight="bold" text-anchor="end" fill="#111" textLength="11.9" lengthAdjust="spacingAndGlyphs" >52</text>
<text x="51.60" y="1033.20" font-size="10.5" font-weight="bold" text-anchor="end" fill="#111" textLength="11.9" lengthAdjust="spacingAndGlyphs" >50</text>
<text x="51.60" y="1069.70" font-size="10.5" font-weight="bold" text-anchor="end" fill="#111" textLength="11.9" lengthAdjust="spacingAndGlyphs" >48</text>
<text x="51.60" y="1106.20" font-size="10.5" font-weight="bold" text-anchor="end" fill="#111" textLength="11.9" lengthAdjust="spacingAndGlyphs" >46</text>
<text x="51.60" y="1142.70" font-size="10.5" font-weight="bold" text-anchor="end" fill="#111" textLength="11.9" lengthAdjust="spacingAndGlyphs" >44</text>
<text x="51.60" y="1179.20" font-size="10.5" font-weight="bold" text-anchor="end" fill="#111" textLength="11.9" lengthAdjust="spacingAndGlyphs" >42</text>
<text x="51.60" y="1215.70" font-size="10.5" font-weight="bold" text-anchor="end" fill="#111" textLength="11.9" lengthAdjust="spacingAndGlyphs" >40</text>
<g transform="translate(25.2 1098) rotate(-90)"><text x="0" y="0" font-size="12.5" font-weight="bold" text-anchor="middle" fill="#111">T<tspan font-size="8" dy="2.5">M</tspan><tspan dy="-2.5"> (°C)</tspan></text></g>
<rect x="81.20" y="1058.00" width="17" height="153.10" fill="#87161b" stroke="#3a2a2a" stroke-width="0.5"/>
<path d="M89.70 1058.00V1056.80M86.20 1056.80H93.20" stroke="#333" stroke-width="0.8" fill="none"/>
<text x="89.70" y="1054.90" font-size="8.7" font-weight="bold" text-anchor="middle" fill="#111" textLength="16.8" lengthAdjust="spacingAndGlyphs" >48.4</text>
<rect x="109.20" y="1175.70" width="17" height="35.40" fill="#fa8720" stroke="#3a2a2a" stroke-width="0.5"/>
<path d="M117.70 1175.70V1175.00M114.20 1175.00H121.20" stroke="#333" stroke-width="0.8" fill="none"/>
<text x="117.70" y="1171.50" font-size="8.7" font-weight="bold" text-anchor="middle" fill="#111" textLength="16.8" lengthAdjust="spacingAndGlyphs" >41.9</text>
<rect x="137.20" y="1115.40" width="17" height="95.70" fill="#fa8720" stroke="#3a2a2a" stroke-width="0.5"/>
<path d="M145.70 1115.40V1112.00M142.20 1112.00H149.20" stroke="#333" stroke-width="0.8" fill="none"/>
<text x="145.70" y="1110.00" font-size="8.7" font-weight="bold" text-anchor="middle" fill="#111" textLength="16.8" lengthAdjust="spacingAndGlyphs" >45.2</text>
<rect x="165.20" y="1007.10" width="17" height="204.00" fill="#559b45" stroke="#3a2a2a" stroke-width="0.5"/>
<path d="M173.70 1007.10V1004.20M170.20 1004.20H177.20" stroke="#333" stroke-width="0.8" fill="none"/>
<text x="173.70" y="1000.90" font-size="8.7" font-weight="bold" text-anchor="middle" fill="#111" textLength="16.8" lengthAdjust="spacingAndGlyphs" >51.2</text>
<rect x="193.20" y="1049.30" width="17" height="161.80" fill="#0b8383" stroke="#3a2a2a" stroke-width="0.5"/>
<path d="M201.70 1049.30V1046.00M198.20 1046.00H205.20" stroke="#333" stroke-width="0.8" fill="none"/>
<text x="201.70" y="1042.10" font-size="8.7" font-weight="bold" text-anchor="middle" fill="#111" textLength="16.8" lengthAdjust="spacingAndGlyphs" >48.9</text>
<rect x="221.20" y="1039.50" width="17" height="171.60" fill="#0b8383" stroke="#3a2a2a" stroke-width="0.5"/>
<path d="M229.70 1039.50V1035.40M226.20 1035.40H233.20" stroke="#333" stroke-width="0.8" fill="none"/>
<text x="229.70" y="1031.50" font-size="8.7" font-weight="bold" text-anchor="middle" fill="#111" textLength="16.8" lengthAdjust="spacingAndGlyphs" >49.9</text>
<rect x="249.20" y="1046.60" width="17" height="164.50" fill="#0b8383" stroke="#3a2a2a" stroke-width="0.5"/>
<path d="M257.70 1046.60V1042.30M254.20 1042.30H261.20" stroke="#333" stroke-width="0.8" fill="none"/>
<text x="257.70" y="1038.90" font-size="8.7" font-weight="bold" text-anchor="middle" fill="#111" textLength="16.8" lengthAdjust="spacingAndGlyphs" >49.0</text>
<rect x="277.20" y="1007.20" width="17" height="203.90" fill="#0b8383" stroke="#3a2a2a" stroke-width="0.5"/>
<path d="M285.70 1007.20V1003.80M282.20 1003.80H289.20" stroke="#333" stroke-width="0.8" fill="none"/>
<text x="285.70" y="1000.90" font-size="8.7" font-weight="bold" text-anchor="middle" fill="#111" textLength="16.8" lengthAdjust="spacingAndGlyphs" >51.2</text>
<rect x="305.20" y="1052.30" width="17" height="158.80" fill="#0b8383" stroke="#3a2a2a" stroke-width="0.5"/>
<path d="M313.70 1052.30V1051.30M310.20 1051.30H317.20" stroke="#333" stroke-width="0.8" fill="none"/>
<text x="313.70" y="1047.40" font-size="8.7" font-weight="bold" text-anchor="middle" fill="#111" textLength="16.8" lengthAdjust="spacingAndGlyphs" >48.7</text>
<rect x="333.20" y="1063.20" width="17" height="147.90" fill="#0b8383" stroke="#3a2a2a" stroke-width="0.5"/>
<path d="M341.70 1063.20V1062.30M338.20 1062.30H345.20" stroke="#333" stroke-width="0.8" fill="none"/>
<text x="341.70" y="1058.20" font-size="8.7" font-weight="bold" text-anchor="middle" fill="#111" textLength="16.8" lengthAdjust="spacingAndGlyphs" >48.1</text>
<rect x="361.20" y="1109.20" width="17" height="101.90" fill="#472c7c" stroke="#3a2a2a" stroke-width="0.5"/>
<path d="M369.70 1109.20V1108.60M366.20 1108.60H373.20" stroke="#333" stroke-width="0.8" fill="none"/>
<text x="369.70" y="1107.30" font-size="8.7" font-weight="bold" text-anchor="middle" fill="#111" textLength="16.8" lengthAdjust="spacingAndGlyphs" >45.5</text>
<rect x="389.20" y="1087.00" width="17" height="124.10" fill="#472c7c" stroke="#3a2a2a" stroke-width="0.5"/>
<path d="M397.70 1087.00V1086.20M394.20 1086.20H401.20" stroke="#333" stroke-width="0.8" fill="none"/>
<text x="397.70" y="1084.70" font-size="8.7" font-weight="bold" text-anchor="middle" fill="#111" textLength="16.8" lengthAdjust="spacingAndGlyphs" >46.8</text>
<rect x="417.20" y="1053.10" width="17" height="158.00" fill="#472c7c" stroke="#3a2a2a" stroke-width="0.5"/>
<path d="M425.70 1053.10V1052.20M422.20 1052.20H429.20" stroke="#333" stroke-width="0.8" fill="none"/>
<text x="425.70" y="1050.80" font-size="8.7" font-weight="bold" text-anchor="middle" fill="#111" textLength="16.8" lengthAdjust="spacingAndGlyphs" >48.6</text>
<path d="M89.70 1211.1V1215.6 M117.70 1211.1V1215.6 M145.70 1211.1V1215.6 M173.70 1211.1V1215.6 M201.70 1211.1V1215.6 M229.70 1211.1V1215.6 M257.70 1211.1V1215.6 M285.70 1211.1V1215.6 M313.70 1211.1V1215.6 M341.70 1211.1V1215.6 M369.70 1211.1V1215.6 M397.70 1211.1V1215.6 M425.70 1211.1V1215.6" stroke="#8c8c8c" stroke-width="0.8"/>
<text transform="translate(81.00 1221.1) rotate(60)" font-size="10.5" font-weight="bold" fill="#111">Wildtype</text>
<text transform="translate(113.70 1220.8) rotate(60)" font-size="10.5" font-weight="bold" fill="#111">R1684C</text>
<text transform="translate(141.70 1220.8) rotate(60)" font-size="10.5" font-weight="bold" fill="#111">A1884V</text>
<text transform="translate(169.70 1220.8) rotate(60)" font-size="10.5" font-weight="bold" fill="#111">E1710A</text>
<text transform="translate(197.70 1220.8) rotate(60)" font-size="10.5" font-weight="bold" fill="#111">D1773A</text>
<text transform="translate(225.70 1220.8) rotate(60)" font-size="10.5" font-weight="bold" fill="#111">E1777A</text>
<text transform="translate(253.70 1220.8) rotate(60)" font-size="10.5" font-weight="bold" fill="#111">D1781A</text>
<text transform="translate(281.70 1220.8) rotate(60)" font-size="10.5" font-weight="bold" fill="#111">D1781R</text>
<text transform="translate(309.70 1220.8) rotate(60)" font-size="10.5" font-weight="bold" fill="#111">E1784A</text>
<text transform="translate(337.70 1220.8) rotate(60)" font-size="10.5" font-weight="bold" fill="#111">T1788A</text>
<text transform="translate(365.70 1220.8) rotate(60)" font-size="10.5" font-weight="bold" fill="#111">A1865P</text>
<text transform="translate(393.70 1220.8) rotate(60)" font-size="10.5" font-weight="bold" fill="#111">Y1866A</text>
<text transform="translate(421.70 1220.8) rotate(60)" font-size="10.5" font-weight="bold" fill="#111">Y1866F</text>
<text x="258.50" y="1279.60" font-size="14" font-weight="normal" text-anchor="middle" fill="#1a1a1a" textLength="54.5" lengthAdjust="spacingAndGlyphs"  stroke="#1a1a1a" stroke-width="0.25">mutation</text>
<rect x="332.8" y="960.4" width="108.70" height="75.20" fill="#fff" stroke="#999" stroke-width="0.7"/>
<path d="M441.5 960.4H332.8V1035.6H441.5" fill="none" stroke="#222" stroke-width="0.9"/>
<text x="331.00" y="1037.30" font-size="4.8" font-weight="bold" text-anchor="end" fill="#111" >0.0</text>
<text x="331.00" y="1022.26" font-size="4.8" font-weight="bold" text-anchor="end" fill="#111" >0.2</text>
<text x="331.00" y="1007.22" font-size="4.8" font-weight="bold" text-anchor="end" fill="#111" >0.4</text>
<text x="331.00" y="992.18" font-size="4.8" font-weight="bold" text-anchor="end" fill="#111" >0.6</text>
<text x="331.00" y="977.14" font-size="4.8" font-weight="bold" text-anchor="end" fill="#111" >0.8</text>
<text x="331.00" y="962.10" font-size="4.8" font-weight="bold" text-anchor="end" fill="#111" >1.0</text>
<text x="332.80" y="1041.90" font-size="4.8" font-weight="bold" text-anchor="middle" fill="#111" >35</text>
<text x="354.54" y="1041.90" font-size="4.8" font-weight="bold" text-anchor="middle" fill="#111" >40</text>
<text x="376.28" y="1041.90" font-size="4.8" font-weight="bold" text-anchor="middle" fill="#111" >45</text>
<text x="398.02" y="1041.90" font-size="4.8" font-weight="bold" text-anchor="middle" fill="#111" >50</text>
<text x="419.76" y="1041.90" font-size="4.8" font-weight="bold" text-anchor="middle" fill="#111" >55</text>
<text x="441.50" y="1041.90" font-size="4.8" font-weight="bold" text-anchor="middle" fill="#111" >60</text>
<path d="M330.8 1035.60H332.8 M330.8 1020.56H332.8 M330.8 1005.52H332.8 M330.8 990.48H332.8 M330.8 975.44H332.8 M330.8 960.40H332.8 M332.80 1035.6V1037.6 M354.54 1035.6V1037.6 M376.28 1035.6V1037.6 M398.02 1035.6V1037.6 M419.76 1035.6V1037.6 M441.50 1035.6V1037.6" stroke="#555" stroke-width="0.5"/>
<text x="391.50" y="1045.00" font-size="5" font-weight="bold" text-anchor="middle" fill="#111" textLength="32.3" lengthAdjust="spacingAndGlyphs" >temperature (°C)</text>
<text transform="translate(323 995) rotate(-90)" font-size="4.8" font-weight="bold" text-anchor="middle" fill="#111" textLength="34" lengthAdjust="spacingAndGlyphs">fraction unfolded</text>
<polyline points="332.80,1031.37 333.89,1031.04 334.97,1030.67 336.06,1030.26 337.15,1029.81 338.24,1029.30 339.32,1028.74 340.41,1028.12 341.50,1027.43 342.58,1026.68 343.67,1025.84 344.76,1024.93 345.84,1023.94 346.93,1022.85 348.02,1021.68 349.11,1020.41 350.19,1019.04 351.28,1017.57 352.37,1016.00 353.45,1014.34 354.54,1012.59 355.63,1010.75 356.71,1008.83 357.80,1006.84 358.89,1004.79 359.98,1002.70 361.06,1000.57 362.15,998.43 363.24,996.28 364.32,994.15 365.41,992.04 366.50,989.97 367.58,987.96 368.67,986.01 369.76,984.14 370.85,982.35 371.93,980.65 373.02,979.05 374.11,977.54 375.19,976.13 376.28,974.82 377.37,973.60 378.45,972.48 379.54,971.45 380.63,970.51 381.72,969.65 382.80,968.86 383.89,968.15 384.98,967.50 386.06,966.92 387.15,966.39 388.24,965.91 389.32,965.49 390.41,965.10 391.50,964.76 392.58,964.45 393.67,964.17 394.76,963.92 395.85,963.70 396.93,963.51 398.02,963.33 399.11,963.17 400.19,963.03 401.28,962.91 402.37,962.80 403.45,962.70 404.54,962.61 405.63,962.53 406.72,962.46 407.80,962.40 408.89,962.34 409.98,962.29 411.06,962.25 412.15,962.21 413.24,962.18 414.32,962.15 415.41,962.12 416.50,962.10 417.59,962.07 418.67,962.06 419.76,962.04 420.85,962.02 421.93,962.01 423.02,962.00 424.11,961.99 425.19,961.98 426.28,961.97 427.37,961.96 428.46,961.96 429.54,961.95 430.63,961.94 431.72,961.94 432.80,961.94 433.89,961.93 434.98,961.93 436.06,961.93 437.15,961.92 438.24,961.92 439.33,961.92 440.41,961.92 441.50,961.92" fill="none" stroke="#f7891f" stroke-width="1.2"/>
<circle cx="332.80" cy="1032.29" r="0.9" fill="#f7891f"/>
<circle cx="334.97" cy="1031.20" r="0.9" fill="#f7891f"/>
<circle cx="337.15" cy="1028.75" r="0.9" fill="#f7891f"/>
<circle cx="339.32" cy="1028.49" r="0.9" fill="#f7891f"/>
<circle cx="341.50" cy="1028.55" r="0.9" fill="#f7891f"/>
<circle cx="343.67" cy="1025.81" r="0.9" fill="#f7891f"/>
<circle cx="345.84" cy="1022.83" r="0.9" fill="#f7891f"/>
<circle cx="348.02" cy="1022.00" r="0.9" fill="#f7891f"/>
<circle cx="350.19" cy="1020.07" r="0.9" fill="#f7891f"/>
<circle cx="352.37" cy="1015.41" r="0.9" fill="#f7891f"/>
<circle cx="354.54" cy="1011.71" r="0.9" fill="#f7891f"/>
<circle cx="356.71" cy="1009.65" r="0.9" fill="#f7891f"/>
<circle cx="358.89" cy="1005.46" r="0.9" fill="#f7891f"/>
<circle cx="361.06" cy="999.59" r="0.9" fill="#f7891f"/>
<circle cx="363.24" cy="995.87" r="0.9" fill="#f7891f"/>
<circle cx="365.41" cy="993.13" r="0.9" fill="#f7891f"/>
<circle cx="367.58" cy="988.09" r="0.9" fill="#f7891f"/>
<circle cx="369.76" cy="983.01" r="0.9" fill="#f7891f"/>
<circle cx="371.93" cy="980.81" r="0.9" fill="#f7891f"/>
<circle cx="374.11" cy="978.63" r="0.9" fill="#f7891f"/>
<circle cx="376.28" cy="974.38" r="0.9" fill="#f7891f"/>
<circle cx="378.45" cy="971.51" r="0.9" fill="#f7891f"/>
<circle cx="380.63" cy="971.20" r="0.9" fill="#f7891f"/>
<circle cx="382.80" cy="969.66" r="0.9" fill="#f7891f"/>
<circle cx="384.98" cy="966.61" r="0.9" fill="#f7891f"/>
<circle cx="387.15" cy="965.83" r="0.9" fill="#f7891f"/>
<circle cx="389.32" cy="966.53" r="0.9" fill="#f7891f"/>
<circle cx="391.50" cy="965.05" r="0.9" fill="#f7891f"/>
<circle cx="393.67" cy="963.05" r="0.9" fill="#f7891f"/>
<circle cx="395.85" cy="963.70" r="0.9" fill="#f7891f"/>
<circle cx="398.02" cy="964.45" r="0.9" fill="#f7891f"/>
<circle cx="400.19" cy="962.75" r="0.9" fill="#f7891f"/>
<circle cx="402.37" cy="961.75" r="0.9" fill="#f7891f"/>
<circle cx="404.54" cy="963.16" r="0.9" fill="#f7891f"/>
<circle cx="406.72" cy="963.37" r="0.9" fill="#f7891f"/>
<circle cx="408.89" cy="961.56" r="0.9" fill="#f7891f"/>
<circle cx="411.06" cy="961.55" r="0.9" fill="#f7891f"/>
<circle cx="413.24" cy="963.14" r="0.9" fill="#f7891f"/>
<circle cx="415.41" cy="962.57" r="0.9" fill="#f7891f"/>
<circle cx="417.59" cy="960.99" r="0.9" fill="#f7891f"/>
<circle cx="419.76" cy="961.86" r="0.9" fill="#f7891f"/>
<circle cx="421.93" cy="963.14" r="0.9" fill="#f7891f"/>
<circle cx="424.11" cy="961.87" r="0.9" fill="#f7891f"/>
<circle cx="426.28" cy="960.87" r="0.9" fill="#f7891f"/>
<circle cx="428.46" cy="962.35" r="0.9" fill="#f7891f"/>
<circle cx="430.63" cy="962.94" r="0.9" fill="#f7891f"/>
<circle cx="432.80" cy="961.28" r="0.9" fill="#f7891f"/>
<circle cx="434.98" cy="961.10" r="0.9" fill="#f7891f"/>
<circle cx="437.15" cy="962.79" r="0.9" fill="#f7891f"/>
<circle cx="439.33" cy="962.52" r="0.9" fill="#f7891f"/>
<circle cx="441.50" cy="960.89" r="0.9" fill="#f7891f"/>
<polyline points="332.80,1033.96 333.89,1033.93 334.97,1033.91 336.06,1033.87 337.15,1033.84 338.24,1033.79 339.32,1033.74 340.41,1033.68 341.50,1033.61 342.58,1033.53 343.67,1033.44 344.76,1033.33 345.84,1033.20 346.93,1033.05 348.02,1032.87 349.11,1032.67 350.19,1032.44 351.28,1032.16 352.37,1031.85 353.45,1031.48 354.54,1031.06 355.63,1030.57 356.71,1030.01 357.80,1029.36 358.89,1028.62 359.98,1027.77 361.06,1026.81 362.15,1025.72 363.24,1024.50 364.32,1023.12 365.41,1021.59 366.50,1019.89 367.58,1018.02 368.67,1015.98 369.76,1013.78 370.85,1011.42 371.93,1008.93 373.02,1006.31 374.11,1003.59 375.19,1000.81 376.28,998.00 377.37,995.19 378.45,992.41 379.54,989.69 380.63,987.07 381.72,984.58 382.80,982.22 383.89,980.02 384.98,977.98 386.06,976.11 387.15,974.41 388.24,972.88 389.32,971.50 390.41,970.28 391.50,969.19 392.58,968.23 393.67,967.38 394.76,966.64 395.85,965.99 396.93,965.43 398.02,964.94 399.11,964.52 400.19,964.15 401.28,963.84 402.37,963.56 403.45,963.33 404.54,963.13 405.63,962.95 406.72,962.80 407.80,962.67 408.89,962.56 409.98,962.47 411.06,962.39 412.15,962.32 413.24,962.26 414.32,962.21 415.41,962.16 416.50,962.13 417.59,962.09 418.67,962.07 419.76,962.04 420.85,962.02 421.93,962.01 423.02,961.99 424.11,961.98 425.19,961.97 426.28,961.96 427.37,961.95 428.46,961.94 429.54,961.94 430.63,961.93 431.72,961.93 432.80,961.93 433.89,961.92 434.98,961.92 436.06,961.92 437.15,961.92 438.24,961.91 439.33,961.91 440.41,961.91 441.50,961.91" fill="none" stroke="#f6a25a" stroke-width="1.2" stroke-dasharray="3 1.5"/>
<circle cx="332.80" cy="1033.00" r="0.9" fill="#f6a25a"/>
<circle cx="334.97" cy="1033.44" r="0.9" fill="#f6a25a"/>
<circle cx="337.15" cy="1034.92" r="0.9" fill="#f6a25a"/>
<circle cx="339.32" cy="1033.93" r="0.9" fill="#f6a25a"/>
<circle cx="341.50" cy="1032.49" r="0.9" fill="#f6a25a"/>
<circle cx="343.67" cy="1033.54" r="0.9" fill="#f6a25a"/>
<circle cx="345.84" cy="1034.30" r="0.9" fill="#f6a25a"/>
<circle cx="348.02" cy="1032.49" r="0.9" fill="#f6a25a"/>
<circle cx="350.19" cy="1031.44" r="0.9" fill="#f6a25a"/>
<circle cx="352.37" cy="1032.49" r="0.9" fill="#f6a25a"/>
<circle cx="354.54" cy="1031.89" r="0.9" fill="#f6a25a"/>
<circle cx="356.71" cy="1029.15" r="0.9" fill="#f6a25a"/>
<circle cx="358.89" cy="1028.01" r="0.9" fill="#f6a25a"/>
<circle cx="361.06" cy="1027.83" r="0.9" fill="#f6a25a"/>
<circle cx="363.24" cy="1024.85" r="0.9" fill="#f6a25a"/>
<circle cx="365.41" cy="1020.48" r="0.9" fill="#f6a25a"/>
<circle cx="367.58" cy="1017.95" r="0.9" fill="#f6a25a"/>
<circle cx="369.76" cy="1014.91" r="0.9" fill="#f6a25a"/>
<circle cx="371.93" cy="1008.70" r="0.9" fill="#f6a25a"/>
<circle cx="374.11" cy="1002.53" r="0.9" fill="#f6a25a"/>
<circle cx="376.28" cy="998.50" r="0.9" fill="#f6a25a"/>
<circle cx="378.45" cy="993.34" r="0.9" fill="#f6a25a"/>
<circle cx="380.63" cy="986.33" r="0.9" fill="#f6a25a"/>
<circle cx="382.80" cy="981.47" r="0.9" fill="#f6a25a"/>
<circle cx="384.98" cy="978.92" r="0.9" fill="#f6a25a"/>
<circle cx="387.15" cy="974.92" r="0.9" fill="#f6a25a"/>
<circle cx="389.32" cy="970.44" r="0.9" fill="#f6a25a"/>
<circle cx="391.50" cy="968.96" r="0.9" fill="#f6a25a"/>
<circle cx="393.67" cy="968.51" r="0.9" fill="#f6a25a"/>
<circle cx="395.85" cy="965.93" r="0.9" fill="#f6a25a"/>
<circle cx="398.02" cy="963.83" r="0.9" fill="#f6a25a"/>
<circle cx="400.19" cy="964.50" r="0.9" fill="#f6a25a"/>
<circle cx="402.37" cy="964.58" r="0.9" fill="#f6a25a"/>
<circle cx="404.54" cy="962.52" r="0.9" fill="#f6a25a"/>
<circle cx="406.72" cy="961.94" r="0.9" fill="#f6a25a"/>
<circle cx="408.89" cy="963.39" r="0.9" fill="#f6a25a"/>
<circle cx="411.06" cy="963.04" r="0.9" fill="#f6a25a"/>
<circle cx="413.24" cy="961.26" r="0.9" fill="#f6a25a"/>
<circle cx="415.41" cy="961.77" r="0.9" fill="#f6a25a"/>
<circle cx="417.59" cy="963.19" r="0.9" fill="#f6a25a"/>
<circle cx="419.76" cy="962.15" r="0.9" fill="#f6a25a"/>
<circle cx="421.93" cy="960.88" r="0.9" fill="#f6a25a"/>
<circle cx="424.11" cy="962.16" r="0.9" fill="#f6a25a"/>
<circle cx="426.28" cy="963.04" r="0.9" fill="#f6a25a"/>
<circle cx="428.46" cy="961.48" r="0.9" fill="#f6a25a"/>
<circle cx="430.63" cy="960.97" r="0.9" fill="#f6a25a"/>
<circle cx="432.80" cy="962.63" r="0.9" fill="#f6a25a"/>
<circle cx="434.98" cy="962.70" r="0.9" fill="#f6a25a"/>
<circle cx="437.15" cy="961.01" r="0.9" fill="#f6a25a"/>
<circle cx="439.33" cy="961.37" r="0.9" fill="#f6a25a"/>
<circle cx="441.50" cy="962.96" r="0.9" fill="#f6a25a"/>
<polyline points="332.80,1034.07 333.89,1034.06 334.97,1034.06 336.06,1034.05 337.15,1034.04 338.24,1034.03 339.32,1034.01 340.41,1033.99 341.50,1033.97 342.58,1033.95 343.67,1033.92 344.76,1033.88 345.84,1033.84 346.93,1033.79 348.02,1033.72 349.11,1033.65 350.19,1033.56 351.28,1033.45 352.37,1033.32 353.45,1033.16 354.54,1032.97 355.63,1032.75 356.71,1032.48 357.80,1032.16 358.89,1031.78 359.98,1031.33 361.06,1030.79 362.15,1030.16 363.24,1029.41 364.32,1028.53 365.41,1027.50 366.50,1026.30 367.58,1024.91 368.67,1023.32 369.76,1021.51 370.85,1019.47 371.93,1017.19 373.02,1014.68 374.11,1011.94 375.19,1009.00 376.28,1005.89 377.37,1002.65 378.45,999.34 379.54,996.00 380.63,992.69 381.72,989.47 382.80,986.39 383.89,983.49 384.98,980.80 386.06,978.33 387.15,976.10 388.24,974.11 389.32,972.34 390.41,970.79 391.50,969.45 392.58,968.29 393.67,967.29 394.76,966.43 395.85,965.71 396.93,965.09 398.02,964.57 399.11,964.14 400.19,963.77 401.28,963.46 402.37,963.20 403.45,962.99 404.54,962.81 405.63,962.65 406.72,962.53 407.80,962.42 408.89,962.34 409.98,962.26 411.06,962.20 412.15,962.15 413.24,962.11 414.32,962.08 415.41,962.05 416.50,962.02 417.59,962.00 418.67,961.99 419.76,961.97 420.85,961.96 421.93,961.95 423.02,961.94 424.11,961.94 425.19,961.93 426.28,961.93 427.37,961.92 428.46,961.92 429.54,961.92 430.63,961.91 431.72,961.91 432.80,961.91 433.89,961.91 434.98,961.91 436.06,961.91 437.15,961.91 438.24,961.91 439.33,961.91 440.41,961.91 441.50,961.91" fill="none" stroke="#4b2c84" stroke-width="1.2"/>
<circle cx="332.80" cy="1032.94" r="0.9" fill="#4b2c84"/>
<circle cx="334.97" cy="1034.25" r="0.9" fill="#4b2c84"/>
<circle cx="337.15" cy="1035.11" r="0.9" fill="#4b2c84"/>
<circle cx="339.32" cy="1033.54" r="0.9" fill="#4b2c84"/>
<circle cx="341.50" cy="1033.02" r="0.9" fill="#4b2c84"/>
<circle cx="343.67" cy="1034.64" r="0.9" fill="#4b2c84"/>
<circle cx="345.84" cy="1034.61" r="0.9" fill="#4b2c84"/>
<circle cx="348.02" cy="1032.80" r="0.9" fill="#4b2c84"/>
<circle cx="350.19" cy="1033.03" r="0.9" fill="#4b2c84"/>
<circle cx="352.37" cy="1034.37" r="0.9" fill="#4b2c84"/>
<circle cx="354.54" cy="1033.23" r="0.9" fill="#4b2c84"/>
<circle cx="356.71" cy="1031.36" r="0.9" fill="#4b2c84"/>
<circle cx="358.89" cy="1031.81" r="0.9" fill="#4b2c84"/>
<circle cx="361.06" cy="1031.91" r="0.9" fill="#4b2c84"/>
<circle cx="363.24" cy="1029.09" r="0.9" fill="#4b2c84"/>
<circle cx="365.41" cy="1026.46" r="0.9" fill="#4b2c84"/>
<circle cx="367.58" cy="1025.50" r="0.9" fill="#4b2c84"/>
<circle cx="369.76" cy="1022.40" r="0.9" fill="#4b2c84"/>
<circle cx="371.93" cy="1016.38" r="0.9" fill="#4b2c84"/>
<circle cx="374.11" cy="1011.27" r="0.9" fill="#4b2c84"/>
<circle cx="376.28" cy="1006.88" r="0.9" fill="#4b2c84"/>
<circle cx="378.45" cy="999.76" r="0.9" fill="#4b2c84"/>
<circle cx="380.63" cy="991.60" r="0.9" fill="#4b2c84"/>
<circle cx="382.80" cy="986.26" r="0.9" fill="#4b2c84"/>
<circle cx="384.98" cy="981.93" r="0.9" fill="#4b2c84"/>
<circle cx="387.15" cy="975.95" r="0.9" fill="#4b2c84"/>
<circle cx="389.32" cy="971.25" r="0.9" fill="#4b2c84"/>
<circle cx="391.50" cy="969.88" r="0.9" fill="#4b2c84"/>
<circle cx="393.67" cy="968.26" r="0.9" fill="#4b2c84"/>
<circle cx="395.85" cy="965.02" r="0.9" fill="#4b2c84"/>
<circle cx="398.02" cy="963.77" r="0.9" fill="#4b2c84"/>
<circle cx="400.19" cy="964.66" r="0.9" fill="#4b2c84"/>
<circle cx="402.37" cy="963.77" r="0.9" fill="#4b2c84"/>
<circle cx="404.54" cy="961.77" r="0.9" fill="#4b2c84"/>
<circle cx="406.72" cy="962.23" r="0.9" fill="#4b2c84"/>
<circle cx="408.89" cy="963.45" r="0.9" fill="#4b2c84"/>
<circle cx="411.06" cy="962.22" r="0.9" fill="#4b2c84"/>
<circle cx="413.24" cy="960.99" r="0.9" fill="#4b2c84"/>
<circle cx="415.41" cy="962.32" r="0.9" fill="#4b2c84"/>
<circle cx="417.59" cy="963.05" r="0.9" fill="#4b2c84"/>
<circle cx="419.76" cy="961.43" r="0.9" fill="#4b2c84"/>
<circle cx="421.93" cy="961.04" r="0.9" fill="#4b2c84"/>
<circle cx="424.11" cy="962.71" r="0.9" fill="#4b2c84"/>
<circle cx="426.28" cy="962.64" r="0.9" fill="#4b2c84"/>
<circle cx="428.46" cy="960.96" r="0.9" fill="#4b2c84"/>
<circle cx="430.63" cy="961.45" r="0.9" fill="#4b2c84"/>
<circle cx="432.80" cy="962.99" r="0.9" fill="#4b2c84"/>
<circle cx="434.98" cy="962.09" r="0.9" fill="#4b2c84"/>
<circle cx="437.15" cy="960.78" r="0.9" fill="#4b2c84"/>
<circle cx="439.33" cy="962.01" r="0.9" fill="#4b2c84"/>
<circle cx="441.50" cy="963.01" r="0.9" fill="#4b2c84"/>
<polyline points="332.80,1034.04 333.89,1034.03 334.97,1034.02 336.06,1034.00 337.15,1033.99 338.24,1033.97 339.32,1033.95 340.41,1033.92 341.50,1033.89 342.58,1033.86 343.67,1033.82 344.76,1033.77 345.84,1033.72 346.93,1033.66 348.02,1033.58 349.11,1033.50 350.19,1033.40 351.28,1033.28 352.37,1033.14 353.45,1032.98 354.54,1032.80 355.63,1032.58 356.71,1032.33 357.80,1032.04 358.89,1031.71 359.98,1031.32 361.06,1030.87 362.15,1030.35 363.24,1029.76 364.32,1029.08 365.41,1028.29 366.50,1027.40 367.58,1026.39 368.67,1025.25 369.76,1023.96 370.85,1022.53 371.93,1020.93 373.02,1019.16 374.11,1017.22 375.19,1015.12 376.28,1012.86 377.37,1010.44 378.45,1007.89 379.54,1005.23 380.63,1002.49 381.72,999.69 382.80,996.87 383.89,994.07 384.98,991.31 386.06,988.63 387.15,986.06 388.24,983.62 389.32,981.32 390.41,979.18 391.50,977.21 392.58,975.41 393.67,973.78 394.76,972.31 395.85,970.99 396.93,969.82 398.02,968.79 399.11,967.87 400.19,967.07 401.28,966.37 402.37,965.76 403.45,965.23 404.54,964.77 405.63,964.37 406.72,964.02 407.80,963.72 408.89,963.46 409.98,963.24 411.06,963.05 412.15,962.89 413.24,962.75 414.32,962.63 415.41,962.52 416.50,962.43 417.59,962.36 418.67,962.29 419.76,962.24 420.85,962.19 421.93,962.15 423.02,962.11 424.11,962.08 425.19,962.06 426.28,962.03 427.37,962.02 428.46,962.00 429.54,961.99 430.63,961.97 431.72,961.96 432.80,961.96 433.89,961.95 434.98,961.94 436.06,961.94 437.15,961.93 438.24,961.93 439.33,961.92 440.41,961.92 441.50,961.92" fill="none" stroke="#5a3a9a" stroke-width="1.2" stroke-dasharray="3 1.5"/>
<circle cx="332.80" cy="1033.29" r="0.9" fill="#5a3a9a"/>
<circle cx="334.97" cy="1034.95" r="0.9" fill="#5a3a9a"/>
<circle cx="337.15" cy="1034.49" r="0.9" fill="#5a3a9a"/>
<circle cx="339.32" cy="1032.88" r="0.9" fill="#5a3a9a"/>
<circle cx="341.50" cy="1033.66" r="0.9" fill="#5a3a9a"/>
<circle cx="343.67" cy="1034.94" r="0.9" fill="#5a3a9a"/>
<circle cx="345.84" cy="1033.66" r="0.9" fill="#5a3a9a"/>
<circle cx="348.02" cy="1032.47" r="0.9" fill="#5a3a9a"/>
<circle cx="350.19" cy="1033.74" r="0.9" fill="#5a3a9a"/>
<circle cx="352.37" cy="1034.16" r="0.9" fill="#5a3a9a"/>
<circle cx="354.54" cy="1032.19" r="0.9" fill="#5a3a9a"/>
<circle cx="356.71" cy="1031.47" r="0.9" fill="#5a3a9a"/>
<circle cx="358.89" cy="1032.54" r="0.9" fill="#5a3a9a"/>
<circle cx="361.06" cy="1031.52" r="0.9" fill="#5a3a9a"/>
<circle cx="363.24" cy="1028.76" r="0.9" fill="#5a3a9a"/>
<circle cx="365.41" cy="1027.90" r="0.9" fill="#5a3a9a"/>
<circle cx="367.58" cy="1027.49" r="0.9" fill="#5a3a9a"/>
<circle cx="369.76" cy="1024.08" r="0.9" fill="#5a3a9a"/>
<circle cx="371.93" cy="1019.80" r="0.9" fill="#5a3a9a"/>
<circle cx="374.11" cy="1017.40" r="0.9" fill="#5a3a9a"/>
<circle cx="376.28" cy="1013.94" r="0.9" fill="#5a3a9a"/>
<circle cx="378.45" cy="1007.43" r="0.9" fill="#5a3a9a"/>
<circle cx="380.63" cy="1001.53" r="0.9" fill="#5a3a9a"/>
<circle cx="382.80" cy="997.58" r="0.9" fill="#5a3a9a"/>
<circle cx="384.98" cy="992.09" r="0.9" fill="#5a3a9a"/>
<circle cx="387.15" cy="985.15" r="0.9" fill="#5a3a9a"/>
<circle cx="389.32" cy="980.77" r="0.9" fill="#5a3a9a"/>
<circle cx="391.50" cy="978.26" r="0.9" fill="#5a3a9a"/>
<circle cx="393.67" cy="974.06" r="0.9" fill="#5a3a9a"/>
<circle cx="395.85" cy="969.87" r="0.9" fill="#5a3a9a"/>
<circle cx="398.02" cy="968.80" r="0.9" fill="#5a3a9a"/>
<circle cx="400.19" cy="968.19" r="0.9" fill="#5a3a9a"/>
<circle cx="402.37" cy="965.46" r="0.9" fill="#5a3a9a"/>
<circle cx="404.54" cy="963.73" r="0.9" fill="#5a3a9a"/>
<circle cx="406.72" cy="964.59" r="0.9" fill="#5a3a9a"/>
<circle cx="408.89" cy="964.36" r="0.9" fill="#5a3a9a"/>
<circle cx="411.06" cy="962.25" r="0.9" fill="#5a3a9a"/>
<circle cx="413.24" cy="962.06" r="0.9" fill="#5a3a9a"/>
<circle cx="415.41" cy="963.50" r="0.9" fill="#5a3a9a"/>
<circle cx="417.59" cy="962.79" r="0.9" fill="#5a3a9a"/>
<circle cx="419.76" cy="961.15" r="0.9" fill="#5a3a9a"/>
<circle cx="421.93" cy="961.99" r="0.9" fill="#5a3a9a"/>
<circle cx="424.11" cy="963.21" r="0.9" fill="#5a3a9a"/>
<circle cx="426.28" cy="961.90" r="0.9" fill="#5a3a9a"/>
<circle cx="428.46" cy="960.91" r="0.9" fill="#5a3a9a"/>
<circle cx="430.63" cy="962.39" r="0.9" fill="#5a3a9a"/>
<circle cx="432.80" cy="962.94" r="0.9" fill="#5a3a9a"/>
<circle cx="434.98" cy="961.27" r="0.9" fill="#5a3a9a"/>
<circle cx="437.15" cy="961.12" r="0.9" fill="#5a3a9a"/>
<circle cx="439.33" cy="962.80" r="0.9" fill="#5a3a9a"/>
<circle cx="441.50" cy="962.51" r="0.9" fill="#5a3a9a"/>
<polyline points="332.80,1034.02 333.89,1034.01 334.97,1034.00 336.06,1033.98 337.15,1033.97 338.24,1033.95 339.32,1033.93 340.41,1033.90 341.50,1033.88 342.58,1033.84 343.67,1033.81 344.76,1033.77 345.84,1033.72 346.93,1033.67 348.02,1033.61 349.11,1033.55 350.19,1033.47 351.28,1033.38 352.37,1033.28 353.45,1033.17 354.54,1033.04 355.63,1032.89 356.71,1032.73 357.80,1032.54 358.89,1032.33 359.98,1032.09 361.06,1031.81 362.15,1031.50 363.24,1031.15 364.32,1030.76 365.41,1030.31 366.50,1029.81 367.58,1029.25 368.67,1028.62 369.76,1027.92 370.85,1027.13 371.93,1026.26 373.02,1025.29 374.11,1024.22 375.19,1023.04 376.28,1021.76 377.37,1020.35 378.45,1018.83 379.54,1017.18 380.63,1015.42 381.72,1013.54 382.80,1011.55 383.89,1009.46 384.98,1007.29 386.06,1005.03 387.15,1002.72 388.24,1000.37 389.32,998.00 390.41,995.63 391.50,993.28 392.58,990.97 393.67,988.71 394.76,986.54 395.85,984.45 396.93,982.46 398.02,980.58 399.11,978.82 400.19,977.17 401.28,975.65 402.37,974.24 403.45,972.96 404.54,971.78 405.63,970.71 406.72,969.74 407.80,968.87 408.89,968.08 409.98,967.38 411.06,966.75 412.15,966.19 413.24,965.69 414.32,965.24 415.41,964.85 416.50,964.50 417.59,964.19 418.67,963.91 419.76,963.67 420.85,963.46 421.93,963.27 423.02,963.11 424.11,962.96 425.19,962.83 426.28,962.72 427.37,962.62 428.46,962.53 429.54,962.45 430.63,962.39 431.72,962.33 432.80,962.28 433.89,962.23 434.98,962.19 436.06,962.16 437.15,962.12 438.24,962.10 439.33,962.07 440.41,962.05 441.50,962.03" fill="none" stroke="#2a2a6a" stroke-width="1.2"/>
<circle cx="332.80" cy="1034.89" r="0.9" fill="#2a2a6a"/>
<circle cx="334.97" cy="1034.60" r="0.9" fill="#2a2a6a"/>
<circle cx="337.15" cy="1032.94" r="0.9" fill="#2a2a6a"/>
<circle cx="339.32" cy="1033.59" r="0.9" fill="#2a2a6a"/>
<circle cx="341.50" cy="1034.99" r="0.9" fill="#2a2a6a"/>
<circle cx="343.67" cy="1033.86" r="0.9" fill="#2a2a6a"/>
<circle cx="345.84" cy="1032.60" r="0.9" fill="#2a2a6a"/>
<circle cx="348.02" cy="1033.85" r="0.9" fill="#2a2a6a"/>
<circle cx="350.19" cy="1034.53" r="0.9" fill="#2a2a6a"/>
<circle cx="352.37" cy="1032.77" r="0.9" fill="#2a2a6a"/>
<circle cx="354.54" cy="1032.11" r="0.9" fill="#2a2a6a"/>
<circle cx="356.71" cy="1033.48" r="0.9" fill="#2a2a6a"/>
<circle cx="358.89" cy="1033.07" r="0.9" fill="#2a2a6a"/>
<circle cx="361.06" cy="1030.87" r="0.9" fill="#2a2a6a"/>
<circle cx="363.24" cy="1030.65" r="0.9" fill="#2a2a6a"/>
<circle cx="365.41" cy="1031.38" r="0.9" fill="#2a2a6a"/>
<circle cx="367.58" cy="1029.47" r="0.9" fill="#2a2a6a"/>
<circle cx="369.76" cy="1026.79" r="0.9" fill="#2a2a6a"/>
<circle cx="371.93" cy="1026.32" r="0.9" fill="#2a2a6a"/>
<circle cx="374.11" cy="1025.33" r="0.9" fill="#2a2a6a"/>
<circle cx="376.28" cy="1021.40" r="0.9" fill="#2a2a6a"/>
<circle cx="378.45" cy="1017.81" r="0.9" fill="#2a2a6a"/>
<circle cx="380.63" cy="1016.03" r="0.9" fill="#2a2a6a"/>
<circle cx="382.80" cy="1012.41" r="0.9" fill="#2a2a6a"/>
<circle cx="384.98" cy="1006.45" r="0.9" fill="#2a2a6a"/>
<circle cx="387.15" cy="1002.08" r="0.9" fill="#2a2a6a"/>
<circle cx="389.32" cy="999.00" r="0.9" fill="#2a2a6a"/>
<circle cx="391.50" cy="993.66" r="0.9" fill="#2a2a6a"/>
<circle cx="393.67" cy="987.61" r="0.9" fill="#2a2a6a"/>
<circle cx="395.85" cy="984.35" r="0.9" fill="#2a2a6a"/>
<circle cx="398.02" cy="981.71" r="0.9" fill="#2a2a6a"/>
<circle cx="400.19" cy="976.98" r="0.9" fill="#2a2a6a"/>
<circle cx="402.37" cy="973.17" r="0.9" fill="#2a2a6a"/>
<circle cx="404.54" cy="972.25" r="0.9" fill="#2a2a6a"/>
<circle cx="406.72" cy="970.70" r="0.9" fill="#2a2a6a"/>
<circle cx="408.89" cy="967.37" r="0.9" fill="#2a2a6a"/>
<circle cx="411.06" cy="965.98" r="0.9" fill="#2a2a6a"/>
<circle cx="413.24" cy="966.60" r="0.9" fill="#2a2a6a"/>
<circle cx="415.41" cy="965.39" r="0.9" fill="#2a2a6a"/>
<circle cx="417.59" cy="963.14" r="0.9" fill="#2a2a6a"/>
<circle cx="419.76" cy="963.41" r="0.9" fill="#2a2a6a"/>
<circle cx="421.93" cy="964.39" r="0.9" fill="#2a2a6a"/>
<circle cx="424.11" cy="962.94" r="0.9" fill="#2a2a6a"/>
<circle cx="426.28" cy="961.60" r="0.9" fill="#2a2a6a"/>
<circle cx="428.46" cy="962.84" r="0.9" fill="#2a2a6a"/>
<circle cx="430.63" cy="963.42" r="0.9" fill="#2a2a6a"/>
<circle cx="432.80" cy="961.70" r="0.9" fill="#2a2a6a"/>
<circle cx="434.98" cy="961.30" r="0.9" fill="#2a2a6a"/>
<circle cx="437.15" cy="962.93" r="0.9" fill="#2a2a6a"/>
<circle cx="439.33" cy="962.75" r="0.9" fill="#2a2a6a"/>
<circle cx="441.50" cy="961.05" r="0.9" fill="#2a2a6a"/>
<polyline points="332.80,1034.03 333.89,1034.02 334.97,1034.01 336.06,1034.00 337.15,1033.98 338.24,1033.97 339.32,1033.95 340.41,1033.93 341.50,1033.91 342.58,1033.88 343.67,1033.85 344.76,1033.82 345.84,1033.78 346.93,1033.73 348.02,1033.68 349.11,1033.63 350.19,1033.56 351.28,1033.48 352.37,1033.40 353.45,1033.30 354.54,1033.19 355.63,1033.07 356.71,1032.93 357.80,1032.76 358.89,1032.58 359.98,1032.37 361.06,1032.14 362.15,1031.87 363.24,1031.57 364.32,1031.23 365.41,1030.84 366.50,1030.41 367.58,1029.92 368.67,1029.37 369.76,1028.75 370.85,1028.06 371.93,1027.29 373.02,1026.44 374.11,1025.49 375.19,1024.44 376.28,1023.29 377.37,1022.02 378.45,1020.64 379.54,1019.14 380.63,1017.52 381.72,1015.78 382.80,1013.92 383.89,1011.96 384.98,1009.89 386.06,1007.73 387.15,1005.49 388.24,1003.19 389.32,1000.84 390.41,998.47 391.50,996.10 392.58,993.75 393.67,991.42 394.76,989.16 395.85,986.97 396.93,984.86 398.02,982.85 399.11,980.95 400.19,979.16 401.28,977.49 402.37,975.95 403.45,974.52 404.54,973.20 405.63,972.01 406.72,970.92 407.80,969.93 408.89,969.04 409.98,968.23 411.06,967.52 412.15,966.87 413.24,966.30 414.32,965.78 415.41,965.33 416.50,964.92 417.59,964.56 418.67,964.25 419.76,963.97 420.85,963.72 421.93,963.50 423.02,963.31 424.11,963.14 425.19,962.99 426.28,962.86 427.37,962.74 428.46,962.64 429.54,962.55 430.63,962.47 431.72,962.40 432.80,962.34 433.89,962.29 434.98,962.24 436.06,962.20 437.15,962.16 438.24,962.13 439.33,962.10 440.41,962.08 441.50,962.06" fill="none" stroke="#3a2a7a" stroke-width="1.2" stroke-dasharray="3 1.5"/>
<circle cx="332.80" cy="1035.07" r="0.9" fill="#3a2a7a"/>
<circle cx="334.97" cy="1034.31" r="0.9" fill="#3a2a7a"/>
<circle cx="337.15" cy="1032.87" r="0.9" fill="#3a2a7a"/>
<circle cx="339.32" cy="1033.94" r="0.9" fill="#3a2a7a"/>
<circle cx="341.50" cy="1035.03" r="0.9" fill="#3a2a7a"/>
<circle cx="343.67" cy="1033.57" r="0.9" fill="#3a2a7a"/>
<circle cx="345.84" cy="1032.73" r="0.9" fill="#3a2a7a"/>
<circle cx="348.02" cy="1034.23" r="0.9" fill="#3a2a7a"/>
<circle cx="350.19" cy="1034.47" r="0.9" fill="#3a2a7a"/>
<circle cx="352.37" cy="1032.62" r="0.9" fill="#3a2a7a"/>
<circle cx="354.54" cy="1032.49" r="0.9" fill="#3a2a7a"/>
<circle cx="356.71" cy="1033.89" r="0.9" fill="#3a2a7a"/>
<circle cx="358.89" cy="1033.03" r="0.9" fill="#3a2a7a"/>
<circle cx="361.06" cy="1031.05" r="0.9" fill="#3a2a7a"/>
<circle cx="363.24" cy="1031.39" r="0.9" fill="#3a2a7a"/>
<circle cx="365.41" cy="1031.97" r="0.9" fill="#3a2a7a"/>
<circle cx="367.58" cy="1029.80" r="0.9" fill="#3a2a7a"/>
<circle cx="369.76" cy="1027.65" r="0.9" fill="#3a2a7a"/>
<circle cx="371.93" cy="1027.69" r="0.9" fill="#3a2a7a"/>
<circle cx="374.11" cy="1026.49" r="0.9" fill="#3a2a7a"/>
<circle cx="376.28" cy="1022.63" r="0.9" fill="#3a2a7a"/>
<circle cx="378.45" cy="1019.81" r="0.9" fill="#3a2a7a"/>
<circle cx="380.63" cy="1018.39" r="0.9" fill="#3a2a7a"/>
<circle cx="382.80" cy="1014.53" r="0.9" fill="#3a2a7a"/>
<circle cx="384.98" cy="1008.87" r="0.9" fill="#3a2a7a"/>
<circle cx="387.15" cy="1005.15" r="0.9" fill="#3a2a7a"/>
<circle cx="389.32" cy="1001.95" r="0.9" fill="#3a2a7a"/>
<circle cx="391.50" cy="996.16" r="0.9" fill="#3a2a7a"/>
<circle cx="393.67" cy="990.30" r="0.9" fill="#3a2a7a"/>
<circle cx="395.85" cy="987.20" r="0.9" fill="#3a2a7a"/>
<circle cx="398.02" cy="983.91" r="0.9" fill="#3a2a7a"/>
<circle cx="400.19" cy="978.65" r="0.9" fill="#3a2a7a"/>
<circle cx="402.37" cy="975.01" r="0.9" fill="#3a2a7a"/>
<circle cx="404.54" cy="973.95" r="0.9" fill="#3a2a7a"/>
<circle cx="406.72" cy="971.66" r="0.9" fill="#3a2a7a"/>
<circle cx="408.89" cy="968.10" r="0.9" fill="#3a2a7a"/>
<circle cx="411.06" cy="967.02" r="0.9" fill="#3a2a7a"/>
<circle cx="413.24" cy="967.36" r="0.9" fill="#3a2a7a"/>
<circle cx="415.41" cy="965.55" r="0.9" fill="#3a2a7a"/>
<circle cx="417.59" cy="963.44" r="0.9" fill="#3a2a7a"/>
<circle cx="419.76" cy="964.04" r="0.9" fill="#3a2a7a"/>
<circle cx="421.93" cy="964.61" r="0.9" fill="#3a2a7a"/>
<circle cx="424.11" cy="962.78" r="0.9" fill="#3a2a7a"/>
<circle cx="426.28" cy="961.84" r="0.9" fill="#3a2a7a"/>
<circle cx="428.46" cy="963.25" r="0.9" fill="#3a2a7a"/>
<circle cx="430.63" cy="963.33" r="0.9" fill="#3a2a7a"/>
<circle cx="432.80" cy="961.50" r="0.9" fill="#3a2a7a"/>
<circle cx="434.98" cy="961.60" r="0.9" fill="#3a2a7a"/>
<circle cx="437.15" cy="963.16" r="0.9" fill="#3a2a7a"/>
<circle cx="439.33" cy="962.49" r="0.9" fill="#3a2a7a"/>
<circle cx="441.50" cy="960.96" r="0.9" fill="#3a2a7a"/>
<polyline points="332.80,1034.04 333.89,1034.03 334.97,1034.02 336.06,1034.01 337.15,1034.00 338.24,1033.98 339.32,1033.97 340.41,1033.95 341.50,1033.93 342.58,1033.90 343.67,1033.88 344.76,1033.84 345.84,1033.81 346.93,1033.77 348.02,1033.72 349.11,1033.67 350.19,1033.61 351.28,1033.55 352.37,1033.47 353.45,1033.38 354.54,1033.28 355.63,1033.17 356.71,1033.04 357.80,1032.89 358.89,1032.73 359.98,1032.54 361.06,1032.33 362.15,1032.09 363.24,1031.81 364.32,1031.50 365.41,1031.15 366.50,1030.76 367.58,1030.31 368.67,1029.81 369.76,1029.25 370.85,1028.62 371.93,1027.92 373.02,1027.13 374.11,1026.26 375.19,1025.29 376.28,1024.22 377.37,1023.04 378.45,1021.76 379.54,1020.35 380.63,1018.83 381.72,1017.18 382.80,1015.42 383.89,1013.54 384.98,1011.55 386.06,1009.46 387.15,1007.29 388.24,1005.03 389.32,1002.72 390.41,1000.37 391.50,998.00 392.58,995.63 393.67,993.28 394.76,990.97 395.85,988.71 396.93,986.54 398.02,984.45 399.11,982.46 400.19,980.58 401.28,978.82 402.37,977.17 403.45,975.65 404.54,974.24 405.63,972.96 406.72,971.78 407.80,970.71 408.89,969.74 409.98,968.87 411.06,968.08 412.15,967.38 413.24,966.75 414.32,966.19 415.41,965.69 416.50,965.24 417.59,964.85 418.67,964.50 419.76,964.19 420.85,963.91 421.93,963.67 423.02,963.46 424.11,963.27 425.19,963.11 426.28,962.96 427.37,962.83 428.46,962.72 429.54,962.62 430.63,962.53 431.72,962.45 432.80,962.39 433.89,962.33 434.98,962.28 436.06,962.23 437.15,962.19 438.24,962.16 439.33,962.12 440.41,962.10 441.50,962.07" fill="none" stroke="#128a86" stroke-width="1.2"/>
<circle cx="332.80" cy="1035.14" r="0.9" fill="#128a86"/>
<circle cx="334.97" cy="1034.09" r="0.9" fill="#128a86"/>
<circle cx="337.15" cy="1032.87" r="0.9" fill="#128a86"/>
<circle cx="339.32" cy="1034.18" r="0.9" fill="#128a86"/>
<circle cx="341.50" cy="1035.00" r="0.9" fill="#128a86"/>
<circle cx="343.67" cy="1033.38" r="0.9" fill="#128a86"/>
<circle cx="345.84" cy="1032.87" r="0.9" fill="#128a86"/>
<circle cx="348.02" cy="1034.46" r="0.9" fill="#128a86"/>
<circle cx="350.19" cy="1034.37" r="0.9" fill="#128a86"/>
<circle cx="352.37" cy="1032.54" r="0.9" fill="#128a86"/>
<circle cx="354.54" cy="1032.77" r="0.9" fill="#128a86"/>
<circle cx="356.71" cy="1034.10" r="0.9" fill="#128a86"/>
<circle cx="358.89" cy="1032.97" r="0.9" fill="#128a86"/>
<circle cx="361.06" cy="1031.20" r="0.9" fill="#128a86"/>
<circle cx="363.24" cy="1031.86" r="0.9" fill="#128a86"/>
<circle cx="365.41" cy="1032.26" r="0.9" fill="#128a86"/>
<circle cx="367.58" cy="1029.98" r="0.9" fill="#128a86"/>
<circle cx="369.76" cy="1028.22" r="0.9" fill="#128a86"/>
<circle cx="371.93" cy="1028.51" r="0.9" fill="#128a86"/>
<circle cx="374.11" cy="1027.13" r="0.9" fill="#128a86"/>
<circle cx="376.28" cy="1023.40" r="0.9" fill="#128a86"/>
<circle cx="378.45" cy="1021.10" r="0.9" fill="#128a86"/>
<circle cx="380.63" cy="1019.82" r="0.9" fill="#128a86"/>
<circle cx="382.80" cy="1015.82" r="0.9" fill="#128a86"/>
<circle cx="384.98" cy="1010.45" r="0.9" fill="#128a86"/>
<circle cx="387.15" cy="1007.17" r="0.9" fill="#128a86"/>
<circle cx="389.32" cy="1003.85" r="0.9" fill="#128a86"/>
<circle cx="391.50" cy="997.83" r="0.9" fill="#128a86"/>
<circle cx="393.67" cy="992.19" r="0.9" fill="#128a86"/>
<circle cx="395.85" cy="989.16" r="0.9" fill="#128a86"/>
<circle cx="398.02" cy="985.42" r="0.9" fill="#128a86"/>
<circle cx="400.19" cy="979.88" r="0.9" fill="#128a86"/>
<circle cx="402.37" cy="976.39" r="0.9" fill="#128a86"/>
<circle cx="404.54" cy="975.15" r="0.9" fill="#128a86"/>
<circle cx="406.72" cy="972.33" r="0.9" fill="#128a86"/>
<circle cx="408.89" cy="968.70" r="0.9" fill="#128a86"/>
<circle cx="411.06" cy="967.80" r="0.9" fill="#128a86"/>
<circle cx="413.24" cy="967.87" r="0.9" fill="#128a86"/>
<circle cx="415.41" cy="965.68" r="0.9" fill="#128a86"/>
<circle cx="417.59" cy="963.73" r="0.9" fill="#128a86"/>
<circle cx="419.76" cy="964.48" r="0.9" fill="#128a86"/>
<circle cx="421.93" cy="964.72" r="0.9" fill="#128a86"/>
<circle cx="424.11" cy="962.71" r="0.9" fill="#128a86"/>
<circle cx="426.28" cy="962.06" r="0.9" fill="#128a86"/>
<circle cx="428.46" cy="963.51" r="0.9" fill="#128a86"/>
<circle cx="430.63" cy="963.23" r="0.9" fill="#128a86"/>
<circle cx="432.80" cy="961.42" r="0.9" fill="#128a86"/>
<circle cx="434.98" cy="961.83" r="0.9" fill="#128a86"/>
<circle cx="437.15" cy="963.28" r="0.9" fill="#128a86"/>
<circle cx="439.33" cy="962.29" r="0.9" fill="#128a86"/>
<circle cx="441.50" cy="960.95" r="0.9" fill="#128a86"/>
<polyline points="332.80,1034.02 333.89,1034.01 334.97,1034.00 336.06,1033.99 337.15,1033.98 338.24,1033.96 339.32,1033.94 340.41,1033.92 341.50,1033.90 342.58,1033.87 343.67,1033.84 344.76,1033.81 345.84,1033.77 346.93,1033.73 348.02,1033.68 349.11,1033.62 350.19,1033.56 351.28,1033.49 352.37,1033.41 353.45,1033.32 354.54,1033.22 355.63,1033.11 356.71,1032.98 357.80,1032.83 358.89,1032.66 359.98,1032.48 361.06,1032.27 362.15,1032.03 363.24,1031.76 364.32,1031.47 365.41,1031.13 366.50,1030.75 367.58,1030.33 368.67,1029.86 369.76,1029.33 370.85,1028.74 371.93,1028.09 373.02,1027.37 374.11,1026.56 375.19,1025.68 376.28,1024.70 377.37,1023.63 378.45,1022.47 379.54,1021.19 380.63,1019.82 381.72,1018.33 382.80,1016.73 383.89,1015.03 384.98,1013.23 386.06,1011.33 387.15,1009.33 388.24,1007.26 389.32,1005.12 390.41,1002.93 391.50,1000.70 392.58,998.45 393.67,996.20 394.76,993.96 395.85,991.75 396.93,989.58 398.02,987.48 399.11,985.46 400.19,983.52 401.28,981.68 402.37,979.93 403.45,978.30 404.54,976.77 405.63,975.34 406.72,974.03 407.80,972.82 408.89,971.71 409.98,970.70 411.06,969.78 412.15,968.94 413.24,968.19 414.32,967.51 415.41,966.90 416.50,966.34 417.59,965.85 418.67,965.41 419.76,965.02 420.85,964.66 421.93,964.35 423.02,964.07 424.11,963.82 425.19,963.60 426.28,963.41 427.37,963.23 428.46,963.08 429.54,962.94 430.63,962.82 431.72,962.72 432.80,962.62 433.89,962.54 434.98,962.46 436.06,962.40 437.15,962.34 438.24,962.29 439.33,962.25 440.41,962.21 441.50,962.17" fill="none" stroke="#1a8aa0" stroke-width="1.2" stroke-dasharray="3 1.5"/>
<circle cx="332.80" cy="1035.15" r="0.9" fill="#1a8aa0"/>
<circle cx="334.97" cy="1033.74" r="0.9" fill="#1a8aa0"/>
<circle cx="337.15" cy="1032.92" r="0.9" fill="#1a8aa0"/>
<circle cx="339.32" cy="1034.48" r="0.9" fill="#1a8aa0"/>
<circle cx="341.50" cy="1034.82" r="0.9" fill="#1a8aa0"/>
<circle cx="343.67" cy="1033.07" r="0.9" fill="#1a8aa0"/>
<circle cx="345.84" cy="1033.05" r="0.9" fill="#1a8aa0"/>
<circle cx="348.02" cy="1034.63" r="0.9" fill="#1a8aa0"/>
<circle cx="350.19" cy="1034.03" r="0.9" fill="#1a8aa0"/>
<circle cx="352.37" cy="1032.34" r="0.9" fill="#1a8aa0"/>
<circle cx="354.54" cy="1033.03" r="0.9" fill="#1a8aa0"/>
<circle cx="356.71" cy="1034.10" r="0.9" fill="#1a8aa0"/>
<circle cx="358.89" cy="1032.57" r="0.9" fill="#1a8aa0"/>
<circle cx="361.06" cy="1031.16" r="0.9" fill="#1a8aa0"/>
<circle cx="363.24" cy="1032.14" r="0.9" fill="#1a8aa0"/>
<circle cx="365.41" cy="1032.13" r="0.9" fill="#1a8aa0"/>
<circle cx="367.58" cy="1029.69" r="0.9" fill="#1a8aa0"/>
<circle cx="369.76" cy="1028.49" r="0.9" fill="#1a8aa0"/>
<circle cx="371.93" cy="1028.95" r="0.9" fill="#1a8aa0"/>
<circle cx="374.11" cy="1027.18" r="0.9" fill="#1a8aa0"/>
<circle cx="376.28" cy="1023.69" r="0.9" fill="#1a8aa0"/>
<circle cx="378.45" cy="1022.11" r="0.9" fill="#1a8aa0"/>
<circle cx="380.63" cy="1020.92" r="0.9" fill="#1a8aa0"/>
<circle cx="382.80" cy="1016.81" r="0.9" fill="#1a8aa0"/>
<circle cx="384.98" cy="1012.10" r="0.9" fill="#1a8aa0"/>
<circle cx="387.15" cy="1009.55" r="0.9" fill="#1a8aa0"/>
<circle cx="389.32" cy="1006.19" r="0.9" fill="#1a8aa0"/>
<circle cx="391.50" cy="1000.21" r="0.9" fill="#1a8aa0"/>
<circle cx="393.67" cy="995.25" r="0.9" fill="#1a8aa0"/>
<circle cx="395.85" cy="992.48" r="0.9" fill="#1a8aa0"/>
<circle cx="398.02" cy="988.24" r="0.9" fill="#1a8aa0"/>
<circle cx="400.19" cy="982.59" r="0.9" fill="#1a8aa0"/>
<circle cx="402.37" cy="979.42" r="0.9" fill="#1a8aa0"/>
<circle cx="404.54" cy="977.83" r="0.9" fill="#1a8aa0"/>
<circle cx="406.72" cy="974.27" r="0.9" fill="#1a8aa0"/>
<circle cx="408.89" cy="970.59" r="0.9" fill="#1a8aa0"/>
<circle cx="411.06" cy="969.83" r="0.9" fill="#1a8aa0"/>
<circle cx="413.24" cy="969.30" r="0.9" fill="#1a8aa0"/>
<circle cx="415.41" cy="966.56" r="0.9" fill="#1a8aa0"/>
<circle cx="417.59" cy="964.83" r="0.9" fill="#1a8aa0"/>
<circle cx="419.76" cy="965.62" r="0.9" fill="#1a8aa0"/>
<circle cx="421.93" cy="965.22" r="0.9" fill="#1a8aa0"/>
<circle cx="424.11" cy="963.00" r="0.9" fill="#1a8aa0"/>
<circle cx="426.28" cy="962.75" r="0.9" fill="#1a8aa0"/>
<circle cx="428.46" cy="964.07" r="0.9" fill="#1a8aa0"/>
<circle cx="430.63" cy="963.23" r="0.9" fill="#1a8aa0"/>
<circle cx="432.80" cy="961.53" r="0.9" fill="#1a8aa0"/>
<circle cx="434.98" cy="962.35" r="0.9" fill="#1a8aa0"/>
<circle cx="437.15" cy="963.47" r="0.9" fill="#1a8aa0"/>
<circle cx="439.33" cy="962.07" r="0.9" fill="#1a8aa0"/>
<circle cx="441.50" cy="961.09" r="0.9" fill="#1a8aa0"/>
<polyline points="332.80,1034.08 333.89,1034.08 334.97,1034.07 336.06,1034.07 337.15,1034.07 338.24,1034.06 339.32,1034.06 340.41,1034.05 341.50,1034.05 342.58,1034.04 343.67,1034.03 344.76,1034.02 345.84,1034.01 346.93,1034.00 348.02,1033.99 349.11,1033.98 350.19,1033.96 351.28,1033.94 352.37,1033.92 353.45,1033.89 354.54,1033.86 355.63,1033.83 356.71,1033.79 357.80,1033.75 358.89,1033.70 359.98,1033.65 361.06,1033.59 362.15,1033.52 363.24,1033.44 364.32,1033.34 365.41,1033.24 366.50,1033.12 367.58,1032.98 368.67,1032.83 369.76,1032.66 370.85,1032.46 371.93,1032.23 373.02,1031.98 374.11,1031.69 375.19,1031.37 376.28,1031.00 377.37,1030.59 378.45,1030.12 379.54,1029.59 380.63,1029.01 381.72,1028.35 382.80,1027.61 383.89,1026.79 384.98,1025.88 386.06,1024.87 387.15,1023.76 388.24,1022.54 389.32,1021.21 390.41,1019.75 391.50,1018.18 392.58,1016.49 393.67,1014.68 394.76,1012.76 395.85,1010.73 396.93,1008.60 398.02,1006.39 399.11,1004.11 400.19,1001.79 401.28,999.42 402.37,997.05 403.45,994.68 404.54,992.35 405.63,990.06 406.72,987.83 407.80,985.69 408.89,983.64 409.98,981.70 411.06,979.86 412.15,978.15 413.24,976.55 414.32,975.07 415.41,973.72 416.50,972.47 417.59,971.34 418.67,970.31 419.76,969.38 420.85,968.55 421.93,967.79 423.02,967.12 424.11,966.52 425.19,965.98 426.28,965.50 427.37,965.08 428.46,964.70 429.54,964.37 430.63,964.07 431.72,963.81 432.80,963.58 433.89,963.38 434.98,963.20 436.06,963.04 437.15,962.91 438.24,962.78 439.33,962.68 440.41,962.58 441.50,962.50" fill="none" stroke="#0f9a80" stroke-width="1.2"/>
<circle cx="332.80" cy="1033.41" r="0.9" fill="#0f9a80"/>
<circle cx="334.97" cy="1033.26" r="0.9" fill="#0f9a80"/>
<circle cx="337.15" cy="1034.95" r="0.9" fill="#0f9a80"/>
<circle cx="339.32" cy="1034.65" r="0.9" fill="#0f9a80"/>
<circle cx="341.50" cy="1033.02" r="0.9" fill="#0f9a80"/>
<circle cx="343.67" cy="1033.71" r="0.9" fill="#0f9a80"/>
<circle cx="345.84" cy="1035.13" r="0.9" fill="#0f9a80"/>
<circle cx="348.02" cy="1034.03" r="0.9" fill="#0f9a80"/>
<circle cx="350.19" cy="1032.84" r="0.9" fill="#0f9a80"/>
<circle cx="352.37" cy="1034.17" r="0.9" fill="#0f9a80"/>
<circle cx="354.54" cy="1034.92" r="0.9" fill="#0f9a80"/>
<circle cx="356.71" cy="1033.27" r="0.9" fill="#0f9a80"/>
<circle cx="358.89" cy="1032.78" r="0.9" fill="#0f9a80"/>
<circle cx="361.06" cy="1034.35" r="0.9" fill="#0f9a80"/>
<circle cx="363.24" cy="1034.16" r="0.9" fill="#0f9a80"/>
<circle cx="365.41" cy="1032.29" r="0.9" fill="#0f9a80"/>
<circle cx="367.58" cy="1032.50" r="0.9" fill="#0f9a80"/>
<circle cx="369.76" cy="1033.73" r="0.9" fill="#0f9a80"/>
<circle cx="371.93" cy="1032.44" r="0.9" fill="#0f9a80"/>
<circle cx="374.11" cy="1030.57" r="0.9" fill="#0f9a80"/>
<circle cx="376.28" cy="1031.09" r="0.9" fill="#0f9a80"/>
<circle cx="378.45" cy="1031.22" r="0.9" fill="#0f9a80"/>
<circle cx="380.63" cy="1028.63" r="0.9" fill="#0f9a80"/>
<circle cx="382.80" cy="1026.60" r="0.9" fill="#0f9a80"/>
<circle cx="384.98" cy="1026.51" r="0.9" fill="#0f9a80"/>
<circle cx="387.15" cy="1024.61" r="0.9" fill="#0f9a80"/>
<circle cx="389.32" cy="1020.36" r="0.9" fill="#0f9a80"/>
<circle cx="391.50" cy="1017.56" r="0.9" fill="#0f9a80"/>
<circle cx="393.67" cy="1015.69" r="0.9" fill="#0f9a80"/>
<circle cx="395.85" cy="1011.09" r="0.9" fill="#0f9a80"/>
<circle cx="398.02" cy="1005.29" r="0.9" fill="#0f9a80"/>
<circle cx="400.19" cy="1001.70" r="0.9" fill="#0f9a80"/>
<circle cx="402.37" cy="998.18" r="0.9" fill="#0f9a80"/>
<circle cx="404.54" cy="992.14" r="0.9" fill="#0f9a80"/>
<circle cx="406.72" cy="986.76" r="0.9" fill="#0f9a80"/>
<circle cx="408.89" cy="984.13" r="0.9" fill="#0f9a80"/>
<circle cx="411.06" cy="980.81" r="0.9" fill="#0f9a80"/>
<circle cx="413.24" cy="975.82" r="0.9" fill="#0f9a80"/>
<circle cx="415.41" cy="972.96" r="0.9" fill="#0f9a80"/>
<circle cx="417.59" cy="972.26" r="0.9" fill="#0f9a80"/>
<circle cx="419.76" cy="969.90" r="0.9" fill="#0f9a80"/>
<circle cx="421.93" cy="966.73" r="0.9" fill="#0f9a80"/>
<circle cx="424.11" cy="966.27" r="0.9" fill="#0f9a80"/>
<circle cx="426.28" cy="966.63" r="0.9" fill="#0f9a80"/>
<circle cx="428.46" cy="964.66" r="0.9" fill="#0f9a80"/>
<circle cx="430.63" cy="962.96" r="0.9" fill="#0f9a80"/>
<circle cx="432.80" cy="963.91" r="0.9" fill="#0f9a80"/>
<circle cx="434.98" cy="964.23" r="0.9" fill="#0f9a80"/>
<circle cx="437.15" cy="962.31" r="0.9" fill="#0f9a80"/>
<circle cx="439.33" cy="961.80" r="0.9" fill="#0f9a80"/>
<circle cx="441.50" cy="963.32" r="0.9" fill="#0f9a80"/>
</svg></body></html>
